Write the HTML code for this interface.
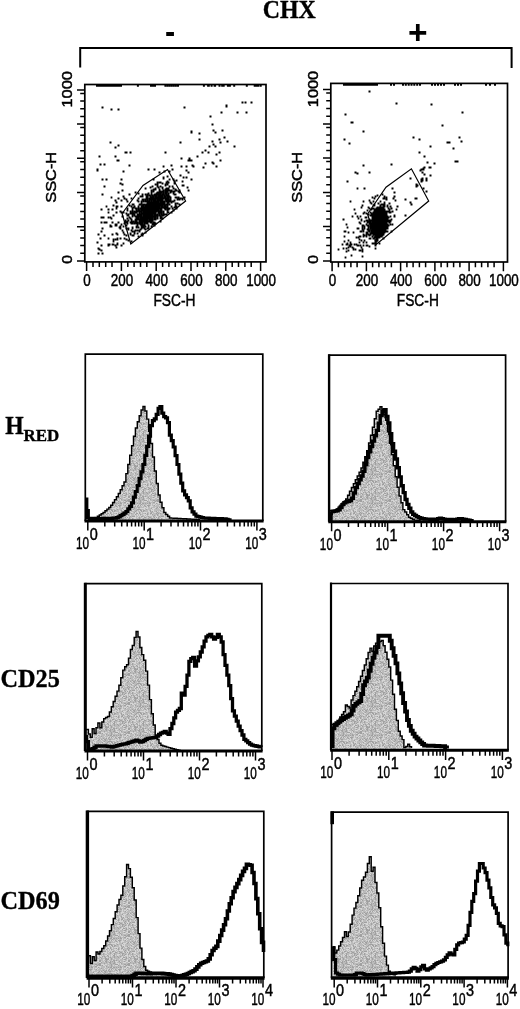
<!DOCTYPE html>
<html lang="en"><head><meta charset="utf-8"><title>CHX figure</title>
<style>html,body{margin:0;padding:0;background:#fff}svg{display:block}text{fill:#000}.s text{stroke:#000;stroke-width:.45px}.b text{stroke:#000;stroke-width:.35px}</style></head><body>
<svg width="520" height="1009" viewBox="0 0 520 1009" font-family='"Liberation Sans", "DejaVu Sans", sans-serif'>
<defs><pattern id="stip" width="29" height="29" patternUnits="userSpaceOnUse"><rect width="29" height="29" fill="#bbb"/><path d="M2 0h1v1h-1zM6 0h1v1h-1zM7 0h1v1h-1zM8 0h1v1h-1zM10 0h1v1h-1zM13 0h1v1h-1zM16 0h1v1h-1zM18 0h1v1h-1zM20 0h1v1h-1zM23 0h1v1h-1zM27 0h1v1h-1zM6 1h1v1h-1zM10 1h1v1h-1zM13 1h1v1h-1zM14 1h1v1h-1zM18 1h1v1h-1zM19 1h1v1h-1zM21 1h1v1h-1zM22 1h1v1h-1zM24 1h1v1h-1zM8 2h1v1h-1zM9 2h1v1h-1zM11 2h1v1h-1zM17 2h1v1h-1zM18 2h1v1h-1zM19 2h1v1h-1zM20 2h1v1h-1zM21 2h1v1h-1zM22 2h1v1h-1zM24 2h1v1h-1zM0 3h1v1h-1zM12 3h1v1h-1zM13 3h1v1h-1zM19 3h1v1h-1zM25 3h1v1h-1zM26 3h1v1h-1zM27 3h1v1h-1zM1 4h1v1h-1zM3 4h1v1h-1zM4 4h1v1h-1zM8 4h1v1h-1zM12 4h1v1h-1zM13 4h1v1h-1zM14 4h1v1h-1zM18 4h1v1h-1zM19 4h1v1h-1zM23 4h1v1h-1zM25 4h1v1h-1zM27 4h1v1h-1zM4 5h1v1h-1zM8 5h1v1h-1zM13 5h1v1h-1zM14 5h1v1h-1zM19 5h1v1h-1zM22 5h1v1h-1zM23 5h1v1h-1zM27 5h1v1h-1zM1 6h1v1h-1zM5 6h1v1h-1zM12 6h1v1h-1zM13 6h1v1h-1zM17 6h1v1h-1zM21 6h1v1h-1zM23 6h1v1h-1zM26 6h1v1h-1zM27 6h1v1h-1zM0 7h1v1h-1zM1 7h1v1h-1zM8 7h1v1h-1zM9 7h1v1h-1zM11 7h1v1h-1zM12 7h1v1h-1zM13 7h1v1h-1zM15 7h1v1h-1zM16 7h1v1h-1zM18 7h1v1h-1zM24 7h1v1h-1zM28 7h1v1h-1zM0 8h1v1h-1zM2 8h1v1h-1zM5 8h1v1h-1zM6 8h1v1h-1zM10 8h1v1h-1zM12 8h1v1h-1zM13 8h1v1h-1zM15 8h1v1h-1zM16 8h1v1h-1zM24 8h1v1h-1zM26 8h1v1h-1zM4 9h1v1h-1zM8 9h1v1h-1zM9 9h1v1h-1zM12 9h1v1h-1zM19 9h1v1h-1zM24 9h1v1h-1zM0 10h1v1h-1zM2 10h1v1h-1zM4 10h1v1h-1zM5 10h1v1h-1zM11 10h1v1h-1zM21 10h1v1h-1zM23 10h1v1h-1zM24 10h1v1h-1zM25 10h1v1h-1zM26 10h1v1h-1zM27 10h1v1h-1zM8 11h1v1h-1zM11 11h1v1h-1zM14 11h1v1h-1zM17 11h1v1h-1zM25 11h1v1h-1zM1 12h1v1h-1zM2 12h1v1h-1zM3 12h1v1h-1zM4 12h1v1h-1zM9 12h1v1h-1zM14 12h1v1h-1zM18 12h1v1h-1zM22 12h1v1h-1zM24 12h1v1h-1zM28 12h1v1h-1zM0 13h1v1h-1zM3 13h1v1h-1zM5 13h1v1h-1zM7 13h1v1h-1zM16 13h1v1h-1zM19 13h1v1h-1zM21 13h1v1h-1zM12 14h1v1h-1zM13 14h1v1h-1zM14 14h1v1h-1zM17 14h1v1h-1zM18 14h1v1h-1zM22 14h1v1h-1zM23 14h1v1h-1zM6 15h1v1h-1zM11 15h1v1h-1zM18 15h1v1h-1zM21 15h1v1h-1zM24 15h1v1h-1zM25 15h1v1h-1zM27 15h1v1h-1zM1 16h1v1h-1zM8 16h1v1h-1zM15 16h1v1h-1zM17 16h1v1h-1zM21 16h1v1h-1zM22 16h1v1h-1zM23 16h1v1h-1zM24 16h1v1h-1zM5 17h1v1h-1zM7 17h1v1h-1zM15 17h1v1h-1zM17 17h1v1h-1zM20 17h1v1h-1zM23 17h1v1h-1zM24 17h1v1h-1zM25 17h1v1h-1zM26 17h1v1h-1zM27 17h1v1h-1zM28 17h1v1h-1zM5 18h1v1h-1zM7 18h1v1h-1zM11 18h1v1h-1zM12 18h1v1h-1zM19 18h1v1h-1zM25 18h1v1h-1zM27 18h1v1h-1zM0 19h1v1h-1zM4 19h1v1h-1zM6 19h1v1h-1zM12 19h1v1h-1zM16 19h1v1h-1zM18 19h1v1h-1zM21 19h1v1h-1zM23 19h1v1h-1zM0 20h1v1h-1zM1 20h1v1h-1zM2 20h1v1h-1zM4 20h1v1h-1zM5 20h1v1h-1zM6 20h1v1h-1zM11 20h1v1h-1zM13 20h1v1h-1zM15 20h1v1h-1zM19 20h1v1h-1zM20 20h1v1h-1zM21 20h1v1h-1zM22 20h1v1h-1zM23 20h1v1h-1zM2 21h1v1h-1zM4 21h1v1h-1zM7 21h1v1h-1zM12 21h1v1h-1zM19 21h1v1h-1zM23 21h1v1h-1zM24 21h1v1h-1zM27 21h1v1h-1zM3 22h1v1h-1zM4 22h1v1h-1zM6 22h1v1h-1zM9 22h1v1h-1zM12 22h1v1h-1zM19 22h1v1h-1zM21 22h1v1h-1zM25 22h1v1h-1zM28 22h1v1h-1zM3 23h1v1h-1zM8 23h1v1h-1zM14 23h1v1h-1zM16 23h1v1h-1zM17 23h1v1h-1zM18 23h1v1h-1zM25 23h1v1h-1zM26 23h1v1h-1zM0 24h1v1h-1zM4 24h1v1h-1zM5 24h1v1h-1zM9 24h1v1h-1zM11 24h1v1h-1zM12 24h1v1h-1zM13 24h1v1h-1zM23 24h1v1h-1zM27 24h1v1h-1zM28 24h1v1h-1zM3 25h1v1h-1zM6 25h1v1h-1zM7 25h1v1h-1zM11 25h1v1h-1zM13 25h1v1h-1zM16 25h1v1h-1zM23 25h1v1h-1zM27 25h1v1h-1zM2 26h1v1h-1zM6 26h1v1h-1zM9 26h1v1h-1zM12 26h1v1h-1zM16 26h1v1h-1zM24 26h1v1h-1zM27 26h1v1h-1zM2 27h1v1h-1zM6 27h1v1h-1zM8 27h1v1h-1zM9 27h1v1h-1zM13 27h1v1h-1zM18 27h1v1h-1zM20 27h1v1h-1zM26 27h1v1h-1zM27 27h1v1h-1zM1 28h1v1h-1zM4 28h1v1h-1zM13 28h1v1h-1zM15 28h1v1h-1zM17 28h1v1h-1zM21 28h1v1h-1zM27 28h1v1h-1z" fill="#a0a0a0"/><path d="M5 0h1v1h-1zM6 0h1v1h-1zM11 0h1v1h-1zM16 0h1v1h-1zM19 0h1v1h-1zM20 0h1v1h-1zM4 1h1v1h-1zM5 1h1v1h-1zM7 1h1v1h-1zM8 1h1v1h-1zM13 1h1v1h-1zM22 1h1v1h-1zM26 1h1v1h-1zM3 2h1v1h-1zM11 2h1v1h-1zM16 2h1v1h-1zM17 2h1v1h-1zM22 2h1v1h-1zM28 2h1v1h-1zM7 3h1v1h-1zM8 3h1v1h-1zM11 3h1v1h-1zM16 3h1v1h-1zM21 3h1v1h-1zM25 3h1v1h-1zM0 4h1v1h-1zM1 4h1v1h-1zM4 4h1v1h-1zM10 4h1v1h-1zM11 4h1v1h-1zM14 4h1v1h-1zM17 4h1v1h-1zM22 4h1v1h-1zM28 4h1v1h-1zM0 5h1v1h-1zM7 5h1v1h-1zM8 5h1v1h-1zM9 5h1v1h-1zM12 5h1v1h-1zM13 5h1v1h-1zM0 6h1v1h-1zM1 6h1v1h-1zM2 6h1v1h-1zM4 6h1v1h-1zM21 6h1v1h-1zM2 7h1v1h-1zM4 7h1v1h-1zM14 7h1v1h-1zM15 7h1v1h-1zM16 7h1v1h-1zM18 7h1v1h-1zM19 7h1v1h-1zM0 8h1v1h-1zM1 8h1v1h-1zM5 8h1v1h-1zM6 8h1v1h-1zM8 8h1v1h-1zM16 8h1v1h-1zM17 8h1v1h-1zM21 8h1v1h-1zM26 8h1v1h-1zM28 8h1v1h-1zM10 9h1v1h-1zM11 9h1v1h-1zM12 9h1v1h-1zM13 9h1v1h-1zM18 9h1v1h-1zM6 10h1v1h-1zM10 10h1v1h-1zM13 10h1v1h-1zM18 10h1v1h-1zM25 10h1v1h-1zM2 11h1v1h-1zM6 11h1v1h-1zM8 11h1v1h-1zM9 11h1v1h-1zM11 11h1v1h-1zM17 11h1v1h-1zM21 11h1v1h-1zM1 12h1v1h-1zM6 12h1v1h-1zM10 12h1v1h-1zM14 12h1v1h-1zM18 12h1v1h-1zM20 12h1v1h-1zM23 12h1v1h-1zM25 12h1v1h-1zM27 12h1v1h-1zM2 13h1v1h-1zM5 13h1v1h-1zM6 13h1v1h-1zM7 13h1v1h-1zM20 13h1v1h-1zM26 13h1v1h-1zM0 14h1v1h-1zM2 14h1v1h-1zM5 14h1v1h-1zM10 14h1v1h-1zM13 14h1v1h-1zM16 14h1v1h-1zM28 14h1v1h-1zM1 15h1v1h-1zM2 15h1v1h-1zM7 15h1v1h-1zM8 15h1v1h-1zM9 15h1v1h-1zM14 15h1v1h-1zM21 15h1v1h-1zM24 15h1v1h-1zM25 15h1v1h-1zM26 15h1v1h-1zM27 15h1v1h-1zM28 15h1v1h-1zM6 16h1v1h-1zM8 16h1v1h-1zM15 16h1v1h-1zM28 16h1v1h-1zM3 17h1v1h-1zM6 17h1v1h-1zM7 17h1v1h-1zM8 17h1v1h-1zM16 17h1v1h-1zM17 17h1v1h-1zM23 17h1v1h-1zM26 17h1v1h-1zM3 18h1v1h-1zM4 18h1v1h-1zM8 18h1v1h-1zM12 18h1v1h-1zM14 18h1v1h-1zM21 18h1v1h-1zM24 18h1v1h-1zM0 19h1v1h-1zM1 19h1v1h-1zM4 19h1v1h-1zM9 19h1v1h-1zM10 19h1v1h-1zM15 19h1v1h-1zM16 19h1v1h-1zM19 19h1v1h-1zM21 19h1v1h-1zM22 19h1v1h-1zM25 19h1v1h-1zM27 19h1v1h-1zM28 19h1v1h-1zM1 20h1v1h-1zM4 20h1v1h-1zM7 20h1v1h-1zM19 20h1v1h-1zM22 20h1v1h-1zM25 20h1v1h-1zM0 21h1v1h-1zM4 21h1v1h-1zM6 21h1v1h-1zM14 21h1v1h-1zM18 21h1v1h-1zM21 21h1v1h-1zM23 21h1v1h-1zM27 21h1v1h-1zM28 21h1v1h-1zM1 22h1v1h-1zM3 22h1v1h-1zM4 22h1v1h-1zM5 22h1v1h-1zM6 22h1v1h-1zM11 22h1v1h-1zM14 22h1v1h-1zM19 22h1v1h-1zM21 22h1v1h-1zM23 22h1v1h-1zM25 22h1v1h-1zM28 22h1v1h-1zM0 23h1v1h-1zM7 23h1v1h-1zM11 23h1v1h-1zM12 23h1v1h-1zM19 23h1v1h-1zM22 23h1v1h-1zM24 23h1v1h-1zM2 24h1v1h-1zM7 24h1v1h-1zM10 24h1v1h-1zM12 24h1v1h-1zM16 24h1v1h-1zM17 24h1v1h-1zM18 24h1v1h-1zM19 24h1v1h-1zM21 24h1v1h-1zM26 24h1v1h-1zM27 24h1v1h-1zM11 25h1v1h-1zM15 25h1v1h-1zM18 25h1v1h-1zM19 25h1v1h-1zM25 25h1v1h-1zM1 26h1v1h-1zM2 26h1v1h-1zM3 26h1v1h-1zM5 26h1v1h-1zM11 26h1v1h-1zM20 26h1v1h-1zM24 26h1v1h-1zM26 26h1v1h-1zM1 27h1v1h-1zM2 27h1v1h-1zM9 27h1v1h-1zM10 27h1v1h-1zM11 27h1v1h-1zM13 27h1v1h-1zM15 27h1v1h-1zM18 27h1v1h-1zM19 27h1v1h-1zM22 27h1v1h-1zM24 27h1v1h-1zM25 27h1v1h-1zM28 27h1v1h-1zM6 28h1v1h-1zM8 28h1v1h-1zM11 28h1v1h-1zM13 28h1v1h-1zM14 28h1v1h-1zM22 28h1v1h-1zM24 28h1v1h-1z" fill="#d6d6d6"/></pattern></defs>
<rect width="520" height="1009" fill="#fff"/>
<g class="b" font-family='"Liberation Serif", "DejaVu Serif", serif' font-weight="bold">
<text transform="translate(289.3 17.6) scale(0.955 1)" font-size="25" text-anchor="middle">CHX</text>
</g>
<g font-weight="bold">
<text transform="translate(170 43.3) scale(0.9 1)" font-size="34" text-anchor="middle">-</text>
<text x="417.9" y="44.4" font-size="33.5" text-anchor="middle">+</text>
</g>
<path d="M80.2 67.5V47.9H511.6V68" fill="none" stroke="#000" stroke-width="2"/>
<g class="s">
<rect x="84.8" y="84.5" width="181.2" height="177.4" fill="none" stroke="#000" stroke-width="1.7"/>
<path d="M84.8 260.9h-7.8M86.6 261.9v9.2M93 261.9v5.2M99.3 261.9v5.2M105.7 261.9v5.2M112 261.9v5.2M84.8 226.7h-7.8M121.4 261.9v9.2M84.8 230.2h-4.6M127.8 261.9v5.2M84.8 237.9h-4.6M134.1 261.9v5.2M84.8 245.6h-4.6M140.5 261.9v5.2M84.8 253.3h-4.6M146.8 261.9v5.2M84.8 192.5h-7.8M156.2 261.9v9.2M84.8 196h-4.6M162.6 261.9v5.2M84.8 203.7h-4.6M168.9 261.9v5.2M84.8 211.4h-4.6M175.3 261.9v5.2M84.8 219.1h-4.6M181.6 261.9v5.2M84.8 158.3h-7.8M191 261.9v9.2M84.8 161.8h-4.6M197.4 261.9v5.2M84.8 169.5h-4.6M203.7 261.9v5.2M84.8 177.2h-4.6M210.1 261.9v5.2M84.8 184.9h-4.6M216.4 261.9v5.2M84.8 124.1h-7.8M225.8 261.9v9.2M84.8 127.6h-4.6M232.2 261.9v5.2M84.8 135.3h-4.6M238.5 261.9v5.2M84.8 143h-4.6M244.9 261.9v5.2M84.8 150.7h-4.6M251.2 261.9v5.2M84.8 89.9h-7.8M260.6 261.9v9.2M84.8 93.4h-4.6M84.8 101.1h-4.6M84.8 108.8h-4.6M84.8 116.5h-4.6" stroke="#000" stroke-width="1.5" fill="none"/>
<text transform="translate(87.1 285.6) scale(0.85 1)" font-size="15.8" text-anchor="middle">0</text>
<text transform="translate(121.9 285.6) scale(0.85 1)" font-size="15.8" text-anchor="middle">200</text>
<text transform="translate(156.7 285.6) scale(0.85 1)" font-size="15.8" text-anchor="middle">400</text>
<text transform="translate(191.5 285.6) scale(0.85 1)" font-size="15.8" text-anchor="middle">600</text>
<text transform="translate(226.3 285.6) scale(0.85 1)" font-size="15.8" text-anchor="middle">800</text>
<text transform="translate(261.1 285.6) scale(0.85 1)" font-size="15.8" text-anchor="middle">1000</text>
<text transform="translate(174.5 306.2) scale(0.83 1)" font-size="16.6" text-anchor="middle">FSC-H</text>
<text transform="translate(71.8 89.3) rotate(-90) scale(1.17 1)" font-size="14" text-anchor="middle">1000</text>
<text transform="translate(71.8 259.4) rotate(-90) scale(1.12 1)" font-size="14" text-anchor="middle">0</text>
<text transform="translate(55.5 177.3) rotate(-90) scale(1.09 1)" font-size="15" text-anchor="middle">SSC-H</text>
<path d="M156.6 193.6h1.9v1.9h-1.9zM150.6 214.6h1.9v1.9h-1.9zM149.6 207.6h1.9v1.9h-1.9zM154.6 206.6h1.9v1.9h-1.9zM147.6 215.6h1.9v1.9h-1.9zM147.6 206.6h1.9v1.9h-1.9zM151.6 209.6h1.9v1.9h-1.9zM141.6 222.6h1.9v1.9h-1.9zM156.6 201.6h1.9v1.9h-1.9zM151.6 202.6h1.9v1.9h-1.9zM145.6 212.6h1.9v1.9h-1.9zM151.6 211.6h1.9v1.9h-1.9zM160.6 210.6h1.9v1.9h-1.9zM145.6 208.6h1.9v1.9h-1.9zM150.6 211.6h1.9v1.9h-1.9zM140.6 218.6h1.9v1.9h-1.9zM155.6 206.6h1.9v1.9h-1.9zM152.6 208.6h1.9v1.9h-1.9zM155.6 209.6h1.9v1.9h-1.9zM131.6 213.6h1.9v1.9h-1.9zM157.6 194.6h1.9v1.9h-1.9zM147.6 204.6h1.9v1.9h-1.9zM147.6 211.6h1.9v1.9h-1.9zM158.6 191.6h1.9v1.9h-1.9zM147.6 207.6h1.9v1.9h-1.9zM144.6 221.6h1.9v1.9h-1.9zM154.6 216.6h1.9v1.9h-1.9zM127.5 219.6h1.9v1.9h-1.9zM154.6 199.6h1.9v1.9h-1.9zM148.6 212.6h1.9v1.9h-1.9zM145.6 214.6h1.9v1.9h-1.9zM154.6 199.6h1.9v1.9h-1.9zM136.6 217.6h1.9v1.9h-1.9zM149.6 202.6h1.9v1.9h-1.9zM141.6 226.6h1.9v1.9h-1.9zM150.6 216.6h1.9v1.9h-1.9zM143.6 218.6h1.9v1.9h-1.9zM155.6 195.6h1.9v1.9h-1.9zM160.6 195.6h1.9v1.9h-1.9zM147.6 210.6h1.9v1.9h-1.9zM156.6 203.6h1.9v1.9h-1.9zM149.6 210.6h1.9v1.9h-1.9zM150.6 202.6h1.9v1.9h-1.9zM146.6 214.6h1.9v1.9h-1.9zM136.6 218.6h1.9v1.9h-1.9zM142.6 224.6h1.9v1.9h-1.9zM156.6 208.6h1.9v1.9h-1.9zM158.6 188.6h1.9v1.9h-1.9zM152.6 207.6h1.9v1.9h-1.9zM143.6 210.6h1.9v1.9h-1.9zM164.6 196.6h1.9v1.9h-1.9zM154.6 208.6h1.9v1.9h-1.9zM149.6 207.6h1.9v1.9h-1.9zM154.6 209.6h1.9v1.9h-1.9zM147.6 208.6h1.9v1.9h-1.9zM146.6 209.6h1.9v1.9h-1.9zM140.6 218.6h1.9v1.9h-1.9zM152.6 204.6h1.9v1.9h-1.9zM148.6 208.6h1.9v1.9h-1.9zM157.6 199.6h1.9v1.9h-1.9zM145.6 209.6h1.9v1.9h-1.9zM142.6 225.6h1.9v1.9h-1.9zM153.6 211.6h1.9v1.9h-1.9zM157.6 194.6h1.9v1.9h-1.9zM142.6 207.6h1.9v1.9h-1.9zM147.6 217.6h1.9v1.9h-1.9zM147.6 220.6h1.9v1.9h-1.9zM143.6 216.6h1.9v1.9h-1.9zM143.6 207.6h1.9v1.9h-1.9zM144.6 218.6h1.9v1.9h-1.9zM163.6 200.6h1.9v1.9h-1.9zM141.6 205.6h1.9v1.9h-1.9zM152.6 208.6h1.9v1.9h-1.9zM156.6 196.6h1.9v1.9h-1.9zM155.6 194.6h1.9v1.9h-1.9zM150.6 211.6h1.9v1.9h-1.9zM147.6 202.6h1.9v1.9h-1.9zM155.6 203.6h1.9v1.9h-1.9zM153.6 213.6h1.9v1.9h-1.9zM140.6 222.6h1.9v1.9h-1.9zM150.6 201.6h1.9v1.9h-1.9zM148.6 197.6h1.9v1.9h-1.9zM147.6 202.6h1.9v1.9h-1.9zM138.6 211.6h1.9v1.9h-1.9zM154.6 214.6h1.9v1.9h-1.9zM145.6 212.6h1.9v1.9h-1.9zM144.6 208.6h1.9v1.9h-1.9zM152.6 195.6h1.9v1.9h-1.9zM154.6 194.6h1.9v1.9h-1.9zM152.6 202.6h1.9v1.9h-1.9zM148.6 201.6h1.9v1.9h-1.9zM159.6 207.6h1.9v1.9h-1.9zM147.6 206.6h1.9v1.9h-1.9zM146.6 207.6h1.9v1.9h-1.9zM147.6 214.6h1.9v1.9h-1.9zM154.6 212.6h1.9v1.9h-1.9zM167.6 194.6h1.9v1.9h-1.9zM153.6 200.6h1.9v1.9h-1.9zM149.6 211.6h1.9v1.9h-1.9zM147.6 212.6h1.9v1.9h-1.9zM147.6 216.6h1.9v1.9h-1.9zM152.6 206.6h1.9v1.9h-1.9zM148.6 203.6h1.9v1.9h-1.9zM137.6 216.6h1.9v1.9h-1.9zM153.6 205.6h1.9v1.9h-1.9zM142.6 209.6h1.9v1.9h-1.9zM162.6 200.6h1.9v1.9h-1.9zM151.6 207.6h1.9v1.9h-1.9zM155.6 192.6h1.9v1.9h-1.9zM146.6 211.6h1.9v1.9h-1.9zM146.6 209.6h1.9v1.9h-1.9zM151.6 205.6h1.9v1.9h-1.9zM159.6 202.6h1.9v1.9h-1.9zM148.6 200.6h1.9v1.9h-1.9zM136.6 213.6h1.9v1.9h-1.9zM152.6 207.6h1.9v1.9h-1.9zM149.6 207.6h1.9v1.9h-1.9zM148.6 212.6h1.9v1.9h-1.9zM147.6 214.6h1.9v1.9h-1.9zM159.6 194.6h1.9v1.9h-1.9zM150.6 213.6h1.9v1.9h-1.9zM142.6 212.6h1.9v1.9h-1.9zM153.6 203.6h1.9v1.9h-1.9zM147.6 205.6h1.9v1.9h-1.9zM145.6 206.6h1.9v1.9h-1.9zM156.6 204.6h1.9v1.9h-1.9zM154.6 206.6h1.9v1.9h-1.9zM145.6 200.6h1.9v1.9h-1.9zM151.6 198.6h1.9v1.9h-1.9zM152.6 207.6h1.9v1.9h-1.9zM150.6 215.6h1.9v1.9h-1.9zM145.6 209.6h1.9v1.9h-1.9zM146.6 212.6h1.9v1.9h-1.9zM146.6 203.6h1.9v1.9h-1.9zM152.6 223.6h1.9v1.9h-1.9zM141.6 223.6h1.9v1.9h-1.9zM153.6 210.6h1.9v1.9h-1.9zM144.6 220.6h1.9v1.9h-1.9zM142.6 225.6h1.9v1.9h-1.9zM154.6 207.6h1.9v1.9h-1.9zM144.6 213.6h1.9v1.9h-1.9zM155.6 206.6h1.9v1.9h-1.9zM147.6 212.6h1.9v1.9h-1.9zM148.6 220.6h1.9v1.9h-1.9zM140.6 216.6h1.9v1.9h-1.9zM145.6 211.6h1.9v1.9h-1.9zM150.6 212.6h1.9v1.9h-1.9zM149.6 218.6h1.9v1.9h-1.9zM148.6 211.6h1.9v1.9h-1.9zM139.6 218.6h1.9v1.9h-1.9zM149.6 208.6h1.9v1.9h-1.9zM138.6 221.6h1.9v1.9h-1.9zM155.6 214.6h1.9v1.9h-1.9zM156.6 205.6h1.9v1.9h-1.9zM160.6 203.6h1.9v1.9h-1.9zM160.6 196.6h1.9v1.9h-1.9zM139.6 219.6h1.9v1.9h-1.9zM158.6 205.6h1.9v1.9h-1.9zM162.6 203.6h1.9v1.9h-1.9zM157.6 202.6h1.9v1.9h-1.9zM144.6 215.6h1.9v1.9h-1.9zM156.6 208.6h1.9v1.9h-1.9zM158.6 193.6h1.9v1.9h-1.9zM144.6 221.6h1.9v1.9h-1.9zM150.6 203.6h1.9v1.9h-1.9zM152.6 197.6h1.9v1.9h-1.9zM148.6 215.6h1.9v1.9h-1.9zM154.6 204.6h1.9v1.9h-1.9zM150.6 221.6h1.9v1.9h-1.9zM144.6 214.6h1.9v1.9h-1.9zM145.6 214.6h1.9v1.9h-1.9zM147.6 204.6h1.9v1.9h-1.9zM142.6 204.6h1.9v1.9h-1.9zM149.6 196.6h1.9v1.9h-1.9zM146.6 216.6h1.9v1.9h-1.9zM145.6 206.6h1.9v1.9h-1.9zM159.6 203.6h1.9v1.9h-1.9zM158.6 207.6h1.9v1.9h-1.9zM141.6 218.6h1.9v1.9h-1.9zM159.6 207.6h1.9v1.9h-1.9zM148.6 212.6h1.9v1.9h-1.9zM156.6 208.6h1.9v1.9h-1.9zM150.6 205.6h1.9v1.9h-1.9zM160.6 201.6h1.9v1.9h-1.9zM147.6 205.6h1.9v1.9h-1.9zM141.6 224.6h1.9v1.9h-1.9zM140.6 217.6h1.9v1.9h-1.9zM153.6 202.6h1.9v1.9h-1.9zM150.6 212.6h1.9v1.9h-1.9zM156.6 200.6h1.9v1.9h-1.9zM151.6 206.6h1.9v1.9h-1.9zM148.6 216.6h1.9v1.9h-1.9zM158.6 202.6h1.9v1.9h-1.9zM140.6 211.6h1.9v1.9h-1.9zM140.6 225.6h1.9v1.9h-1.9zM163.6 194.6h1.9v1.9h-1.9zM136.6 221.6h1.9v1.9h-1.9zM154.6 204.6h1.9v1.9h-1.9zM150.6 197.6h1.9v1.9h-1.9zM155.6 210.6h1.9v1.9h-1.9zM139.6 220.6h1.9v1.9h-1.9zM155.6 200.6h1.9v1.9h-1.9zM146.6 222.6h1.9v1.9h-1.9zM142.6 218.6h1.9v1.9h-1.9zM150.6 212.6h1.9v1.9h-1.9zM150.6 199.6h1.9v1.9h-1.9zM149.6 204.6h1.9v1.9h-1.9zM149.6 198.6h1.9v1.9h-1.9zM146.6 211.6h1.9v1.9h-1.9zM152.6 212.6h1.9v1.9h-1.9zM144.6 217.6h1.9v1.9h-1.9zM151.6 213.6h1.9v1.9h-1.9zM149.6 201.6h1.9v1.9h-1.9zM145.6 208.6h1.9v1.9h-1.9zM151.6 203.6h1.9v1.9h-1.9zM148.6 214.6h1.9v1.9h-1.9zM147.6 213.6h1.9v1.9h-1.9zM150.6 208.6h1.9v1.9h-1.9zM151.6 211.6h1.9v1.9h-1.9zM152.6 203.6h1.9v1.9h-1.9zM150.6 207.6h1.9v1.9h-1.9zM164.6 198.6h1.9v1.9h-1.9zM146.6 208.6h1.9v1.9h-1.9zM149.6 210.6h1.9v1.9h-1.9zM149.6 220.6h1.9v1.9h-1.9zM150.6 208.6h1.9v1.9h-1.9zM156.6 204.6h1.9v1.9h-1.9zM143.6 212.6h1.9v1.9h-1.9zM156.6 213.6h1.9v1.9h-1.9zM146.6 197.6h1.9v1.9h-1.9zM145.6 206.6h1.9v1.9h-1.9zM143.6 209.6h1.9v1.9h-1.9zM161.6 205.6h1.9v1.9h-1.9zM151.6 208.6h1.9v1.9h-1.9zM151.6 204.6h1.9v1.9h-1.9zM151.6 196.6h1.9v1.9h-1.9zM157.6 200.6h1.9v1.9h-1.9zM148.6 211.6h1.9v1.9h-1.9zM144.6 210.6h1.9v1.9h-1.9zM146.6 202.6h1.9v1.9h-1.9zM145.6 206.6h1.9v1.9h-1.9zM140.6 223.6h1.9v1.9h-1.9zM158.6 199.6h1.9v1.9h-1.9zM150.6 208.6h1.9v1.9h-1.9zM153.6 202.6h1.9v1.9h-1.9zM137.6 213.6h1.9v1.9h-1.9zM157.6 198.6h1.9v1.9h-1.9zM143.6 210.6h1.9v1.9h-1.9zM149.6 209.6h1.9v1.9h-1.9zM143.6 220.6h1.9v1.9h-1.9zM146.6 208.6h1.9v1.9h-1.9zM145.6 207.6h1.9v1.9h-1.9zM152.6 212.6h1.9v1.9h-1.9zM153.6 205.6h1.9v1.9h-1.9zM148.6 206.6h1.9v1.9h-1.9zM144.6 193.6h1.9v1.9h-1.9zM147.6 211.6h1.9v1.9h-1.9zM146.6 217.6h1.9v1.9h-1.9zM153.6 211.6h1.9v1.9h-1.9zM151.6 201.6h1.9v1.9h-1.9zM154.6 197.6h1.9v1.9h-1.9zM152.6 201.6h1.9v1.9h-1.9zM143.6 224.6h1.9v1.9h-1.9zM147.6 202.6h1.9v1.9h-1.9zM157.6 196.6h1.9v1.9h-1.9zM147.6 205.6h1.9v1.9h-1.9zM148.6 213.6h1.9v1.9h-1.9zM146.6 202.6h1.9v1.9h-1.9zM148.6 213.6h1.9v1.9h-1.9zM151.6 202.6h1.9v1.9h-1.9zM149.6 208.6h1.9v1.9h-1.9zM159.6 199.6h1.9v1.9h-1.9zM156.6 207.6h1.9v1.9h-1.9zM140.6 209.6h1.9v1.9h-1.9zM156.6 206.6h1.9v1.9h-1.9zM157.6 202.6h1.9v1.9h-1.9zM145.6 212.6h1.9v1.9h-1.9zM152.6 215.6h1.9v1.9h-1.9zM137.6 226.6h1.9v1.9h-1.9zM159.6 204.6h1.9v1.9h-1.9zM144.6 211.6h1.9v1.9h-1.9zM135.6 222.6h1.9v1.9h-1.9zM144.6 225.6h1.9v1.9h-1.9zM156.6 215.6h1.9v1.9h-1.9zM156.6 204.6h1.9v1.9h-1.9zM152.6 211.6h1.9v1.9h-1.9zM150.6 203.6h1.9v1.9h-1.9zM139.6 213.6h1.9v1.9h-1.9zM141.6 218.6h1.9v1.9h-1.9zM160.6 205.6h1.9v1.9h-1.9zM146.6 200.6h1.9v1.9h-1.9zM148.6 207.6h1.9v1.9h-1.9zM150.6 193.6h1.9v1.9h-1.9zM145.6 216.6h1.9v1.9h-1.9zM150.6 213.6h1.9v1.9h-1.9zM151.6 197.6h1.9v1.9h-1.9zM158.6 193.6h1.9v1.9h-1.9zM154.6 211.6h1.9v1.9h-1.9zM158.6 195.6h1.9v1.9h-1.9zM142.6 210.6h1.9v1.9h-1.9zM147.6 202.6h1.9v1.9h-1.9zM141.6 204.6h1.9v1.9h-1.9zM143.6 222.6h1.9v1.9h-1.9zM148.6 204.6h1.9v1.9h-1.9zM158.6 203.6h1.9v1.9h-1.9zM152.6 211.6h1.9v1.9h-1.9zM147.6 207.6h1.9v1.9h-1.9zM155.6 196.6h1.9v1.9h-1.9zM145.6 220.6h1.9v1.9h-1.9zM142.6 220.6h1.9v1.9h-1.9zM147.6 214.6h1.9v1.9h-1.9zM137.6 213.6h1.9v1.9h-1.9zM160.6 200.6h1.9v1.9h-1.9zM148.6 203.6h1.9v1.9h-1.9zM137.6 209.6h1.9v1.9h-1.9zM144.6 211.6h1.9v1.9h-1.9zM167.6 187.6h1.9v1.9h-1.9zM153.6 218.6h1.9v1.9h-1.9zM144.6 213.6h1.9v1.9h-1.9zM147.6 202.6h1.9v1.9h-1.9zM160.6 208.6h1.9v1.9h-1.9zM151.6 207.6h1.9v1.9h-1.9zM144.6 214.6h1.9v1.9h-1.9zM139.6 214.6h1.9v1.9h-1.9zM149.6 201.6h1.9v1.9h-1.9zM154.6 212.6h1.9v1.9h-1.9zM139.6 220.6h1.9v1.9h-1.9zM154.6 198.6h1.9v1.9h-1.9zM152.6 201.6h1.9v1.9h-1.9zM154.6 214.6h1.9v1.9h-1.9zM146.6 209.6h1.9v1.9h-1.9zM153.6 208.6h1.9v1.9h-1.9zM147.6 214.6h1.9v1.9h-1.9zM143.6 219.6h1.9v1.9h-1.9zM148.6 203.6h1.9v1.9h-1.9zM144.6 221.6h1.9v1.9h-1.9zM157.6 209.6h1.9v1.9h-1.9zM141.6 219.6h1.9v1.9h-1.9zM146.6 206.6h1.9v1.9h-1.9zM144.6 206.6h1.9v1.9h-1.9zM160.6 195.6h1.9v1.9h-1.9zM143.6 216.6h1.9v1.9h-1.9zM141.6 219.6h1.9v1.9h-1.9zM146.6 213.6h1.9v1.9h-1.9zM138.6 213.6h1.9v1.9h-1.9zM149.6 215.6h1.9v1.9h-1.9zM153.6 205.6h1.9v1.9h-1.9zM154.6 202.6h1.9v1.9h-1.9zM159.6 196.6h1.9v1.9h-1.9zM149.6 216.6h1.9v1.9h-1.9zM164.6 188.6h1.9v1.9h-1.9zM157.6 191.6h1.9v1.9h-1.9zM152.6 212.6h1.9v1.9h-1.9zM135.6 225.6h1.9v1.9h-1.9zM147.6 207.6h1.9v1.9h-1.9zM144.6 204.6h1.9v1.9h-1.9zM137.6 226.6h1.9v1.9h-1.9zM146.6 205.6h1.9v1.9h-1.9zM147.6 208.6h1.9v1.9h-1.9zM147.6 215.6h1.9v1.9h-1.9zM153.6 203.6h1.9v1.9h-1.9zM159.6 203.6h1.9v1.9h-1.9zM148.6 213.6h1.9v1.9h-1.9zM149.6 205.6h1.9v1.9h-1.9zM145.6 212.6h1.9v1.9h-1.9zM143.6 213.6h1.9v1.9h-1.9zM152.6 209.6h1.9v1.9h-1.9zM152.6 204.6h1.9v1.9h-1.9zM145.6 211.6h1.9v1.9h-1.9zM140.6 227.6h1.9v1.9h-1.9zM153.6 204.6h1.9v1.9h-1.9zM139.6 219.6h1.9v1.9h-1.9zM145.6 203.6h1.9v1.9h-1.9zM161.6 195.6h1.9v1.9h-1.9zM150.6 209.6h1.9v1.9h-1.9zM143.6 217.6h1.9v1.9h-1.9zM140.6 218.6h1.9v1.9h-1.9zM153.6 197.6h1.9v1.9h-1.9zM149.6 208.6h1.9v1.9h-1.9zM153.6 204.6h1.9v1.9h-1.9zM154.6 201.6h1.9v1.9h-1.9zM149.6 208.6h1.9v1.9h-1.9zM146.6 209.6h1.9v1.9h-1.9zM145.6 216.6h1.9v1.9h-1.9zM133.6 232.6h1.9v1.9h-1.9zM138.6 218.6h1.9v1.9h-1.9zM152.6 210.6h1.9v1.9h-1.9zM151.6 211.6h1.9v1.9h-1.9zM155.6 207.6h1.9v1.9h-1.9zM148.6 209.6h1.9v1.9h-1.9zM150.6 206.6h1.9v1.9h-1.9zM150.6 199.6h1.9v1.9h-1.9zM147.6 217.6h1.9v1.9h-1.9zM140.6 205.6h1.9v1.9h-1.9zM139.6 219.6h1.9v1.9h-1.9zM154.6 200.6h1.9v1.9h-1.9zM153.6 210.6h1.9v1.9h-1.9zM152.6 204.6h1.9v1.9h-1.9zM155.6 194.6h1.9v1.9h-1.9zM150.6 196.6h1.9v1.9h-1.9zM147.6 207.6h1.9v1.9h-1.9zM154.6 202.6h1.9v1.9h-1.9zM142.6 219.6h1.9v1.9h-1.9zM151.6 204.6h1.9v1.9h-1.9zM148.6 205.6h1.9v1.9h-1.9zM140.6 220.6h1.9v1.9h-1.9zM160.6 200.6h1.9v1.9h-1.9zM142.6 211.6h1.9v1.9h-1.9zM153.6 203.6h1.9v1.9h-1.9zM153.6 215.6h1.9v1.9h-1.9zM157.6 202.6h1.9v1.9h-1.9zM155.6 197.6h1.9v1.9h-1.9zM147.6 216.6h1.9v1.9h-1.9zM138.6 218.6h1.9v1.9h-1.9zM149.6 209.6h1.9v1.9h-1.9zM160.6 205.6h1.9v1.9h-1.9zM154.6 216.6h1.9v1.9h-1.9zM140.6 208.6h1.9v1.9h-1.9zM155.6 206.6h1.9v1.9h-1.9zM141.6 234.6h1.9v1.9h-1.9zM144.6 212.6h1.9v1.9h-1.9zM143.6 219.6h1.9v1.9h-1.9zM156.6 209.6h1.9v1.9h-1.9zM144.6 212.6h1.9v1.9h-1.9zM145.6 218.6h1.9v1.9h-1.9zM147.6 211.6h1.9v1.9h-1.9zM135.6 215.6h1.9v1.9h-1.9zM151.6 209.6h1.9v1.9h-1.9zM145.6 213.6h1.9v1.9h-1.9zM151.6 213.6h1.9v1.9h-1.9zM160.6 198.6h1.9v1.9h-1.9zM142.6 205.6h1.9v1.9h-1.9zM157.6 201.6h1.9v1.9h-1.9zM150.6 199.6h1.9v1.9h-1.9zM157.6 186.6h1.9v1.9h-1.9zM136.6 224.6h1.9v1.9h-1.9zM138.6 220.6h1.9v1.9h-1.9zM125.5 227.6h1.9v1.9h-1.9zM161.6 202.6h1.9v1.9h-1.9zM144.6 214.6h1.9v1.9h-1.9zM141.6 212.6h1.9v1.9h-1.9zM149.6 218.6h1.9v1.9h-1.9zM132.6 206.6h1.9v1.9h-1.9zM152.6 215.6h1.9v1.9h-1.9zM142.6 207.6h1.9v1.9h-1.9zM166.6 187.6h1.9v1.9h-1.9zM157.6 204.6h1.9v1.9h-1.9zM150.6 225.6h1.9v1.9h-1.9zM141.6 208.6h1.9v1.9h-1.9zM172.6 200.6h1.9v1.9h-1.9zM160.6 204.6h1.9v1.9h-1.9zM149.6 195.6h1.9v1.9h-1.9zM166.6 205.6h1.9v1.9h-1.9zM168.6 185.6h1.9v1.9h-1.9zM129.6 210.6h1.9v1.9h-1.9zM138.6 209.6h1.9v1.9h-1.9zM126.5 220.6h1.9v1.9h-1.9zM161.6 205.6h1.9v1.9h-1.9zM143.6 206.6h1.9v1.9h-1.9zM151.6 223.6h1.9v1.9h-1.9zM143.6 216.6h1.9v1.9h-1.9zM157.6 195.6h1.9v1.9h-1.9zM146.6 203.6h1.9v1.9h-1.9zM146.6 213.6h1.9v1.9h-1.9zM158.6 181.6h1.9v1.9h-1.9zM128.6 204.6h1.9v1.9h-1.9zM131.6 214.6h1.9v1.9h-1.9zM148.6 211.6h1.9v1.9h-1.9zM145.6 212.6h1.9v1.9h-1.9zM142.6 213.6h1.9v1.9h-1.9zM139.6 195.6h1.9v1.9h-1.9zM160.6 196.6h1.9v1.9h-1.9zM153.6 188.6h1.9v1.9h-1.9zM163.6 206.6h1.9v1.9h-1.9zM148.6 209.6h1.9v1.9h-1.9zM133.6 222.6h1.9v1.9h-1.9zM158.6 206.6h1.9v1.9h-1.9zM173.6 193.6h1.9v1.9h-1.9zM167.6 197.6h1.9v1.9h-1.9zM152.6 210.6h1.9v1.9h-1.9zM159.6 194.6h1.9v1.9h-1.9zM140.6 202.6h1.9v1.9h-1.9zM153.6 209.6h1.9v1.9h-1.9zM144.6 228.6h1.9v1.9h-1.9zM153.6 216.6h1.9v1.9h-1.9zM153.6 204.6h1.9v1.9h-1.9zM153.6 212.6h1.9v1.9h-1.9zM160.6 196.6h1.9v1.9h-1.9zM178.6 189.6h1.9v1.9h-1.9zM166.6 189.6h1.9v1.9h-1.9zM149.6 211.6h1.9v1.9h-1.9zM148.6 218.6h1.9v1.9h-1.9zM147.6 226.6h1.9v1.9h-1.9zM148.6 201.6h1.9v1.9h-1.9zM154.6 198.6h1.9v1.9h-1.9zM154.6 204.6h1.9v1.9h-1.9zM157.6 208.6h1.9v1.9h-1.9zM153.6 204.6h1.9v1.9h-1.9zM155.6 214.6h1.9v1.9h-1.9zM140.6 211.6h1.9v1.9h-1.9zM181.6 197.6h1.9v1.9h-1.9zM170.6 201.6h1.9v1.9h-1.9zM135.6 209.6h1.9v1.9h-1.9zM143.6 220.6h1.9v1.9h-1.9zM143.6 211.6h1.9v1.9h-1.9zM158.6 212.6h1.9v1.9h-1.9zM165.6 190.6h1.9v1.9h-1.9zM166.6 198.6h1.9v1.9h-1.9zM168.6 199.6h1.9v1.9h-1.9zM152.6 178.6h1.9v1.9h-1.9zM156.6 183.6h1.9v1.9h-1.9zM162.6 200.6h1.9v1.9h-1.9zM157.6 201.6h1.9v1.9h-1.9zM156.6 214.6h1.9v1.9h-1.9zM131.6 226.6h1.9v1.9h-1.9zM144.6 200.6h1.9v1.9h-1.9zM177.6 190.6h1.9v1.9h-1.9zM141.6 208.6h1.9v1.9h-1.9zM143.6 212.6h1.9v1.9h-1.9zM162.6 193.6h1.9v1.9h-1.9zM155.6 208.6h1.9v1.9h-1.9zM139.6 203.6h1.9v1.9h-1.9zM166.6 183.6h1.9v1.9h-1.9zM149.6 186.6h1.9v1.9h-1.9zM140.6 206.6h1.9v1.9h-1.9zM154.6 196.6h1.9v1.9h-1.9zM151.6 195.6h1.9v1.9h-1.9zM159.6 194.6h1.9v1.9h-1.9zM164.6 192.6h1.9v1.9h-1.9zM169.6 198.6h1.9v1.9h-1.9zM155.6 206.6h1.9v1.9h-1.9zM162.6 201.6h1.9v1.9h-1.9zM134.6 215.6h1.9v1.9h-1.9zM160.6 199.6h1.9v1.9h-1.9zM167.6 207.6h1.9v1.9h-1.9zM147.6 210.6h1.9v1.9h-1.9zM144.6 217.6h1.9v1.9h-1.9zM141.6 195.6h1.9v1.9h-1.9zM139.6 222.6h1.9v1.9h-1.9zM158.6 205.6h1.9v1.9h-1.9zM162.6 211.6h1.9v1.9h-1.9zM126.5 200.6h1.9v1.9h-1.9zM153.6 206.6h1.9v1.9h-1.9zM165.6 194.6h1.9v1.9h-1.9zM166.6 196.6h1.9v1.9h-1.9zM162.6 192.6h1.9v1.9h-1.9zM151.6 209.6h1.9v1.9h-1.9zM151.6 214.6h1.9v1.9h-1.9zM147.6 211.6h1.9v1.9h-1.9zM158.6 198.6h1.9v1.9h-1.9zM181.6 180.6h1.9v1.9h-1.9zM168.6 189.6h1.9v1.9h-1.9zM172.6 190.6h1.9v1.9h-1.9zM165.6 188.6h1.9v1.9h-1.9zM121.5 211.6h1.9v1.9h-1.9zM156.6 217.6h1.9v1.9h-1.9zM137.6 200.6h1.9v1.9h-1.9zM167.6 192.6h1.9v1.9h-1.9zM167.6 181.6h1.9v1.9h-1.9zM142.6 212.6h1.9v1.9h-1.9zM147.6 200.6h1.9v1.9h-1.9zM159.6 200.6h1.9v1.9h-1.9zM141.6 206.6h1.9v1.9h-1.9zM137.6 205.6h1.9v1.9h-1.9zM145.6 215.6h1.9v1.9h-1.9zM170.6 205.6h1.9v1.9h-1.9zM142.6 218.6h1.9v1.9h-1.9zM167.6 195.6h1.9v1.9h-1.9zM148.6 199.6h1.9v1.9h-1.9zM161.6 198.6h1.9v1.9h-1.9zM174.6 193.6h1.9v1.9h-1.9zM140.6 209.6h1.9v1.9h-1.9zM146.6 220.6h1.9v1.9h-1.9zM157.6 202.6h1.9v1.9h-1.9zM140.6 219.6h1.9v1.9h-1.9zM140.6 211.6h1.9v1.9h-1.9zM148.6 204.6h1.9v1.9h-1.9zM155.6 206.6h1.9v1.9h-1.9zM138.6 222.6h1.9v1.9h-1.9zM149.6 212.6h1.9v1.9h-1.9zM154.6 194.6h1.9v1.9h-1.9zM165.6 188.6h1.9v1.9h-1.9zM127.5 227.6h1.9v1.9h-1.9zM159.6 181.6h1.9v1.9h-1.9zM168.6 203.6h1.9v1.9h-1.9zM140.6 220.6h1.9v1.9h-1.9zM133.6 222.6h1.9v1.9h-1.9zM153.6 197.6h1.9v1.9h-1.9zM151.6 216.6h1.9v1.9h-1.9zM152.6 203.6h1.9v1.9h-1.9zM172.6 209.6h1.9v1.9h-1.9zM149.6 213.6h1.9v1.9h-1.9zM146.6 195.6h1.9v1.9h-1.9zM161.6 206.6h1.9v1.9h-1.9zM160.6 194.6h1.9v1.9h-1.9zM171.6 185.6h1.9v1.9h-1.9zM172.6 187.6h1.9v1.9h-1.9zM154.6 203.6h1.9v1.9h-1.9zM150.6 210.6h1.9v1.9h-1.9zM186.6 186.6h1.9v1.9h-1.9zM162.6 202.6h1.9v1.9h-1.9zM153.6 197.6h1.9v1.9h-1.9zM131.6 209.6h1.9v1.9h-1.9zM157.6 193.6h1.9v1.9h-1.9zM144.6 217.6h1.9v1.9h-1.9zM150.6 216.6h1.9v1.9h-1.9zM144.6 231.6h1.9v1.9h-1.9zM138.6 203.6h1.9v1.9h-1.9zM153.6 206.6h1.9v1.9h-1.9zM132.6 220.6h1.9v1.9h-1.9zM138.6 213.6h1.9v1.9h-1.9zM151.6 208.6h1.9v1.9h-1.9zM134.6 218.6h1.9v1.9h-1.9zM135.6 218.6h1.9v1.9h-1.9zM138.6 211.6h1.9v1.9h-1.9zM136.6 223.6h1.9v1.9h-1.9zM165.6 206.6h1.9v1.9h-1.9zM147.6 227.6h1.9v1.9h-1.9zM159.6 195.6h1.9v1.9h-1.9zM158.6 190.6h1.9v1.9h-1.9zM135.6 217.6h1.9v1.9h-1.9zM148.6 201.6h1.9v1.9h-1.9zM151.6 217.6h1.9v1.9h-1.9zM133.6 213.6h1.9v1.9h-1.9zM148.6 210.6h1.9v1.9h-1.9zM142.6 200.6h1.9v1.9h-1.9zM159.6 197.6h1.9v1.9h-1.9zM166.6 197.6h1.9v1.9h-1.9zM146.6 227.6h1.9v1.9h-1.9zM143.6 206.6h1.9v1.9h-1.9zM160.6 203.6h1.9v1.9h-1.9zM156.6 181.6h1.9v1.9h-1.9zM115.5 224.6h1.9v1.9h-1.9zM164.6 188.6h1.9v1.9h-1.9zM147.6 205.6h1.9v1.9h-1.9zM173.6 193.6h1.9v1.9h-1.9zM150.6 214.6h1.9v1.9h-1.9zM133.6 205.6h1.9v1.9h-1.9zM155.6 209.6h1.9v1.9h-1.9zM161.6 187.6h1.9v1.9h-1.9zM161.6 217.6h1.9v1.9h-1.9zM123.5 233.6h1.9v1.9h-1.9zM161.6 200.6h1.9v1.9h-1.9zM130.6 222.6h1.9v1.9h-1.9zM139.6 216.6h1.9v1.9h-1.9zM137.6 218.6h1.9v1.9h-1.9zM125.5 221.6h1.9v1.9h-1.9zM140.6 224.6h1.9v1.9h-1.9zM141.6 218.6h1.9v1.9h-1.9zM148.6 217.6h1.9v1.9h-1.9zM151.6 206.6h1.9v1.9h-1.9zM151.6 214.6h1.9v1.9h-1.9zM129.6 217.6h1.9v1.9h-1.9zM160.6 191.6h1.9v1.9h-1.9zM161.6 193.6h1.9v1.9h-1.9zM158.6 211.6h1.9v1.9h-1.9zM166.6 207.6h1.9v1.9h-1.9zM159.6 192.6h1.9v1.9h-1.9zM161.6 182.6h1.9v1.9h-1.9zM166.6 180.6h1.9v1.9h-1.9zM143.6 203.6h1.9v1.9h-1.9zM144.6 204.6h1.9v1.9h-1.9zM170.6 190.6h1.9v1.9h-1.9zM177.6 196.6h1.9v1.9h-1.9zM177.6 197.6h1.9v1.9h-1.9zM119.5 227.6h1.9v1.9h-1.9zM152.6 212.6h1.9v1.9h-1.9zM115.5 246.6h1.9v1.9h-1.9zM168.6 207.6h1.9v1.9h-1.9zM152.6 205.6h1.9v1.9h-1.9zM149.6 201.6h1.9v1.9h-1.9zM154.6 212.6h1.9v1.9h-1.9zM176.6 202.6h1.9v1.9h-1.9zM145.6 206.6h1.9v1.9h-1.9zM175.6 207.6h1.9v1.9h-1.9zM167.6 211.6h1.9v1.9h-1.9zM155.6 201.6h1.9v1.9h-1.9zM150.6 192.6h1.9v1.9h-1.9zM150.6 201.6h1.9v1.9h-1.9zM136.6 215.6h1.9v1.9h-1.9zM163.6 202.6h1.9v1.9h-1.9zM152.6 188.6h1.9v1.9h-1.9zM159.6 192.6h1.9v1.9h-1.9zM126.5 208.6h1.9v1.9h-1.9zM149.6 207.6h1.9v1.9h-1.9zM148.6 213.6h1.9v1.9h-1.9zM147.6 224.6h1.9v1.9h-1.9zM159.6 207.6h1.9v1.9h-1.9zM140.6 214.6h1.9v1.9h-1.9zM136.6 199.6h1.9v1.9h-1.9zM157.6 207.6h1.9v1.9h-1.9zM160.6 208.6h1.9v1.9h-1.9zM154.6 201.6h1.9v1.9h-1.9zM181.6 184.6h1.9v1.9h-1.9zM146.6 213.6h1.9v1.9h-1.9zM154.6 202.6h1.9v1.9h-1.9zM130.6 212.6h1.9v1.9h-1.9zM160.6 203.6h1.9v1.9h-1.9zM159.6 185.6h1.9v1.9h-1.9zM174.6 202.6h1.9v1.9h-1.9zM139.6 207.6h1.9v1.9h-1.9zM151.6 212.6h1.9v1.9h-1.9zM164.6 188.6h1.9v1.9h-1.9zM152.6 209.6h1.9v1.9h-1.9zM163.6 195.6h1.9v1.9h-1.9zM142.6 220.6h1.9v1.9h-1.9zM165.6 187.6h1.9v1.9h-1.9zM156.6 185.6h1.9v1.9h-1.9zM156.6 199.6h1.9v1.9h-1.9zM140.6 212.6h1.9v1.9h-1.9zM142.6 198.6h1.9v1.9h-1.9zM150.6 200.6h1.9v1.9h-1.9zM146.6 193.6h1.9v1.9h-1.9zM151.6 208.6h1.9v1.9h-1.9zM147.6 206.6h1.9v1.9h-1.9zM154.6 204.6h1.9v1.9h-1.9zM127.5 228.6h1.9v1.9h-1.9zM136.6 223.6h1.9v1.9h-1.9zM135.6 226.6h1.9v1.9h-1.9zM142.6 212.6h1.9v1.9h-1.9zM126.5 221.6h1.9v1.9h-1.9zM163.6 206.6h1.9v1.9h-1.9zM158.6 211.6h1.9v1.9h-1.9zM134.6 191.6h1.9v1.9h-1.9zM142.6 212.6h1.9v1.9h-1.9zM152.6 202.6h1.9v1.9h-1.9zM151.6 201.6h1.9v1.9h-1.9zM162.6 210.6h1.9v1.9h-1.9zM140.6 210.6h1.9v1.9h-1.9zM164.6 205.6h1.9v1.9h-1.9zM130.6 218.6h1.9v1.9h-1.9zM165.6 190.6h1.9v1.9h-1.9zM116.5 243.6h1.9v1.9h-1.9zM140.6 208.6h1.9v1.9h-1.9zM135.6 218.6h1.9v1.9h-1.9zM156.6 191.6h1.9v1.9h-1.9zM128.6 216.6h1.9v1.9h-1.9zM178.6 191.6h1.9v1.9h-1.9zM135.6 226.6h1.9v1.9h-1.9zM172.6 178.6h1.9v1.9h-1.9zM151.6 194.6h1.9v1.9h-1.9zM154.6 197.6h1.9v1.9h-1.9zM166.6 200.6h1.9v1.9h-1.9zM119.5 225.6h1.9v1.9h-1.9zM165.6 191.6h1.9v1.9h-1.9zM159.6 209.6h1.9v1.9h-1.9zM136.6 229.6h1.9v1.9h-1.9zM160.6 197.6h1.9v1.9h-1.9zM143.6 227.6h1.9v1.9h-1.9zM153.6 203.6h1.9v1.9h-1.9zM153.6 202.6h1.9v1.9h-1.9zM143.6 213.6h1.9v1.9h-1.9zM158.6 197.6h1.9v1.9h-1.9zM141.6 220.6h1.9v1.9h-1.9zM155.6 206.6h1.9v1.9h-1.9zM141.6 207.6h1.9v1.9h-1.9zM150.6 209.6h1.9v1.9h-1.9zM173.6 182.6h1.9v1.9h-1.9zM150.6 201.6h1.9v1.9h-1.9zM137.6 217.6h1.9v1.9h-1.9zM155.6 214.6h1.9v1.9h-1.9zM143.6 216.6h1.9v1.9h-1.9zM158.6 214.6h1.9v1.9h-1.9zM162.6 214.6h1.9v1.9h-1.9zM152.6 205.6h1.9v1.9h-1.9zM150.6 201.6h1.9v1.9h-1.9zM141.6 207.6h1.9v1.9h-1.9zM159.6 203.6h1.9v1.9h-1.9zM169.6 200.6h1.9v1.9h-1.9zM152.6 222.6h1.9v1.9h-1.9zM144.6 199.6h1.9v1.9h-1.9zM157.6 211.6h1.9v1.9h-1.9zM173.6 199.6h1.9v1.9h-1.9zM143.6 215.6h1.9v1.9h-1.9zM152.6 205.6h1.9v1.9h-1.9zM125.5 212.6h1.9v1.9h-1.9zM135.6 211.6h1.9v1.9h-1.9zM146.6 199.6h1.9v1.9h-1.9zM154.6 193.6h1.9v1.9h-1.9zM159.6 190.6h1.9v1.9h-1.9zM140.6 200.6h1.9v1.9h-1.9zM134.6 220.6h1.9v1.9h-1.9zM159.6 204.6h1.9v1.9h-1.9zM153.6 213.6h1.9v1.9h-1.9zM157.6 201.6h1.9v1.9h-1.9zM159.6 211.6h1.9v1.9h-1.9zM166.6 205.6h1.9v1.9h-1.9zM152.6 190.6h1.9v1.9h-1.9zM161.6 196.6h1.9v1.9h-1.9zM139.6 203.6h1.9v1.9h-1.9zM159.6 190.6h1.9v1.9h-1.9zM146.6 213.6h1.9v1.9h-1.9zM152.6 204.6h1.9v1.9h-1.9zM183.6 196.6h1.9v1.9h-1.9zM139.6 221.6h1.9v1.9h-1.9zM170.6 189.6h1.9v1.9h-1.9zM164.6 195.6h1.9v1.9h-1.9zM166.6 194.6h1.9v1.9h-1.9zM157.6 208.6h1.9v1.9h-1.9zM152.6 198.6h1.9v1.9h-1.9zM152.6 212.6h1.9v1.9h-1.9zM142.6 212.6h1.9v1.9h-1.9zM177.6 197.6h1.9v1.9h-1.9zM154.6 218.6h1.9v1.9h-1.9zM154.6 222.6h1.9v1.9h-1.9zM145.6 210.6h1.9v1.9h-1.9zM168.6 178.6h1.9v1.9h-1.9zM154.6 187.6h1.9v1.9h-1.9zM146.6 208.6h1.9v1.9h-1.9zM144.6 198.6h1.9v1.9h-1.9zM150.6 191.6h1.9v1.9h-1.9zM161.6 195.6h1.9v1.9h-1.9zM126.5 217.6h1.9v1.9h-1.9zM167.6 201.6h1.9v1.9h-1.9zM159.6 220.6h1.9v1.9h-1.9zM142.6 212.6h1.9v1.9h-1.9zM148.6 212.6h1.9v1.9h-1.9zM154.6 188.6h1.9v1.9h-1.9zM175.6 189.6h1.9v1.9h-1.9zM150.6 200.6h1.9v1.9h-1.9zM153.6 194.6h1.9v1.9h-1.9zM132.6 203.6h1.9v1.9h-1.9zM166.6 211.6h1.9v1.9h-1.9zM154.6 188.6h1.9v1.9h-1.9zM127.5 214.6h1.9v1.9h-1.9zM145.6 212.6h1.9v1.9h-1.9zM163.6 200.6h1.9v1.9h-1.9zM131.6 227.6h1.9v1.9h-1.9zM148.6 211.6h1.9v1.9h-1.9zM155.6 194.6h1.9v1.9h-1.9zM134.6 229.6h1.9v1.9h-1.9zM148.6 212.6h1.9v1.9h-1.9zM145.6 197.6h1.9v1.9h-1.9zM171.6 207.6h1.9v1.9h-1.9zM134.6 218.6h1.9v1.9h-1.9zM171.6 200.6h1.9v1.9h-1.9zM148.6 194.6h1.9v1.9h-1.9zM161.6 186.6h1.9v1.9h-1.9zM164.6 190.6h1.9v1.9h-1.9zM153.6 198.6h1.9v1.9h-1.9zM163.6 207.6h1.9v1.9h-1.9zM121.5 215.6h1.9v1.9h-1.9zM135.6 221.6h1.9v1.9h-1.9zM134.6 211.6h1.9v1.9h-1.9zM150.6 213.6h1.9v1.9h-1.9zM165.6 198.6h1.9v1.9h-1.9zM126.5 222.6h1.9v1.9h-1.9zM135.6 220.6h1.9v1.9h-1.9zM138.6 229.6h1.9v1.9h-1.9zM164.6 183.6h1.9v1.9h-1.9zM152.6 204.6h1.9v1.9h-1.9zM173.6 190.6h1.9v1.9h-1.9zM168.6 195.6h1.9v1.9h-1.9zM138.6 214.6h1.9v1.9h-1.9zM124.5 221.6h1.9v1.9h-1.9zM162.6 165.6h1.9v1.9h-1.9zM144.6 207.6h1.9v1.9h-1.9zM133.6 213.6h1.9v1.9h-1.9zM159.6 197.6h1.9v1.9h-1.9zM158.6 210.6h1.9v1.9h-1.9zM150.6 213.6h1.9v1.9h-1.9zM159.6 211.6h1.9v1.9h-1.9zM156.6 209.6h1.9v1.9h-1.9zM165.6 203.6h1.9v1.9h-1.9zM150.6 214.6h1.9v1.9h-1.9zM146.6 208.6h1.9v1.9h-1.9zM158.6 198.6h1.9v1.9h-1.9zM158.6 205.6h1.9v1.9h-1.9zM175.6 206.6h1.9v1.9h-1.9zM153.6 214.6h1.9v1.9h-1.9zM159.6 217.6h1.9v1.9h-1.9zM131.6 211.6h1.9v1.9h-1.9zM172.6 192.6h1.9v1.9h-1.9zM136.6 224.6h1.9v1.9h-1.9zM157.6 208.6h1.9v1.9h-1.9zM134.6 207.6h1.9v1.9h-1.9zM147.6 192.6h1.9v1.9h-1.9zM151.6 185.6h1.9v1.9h-1.9zM129.6 221.6h1.9v1.9h-1.9zM131.6 226.6h1.9v1.9h-1.9zM164.6 184.6h1.9v1.9h-1.9zM148.6 213.6h1.9v1.9h-1.9zM130.6 221.6h1.9v1.9h-1.9zM144.6 215.6h1.9v1.9h-1.9zM166.6 190.6h1.9v1.9h-1.9zM164.6 183.6h1.9v1.9h-1.9zM165.6 190.6h1.9v1.9h-1.9zM146.6 219.6h1.9v1.9h-1.9zM152.6 210.6h1.9v1.9h-1.9zM179.6 197.6h1.9v1.9h-1.9zM137.6 208.6h1.9v1.9h-1.9zM153.6 216.6h1.9v1.9h-1.9zM140.6 217.6h1.9v1.9h-1.9zM138.6 220.6h1.9v1.9h-1.9zM174.6 202.6h1.9v1.9h-1.9zM159.6 199.6h1.9v1.9h-1.9zM159.6 203.6h1.9v1.9h-1.9zM163.6 204.6h1.9v1.9h-1.9zM168.6 200.6h1.9v1.9h-1.9zM175.6 196.6h1.9v1.9h-1.9zM159.6 215.6h1.9v1.9h-1.9zM150.6 213.6h1.9v1.9h-1.9zM137.6 215.6h1.9v1.9h-1.9zM145.6 212.6h1.9v1.9h-1.9zM135.6 225.6h1.9v1.9h-1.9zM145.6 205.6h1.9v1.9h-1.9zM141.6 193.6h1.9v1.9h-1.9zM159.6 193.6h1.9v1.9h-1.9zM165.6 197.6h1.9v1.9h-1.9zM146.6 218.6h1.9v1.9h-1.9zM142.6 215.6h1.9v1.9h-1.9zM152.6 215.6h1.9v1.9h-1.9zM142.6 226.6h1.9v1.9h-1.9zM156.6 214.6h1.9v1.9h-1.9zM158.6 202.6h1.9v1.9h-1.9zM153.6 207.6h1.9v1.9h-1.9zM131.6 222.6h1.9v1.9h-1.9zM133.6 214.6h1.9v1.9h-1.9zM176.6 202.6h1.9v1.9h-1.9zM133.6 210.6h1.9v1.9h-1.9zM161.6 199.6h1.9v1.9h-1.9zM161.6 201.6h1.9v1.9h-1.9zM137.6 197.6h1.9v1.9h-1.9zM143.6 222.6h1.9v1.9h-1.9zM153.6 202.6h1.9v1.9h-1.9zM142.6 217.6h1.9v1.9h-1.9zM148.6 207.6h1.9v1.9h-1.9zM146.6 196.6h1.9v1.9h-1.9zM144.6 216.6h1.9v1.9h-1.9zM150.6 210.6h1.9v1.9h-1.9zM153.6 216.6h1.9v1.9h-1.9zM139.6 223.6h1.9v1.9h-1.9zM141.6 198.6h1.9v1.9h-1.9zM150.6 220.6h1.9v1.9h-1.9zM133.6 231.6h1.9v1.9h-1.9zM152.6 215.6h1.9v1.9h-1.9zM151.6 213.6h1.9v1.9h-1.9zM141.6 209.6h1.9v1.9h-1.9zM129.6 232.6h1.9v1.9h-1.9zM160.6 196.6h1.9v1.9h-1.9zM159.6 198.6h1.9v1.9h-1.9zM151.6 197.6h1.9v1.9h-1.9zM135.6 218.6h1.9v1.9h-1.9zM161.6 214.6h1.9v1.9h-1.9zM138.6 213.6h1.9v1.9h-1.9zM153.6 221.6h1.9v1.9h-1.9zM162.6 202.6h1.9v1.9h-1.9zM130.6 220.6h1.9v1.9h-1.9zM141.6 224.6h1.9v1.9h-1.9zM141.6 207.6h1.9v1.9h-1.9zM155.6 192.6h1.9v1.9h-1.9zM164.6 207.6h1.9v1.9h-1.9zM153.6 201.6h1.9v1.9h-1.9zM131.6 230.6h1.9v1.9h-1.9zM167.6 195.6h1.9v1.9h-1.9zM145.6 222.6h1.9v1.9h-1.9zM173.6 190.6h1.9v1.9h-1.9zM166.6 175.6h1.9v1.9h-1.9zM166.6 202.6h1.9v1.9h-1.9zM162.6 193.6h1.9v1.9h-1.9zM141.6 225.6h1.9v1.9h-1.9zM162.6 213.6h1.9v1.9h-1.9zM163.6 194.6h1.9v1.9h-1.9zM131.6 203.6h1.9v1.9h-1.9zM150.6 205.6h1.9v1.9h-1.9zM140.6 222.6h1.9v1.9h-1.9zM147.6 207.6h1.9v1.9h-1.9zM150.6 204.6h1.9v1.9h-1.9zM163.6 213.6h1.9v1.9h-1.9zM169.6 191.6h1.9v1.9h-1.9zM164.6 208.6h1.9v1.9h-1.9zM156.6 205.6h1.9v1.9h-1.9zM145.6 197.6h1.9v1.9h-1.9zM173.6 180.6h1.9v1.9h-1.9zM143.6 211.6h1.9v1.9h-1.9zM169.6 196.6h1.9v1.9h-1.9zM123.5 222.6h1.9v1.9h-1.9zM134.6 207.6h1.9v1.9h-1.9zM152.6 196.6h1.9v1.9h-1.9zM147.6 205.6h1.9v1.9h-1.9zM182.6 176.6h1.9v1.9h-1.9zM140.6 220.6h1.9v1.9h-1.9zM146.6 203.6h1.9v1.9h-1.9zM174.6 188.6h1.9v1.9h-1.9zM175.6 205.6h1.9v1.9h-1.9zM160.6 207.6h1.9v1.9h-1.9zM134.6 221.6h1.9v1.9h-1.9zM135.6 207.6h1.9v1.9h-1.9zM109.5 224.6h1.9v1.9h-1.9zM131.6 221.6h1.9v1.9h-1.9zM157.6 202.6h1.9v1.9h-1.9zM154.6 188.6h1.9v1.9h-1.9zM129.6 212.6h1.9v1.9h-1.9zM153.6 205.6h1.9v1.9h-1.9zM162.6 176.6h1.9v1.9h-1.9zM146.6 194.6h1.9v1.9h-1.9zM148.6 210.6h1.9v1.9h-1.9zM163.6 204.6h1.9v1.9h-1.9zM161.6 203.6h1.9v1.9h-1.9zM158.6 212.6h1.9v1.9h-1.9zM153.6 222.6h1.9v1.9h-1.9zM151.6 217.6h1.9v1.9h-1.9zM152.6 204.6h1.9v1.9h-1.9zM178.6 203.6h1.9v1.9h-1.9zM168.6 203.6h1.9v1.9h-1.9zM162.6 190.6h1.9v1.9h-1.9zM162.6 177.6h1.9v1.9h-1.9zM169.6 190.6h1.9v1.9h-1.9zM144.6 187.6h1.9v1.9h-1.9zM148.6 206.6h1.9v1.9h-1.9zM187.6 189.6h1.9v1.9h-1.9zM144.6 214.6h1.9v1.9h-1.9zM153.6 223.6h1.9v1.9h-1.9zM141.6 216.6h1.9v1.9h-1.9zM156.6 205.6h1.9v1.9h-1.9zM156.6 200.6h1.9v1.9h-1.9zM168.6 199.6h1.9v1.9h-1.9zM149.6 209.6h1.9v1.9h-1.9zM136.6 232.6h1.9v1.9h-1.9zM165.6 213.6h1.9v1.9h-1.9zM167.6 199.6h1.9v1.9h-1.9zM147.6 200.6h1.9v1.9h-1.9zM153.6 212.6h1.9v1.9h-1.9zM166.6 209.6h1.9v1.9h-1.9zM174.6 196.6h1.9v1.9h-1.9zM153.6 209.6h1.9v1.9h-1.9zM139.6 228.6h1.9v1.9h-1.9zM152.6 221.6h1.9v1.9h-1.9zM137.6 192.6h1.9v1.9h-1.9zM137.6 235.6h1.9v1.9h-1.9zM166.6 204.6h1.9v1.9h-1.9zM145.6 218.6h1.9v1.9h-1.9zM156.6 198.6h1.9v1.9h-1.9zM156.6 206.6h1.9v1.9h-1.9zM151.6 214.6h1.9v1.9h-1.9zM165.6 181.6h1.9v1.9h-1.9zM149.6 217.6h1.9v1.9h-1.9zM144.6 214.6h1.9v1.9h-1.9zM164.6 213.6h1.9v1.9h-1.9zM166.6 202.6h1.9v1.9h-1.9zM151.6 206.6h1.9v1.9h-1.9zM140.6 218.6h1.9v1.9h-1.9zM164.6 204.6h1.9v1.9h-1.9zM161.6 201.6h1.9v1.9h-1.9zM146.6 205.6h1.9v1.9h-1.9zM149.6 197.6h1.9v1.9h-1.9zM142.6 209.6h1.9v1.9h-1.9zM126.5 214.6h1.9v1.9h-1.9zM149.6 201.6h1.9v1.9h-1.9zM165.6 200.6h1.9v1.9h-1.9zM131.6 207.6h1.9v1.9h-1.9zM137.6 206.6h1.9v1.9h-1.9zM141.6 224.6h1.9v1.9h-1.9zM167.6 189.6h1.9v1.9h-1.9zM144.6 213.6h1.9v1.9h-1.9zM153.6 193.6h1.9v1.9h-1.9zM136.6 210.6h1.9v1.9h-1.9zM152.6 204.6h1.9v1.9h-1.9zM153.6 224.6h1.9v1.9h-1.9zM125.5 234.6h1.9v1.9h-1.9zM145.6 196.6h1.9v1.9h-1.9zM161.6 204.6h1.9v1.9h-1.9zM131.6 234.6h1.9v1.9h-1.9zM154.6 213.6h1.9v1.9h-1.9zM141.6 204.6h1.9v1.9h-1.9zM138.6 218.6h1.9v1.9h-1.9zM123.5 222.6h1.9v1.9h-1.9zM157.6 206.6h1.9v1.9h-1.9zM164.6 190.6h1.9v1.9h-1.9zM130.6 212.6h1.9v1.9h-1.9zM149.6 205.6h1.9v1.9h-1.9zM176.6 198.6h1.9v1.9h-1.9zM160.6 213.6h1.9v1.9h-1.9zM141.6 207.6h1.9v1.9h-1.9zM138.6 214.6h1.9v1.9h-1.9zM150.6 200.6h1.9v1.9h-1.9zM140.6 195.6h1.9v1.9h-1.9zM163.6 204.6h1.9v1.9h-1.9zM141.6 232.6h1.9v1.9h-1.9zM174.6 205.6h1.9v1.9h-1.9zM145.6 208.6h1.9v1.9h-1.9zM167.6 208.6h1.9v1.9h-1.9zM149.6 221.6h1.9v1.9h-1.9zM134.6 218.6h1.9v1.9h-1.9zM145.6 213.6h1.9v1.9h-1.9zM138.6 215.6h1.9v1.9h-1.9zM149.6 212.6h1.9v1.9h-1.9zM170.6 211.6h1.9v1.9h-1.9zM161.6 190.6h1.9v1.9h-1.9zM149.6 197.6h1.9v1.9h-1.9zM150.6 218.6h1.9v1.9h-1.9zM147.6 212.6h1.9v1.9h-1.9zM150.6 189.6h1.9v1.9h-1.9zM162.6 189.6h1.9v1.9h-1.9zM144.6 205.6h1.9v1.9h-1.9zM148.6 205.6h1.9v1.9h-1.9zM144.6 217.6h1.9v1.9h-1.9zM160.6 211.6h1.9v1.9h-1.9zM164.6 196.6h1.9v1.9h-1.9zM116.5 238.6h1.9v1.9h-1.9zM152.6 200.6h1.9v1.9h-1.9zM151.6 219.6h1.9v1.9h-1.9zM130.6 240.6h1.9v1.9h-1.9zM155.6 202.6h1.9v1.9h-1.9zM147.6 203.6h1.9v1.9h-1.9zM140.6 227.6h1.9v1.9h-1.9zM175.6 179.6h1.9v1.9h-1.9zM145.6 195.6h1.9v1.9h-1.9zM147.6 209.6h1.9v1.9h-1.9zM178.6 198.6h1.9v1.9h-1.9zM158.6 197.6h1.9v1.9h-1.9zM162.6 197.6h1.9v1.9h-1.9zM165.6 192.6h1.9v1.9h-1.9zM129.6 233.6h1.9v1.9h-1.9zM181.6 198.6h1.9v1.9h-1.9zM142.6 203.6h1.9v1.9h-1.9zM155.6 202.6h1.9v1.9h-1.9zM163.6 196.6h1.9v1.9h-1.9zM140.6 211.6h1.9v1.9h-1.9zM150.6 196.6h1.9v1.9h-1.9zM166.6 204.6h1.9v1.9h-1.9zM153.6 208.6h1.9v1.9h-1.9zM162.6 206.6h1.9v1.9h-1.9zM140.6 233.6h1.9v1.9h-1.9zM135.6 217.6h1.9v1.9h-1.9zM141.6 222.6h1.9v1.9h-1.9zM155.6 201.6h1.9v1.9h-1.9zM157.6 206.6h1.9v1.9h-1.9zM150.6 208.6h1.9v1.9h-1.9zM144.6 198.6h1.9v1.9h-1.9zM173.6 206.6h1.9v1.9h-1.9zM162.6 200.6h1.9v1.9h-1.9zM132.6 212.6h1.9v1.9h-1.9zM154.6 183.6h1.9v1.9h-1.9zM152.6 207.6h1.9v1.9h-1.9zM166.6 202.6h1.9v1.9h-1.9zM132.6 234.6h1.9v1.9h-1.9zM138.6 230.6h1.9v1.9h-1.9zM158.6 198.6h1.9v1.9h-1.9zM133.6 230.6h1.9v1.9h-1.9zM150.6 193.6h1.9v1.9h-1.9zM158.6 204.6h1.9v1.9h-1.9zM159.6 211.6h1.9v1.9h-1.9zM154.6 200.6h1.9v1.9h-1.9zM155.6 203.6h1.9v1.9h-1.9zM159.6 203.6h1.9v1.9h-1.9zM148.6 212.6h1.9v1.9h-1.9zM160.6 216.6h1.9v1.9h-1.9zM174.6 203.6h1.9v1.9h-1.9zM154.6 193.6h1.9v1.9h-1.9zM154.6 199.6h1.9v1.9h-1.9zM139.6 210.6h1.9v1.9h-1.9zM155.6 204.6h1.9v1.9h-1.9zM147.6 207.6h1.9v1.9h-1.9zM167.6 200.6h1.9v1.9h-1.9zM141.6 217.6h1.9v1.9h-1.9zM147.6 215.6h1.9v1.9h-1.9zM160.6 198.6h1.9v1.9h-1.9zM169.6 200.6h1.9v1.9h-1.9zM116.6 237.6h1.8v1.8h-1.8zM107.6 237.6h1.8v1.8h-1.8zM107.6 211.6h1.8v1.8h-1.8zM116.6 242.6h1.8v1.8h-1.8zM130.6 197.6h1.8v1.8h-1.8zM110.6 217.6h1.8v1.8h-1.8zM112.6 243.6h1.8v1.8h-1.8zM121.6 211.6h1.8v1.8h-1.8zM121.6 229.6h1.8v1.8h-1.8zM127.6 239.6h1.8v1.8h-1.8zM116.6 233.6h1.8v1.8h-1.8zM130.6 222.6h1.8v1.8h-1.8zM124.6 219.6h1.8v1.8h-1.8zM115.6 205.6h1.8v1.8h-1.8zM107.6 211.6h1.8v1.8h-1.8zM114.6 223.6h1.8v1.8h-1.8zM122.6 231.6h1.8v1.8h-1.8zM125.6 224.6h1.8v1.8h-1.8zM118.6 226.6h1.8v1.8h-1.8zM123.6 237.6h1.8v1.8h-1.8zM112.6 238.6h1.8v1.8h-1.8zM110.6 196.6h1.8v1.8h-1.8zM126.6 207.6h1.8v1.8h-1.8zM127.6 213.6h1.8v1.8h-1.8zM114.6 238.6h1.8v1.8h-1.8zM125.6 198.6h1.8v1.8h-1.8zM130.6 205.6h1.8v1.8h-1.8zM122.6 242.6h1.8v1.8h-1.8zM127.6 219.6h1.8v1.8h-1.8zM130.6 229.6h1.8v1.8h-1.8zM111.6 243.6h1.8v1.8h-1.8zM120.6 211.6h1.8v1.8h-1.8zM116.6 205.6h1.8v1.8h-1.8zM120.6 223.6h1.8v1.8h-1.8zM109.6 216.6h1.8v1.8h-1.8zM112.6 240.6h1.8v1.8h-1.8zM110.6 225.6h1.8v1.8h-1.8zM122.6 225.6h1.8v1.8h-1.8zM115.6 207.6h1.8v1.8h-1.8zM105.6 205.6h1.8v1.8h-1.8zM126.6 209.6h1.8v1.8h-1.8zM119.6 210.6h1.8v1.8h-1.8zM107.6 216.6h1.8v1.8h-1.8zM131.6 215.6h1.8v1.8h-1.8zM114.6 224.6h1.8v1.8h-1.8zM241.5 101.5h2v2h-2zM244.5 101.5h2v2h-2zM250.5 101.5h2v2h-2zM225.5 104.5h2v2h-2zM225.5 105.5h2v2h-2zM220.5 111.5h2v2h-2zM236.5 111.5h2v2h-2zM245.5 111.5h2v2h-2zM209.5 115.5h2v2h-2zM211.5 123.5h2v2h-2zM212.5 129.5h2v2h-2zM214.5 131.5h2v2h-2zM221.5 129.5h2v2h-2zM190.5 131.5h2v2h-2zM198.5 132.5h2v2h-2zM198.5 138.5h2v2h-2zM218.5 138.5h2v2h-2zM223.5 136.5h2v2h-2zM226.5 140.5h2v2h-2zM211.5 140.5h2v2h-2zM212.5 143.5h2v2h-2zM214.5 145.5h2v2h-2zM219.5 141.5h2v2h-2zM208.5 145.5h2v2h-2zM233.5 145.5h2v2h-2zM204.5 149.5h2v2h-2zM207.5 151.5h2v2h-2zM201.5 151.5h2v2h-2zM218.5 151.5h2v2h-2zM215.5 153.5h2v2h-2zM196.5 155.5h2v2h-2zM190.5 159.5h2v2h-2zM219.5 159.5h2v2h-2zM211.5 161.5h2v2h-2zM212.5 162.5h2v2h-2zM204.5 162.5h2v2h-2zM215.5 165.5h2v2h-2zM192.5 165.5h2v2h-2zM202.5 166.5h2v2h-2zM101.5 106.5h2v2h-2zM110.5 108.5h2v2h-2zM117.5 108.5h2v2h-2zM183.5 106.5h2v2h-2zM190.5 130.5h2v2h-2zM109.5 141.5h2v2h-2zM117.5 144.5h2v2h-2zM114.5 146.5h2v2h-2zM179.5 141.5h2v2h-2zM124.5 151.5h2v2h-2zM125.5 151.5h2v2h-2zM129.5 151.5h2v2h-2zM164.5 151.5h2v2h-2zM98.5 155.5h2v2h-2zM114.5 155.5h2v2h-2zM116.5 159.5h2v2h-2zM117.5 159.5h2v2h-2zM180.5 157.5h2v2h-2zM188.5 158.5h2v2h-2zM187.5 159.5h2v2h-2zM189.5 159.5h2v2h-2zM99.5 163.5h2v2h-2zM103.5 163.5h2v2h-2zM128.5 164.5h2v2h-2zM170.5 164.5h2v2h-2zM180.5 165.5h2v2h-2zM185.5 165.5h2v2h-2zM191.5 164.5h2v2h-2zM96.5 168.5h2v2h-2zM122.5 170.5h2v2h-2zM147.5 168.5h2v2h-2zM153.5 168.5h2v2h-2zM158.5 171.5h2v2h-2zM163.5 170.5h2v2h-2zM168.5 170.5h2v2h-2zM187.5 171.5h2v2h-2zM96.5 169.5h2v2h-2zM122.5 170.5h2v2h-2zM101.5 178.5h2v2h-2zM105.5 178.5h2v2h-2zM120.5 178.5h2v2h-2zM119.5 182.5h2v2h-2zM121.5 183.5h2v2h-2zM103.5 185.5h2v2h-2zM121.5 189.5h2v2h-2zM117.5 191.5h2v2h-2zM101.5 193.5h2v2h-2zM128.5 193.5h2v2h-2zM122.5 195.5h2v2h-2zM117.5 197.5h2v2h-2zM120.5 199.5h2v2h-2zM123.5 197.5h2v2h-2zM114.5 199.5h2v2h-2zM115.5 201.5h2v2h-2zM112.5 204.5h2v2h-2zM120.5 205.5h2v2h-2zM100.5 208.5h2v2h-2zM107.5 208.5h2v2h-2zM111.5 208.5h2v2h-2zM112.5 214.5h2v2h-2zM115.5 211.5h2v2h-2zM119.5 210.5h2v2h-2zM122.5 211.5h2v2h-2zM100.5 216.5h2v2h-2zM102.5 216.5h2v2h-2zM100.5 221.5h2v2h-2zM103.5 221.5h2v2h-2zM105.5 221.5h2v2h-2zM111.5 221.5h2v2h-2zM117.5 221.5h2v2h-2zM115.5 223.5h2v2h-2zM109.5 225.5h2v2h-2zM101.5 227.5h2v2h-2zM100.5 230.5h2v2h-2zM97.5 233.5h2v2h-2zM103.5 234.5h2v2h-2zM111.5 233.5h2v2h-2zM115.5 232.5h2v2h-2zM96.5 241.5h2v2h-2zM100.5 244.5h2v2h-2zM107.5 243.5h2v2h-2zM108.5 243.5h2v2h-2zM107.5 244.5h2v2h-2zM114.5 244.5h2v2h-2zM120.5 244.5h2v2h-2zM97.5 247.5h2v2h-2zM100.5 249.5h2v2h-2zM97.5 252.5h2v2h-2zM101.5 252.5h2v2h-2zM119.5 237.5h2v2h-2zM125.5 238.5h2v2h-2zM99.5 237.5h2v2h-2zM98.5 248.5h2v2h-2zM185.5 169.5h2v2h-2zM171.5 168.5h2v2h-2zM179.5 174.5h2v2h-2zM185.5 176.5h2v2h-2zM190.5 178.5h2v2h-2zM182.5 184.5h2v2h-2zM188.5 157.5h2v2h-2zM187.5 159.5h2v2h-2zM96 84.5h2v2.3h-2zM97.6 84.5h2v2.3h-2zM99.2 84.5h2v2.3h-2zM100.8 84.5h2v2.3h-2zM102.4 84.5h2v2.3h-2zM104 84.5h2v2.3h-2zM105.6 84.5h2v2.3h-2zM107.2 84.5h2v2.3h-2zM108.8 84.5h2v2.3h-2zM110.4 84.5h2v2.3h-2zM112 84.5h2v2.3h-2zM113.6 84.5h2v2.3h-2zM115.2 84.5h2v2.3h-2zM116.8 84.5h2v2.3h-2zM118.4 84.5h2v2.3h-2zM120 84.5h2v2.3h-2zM136.9 84.5h2v2.3h-2zM150 84.5h2v2.3h-2zM152 84.5h2v2.3h-2zM154 84.5h2v2.3h-2zM164.4 84.5h2v2.3h-2zM166.5 84.5h2v2.3h-2zM168.6 84.5h2v2.3h-2zM170.7 84.5h2v2.3h-2zM172.8 84.5h2v2.3h-2zM174.9 84.5h2v2.3h-2zM177 84.5h2v2.3h-2zM221.2 84.5h2v2.3h-2zM213.6 84.5h2v2.3h-2zM222.7 84.5h2v2.3h-2zM254.8 84.5h2v2.3h-2zM207.8 84.5h2v2.3h-2zM207.1 84.5h2v2.3h-2zM245.8 84.5h2v2.3h-2zM210.6 84.5h2v2.3h-2zM207.1 84.5h2v2.3h-2zM214.1 84.5h2v2.3h-2zM253.7 84.5h2v2.3h-2zM257.3 84.5h2v2.3h-2zM256.8 84.5h2v2.3h-2zM218.5 84.5h2v2.3h-2zM255.2 84.5h2v2.3h-2zM202.9 84.5h2v2.3h-2zM228.9 84.5h2v2.3h-2zM233.2 84.5h2v2.3h-2zM226.9 84.5h2v2.3h-2zM259.7 84.5h2v2.3h-2zM245.8 84.5h2v2.3h-2zM228.6 84.5h2v2.3h-2z" fill="#000"/>
<polygon points="122.1,213.5 143,185.5 167.5,169.5 185.6,201 130.8,244" fill="none" stroke="#000" stroke-width="1.2"/>
<rect x="330.8" y="83.4" width="176.7" height="178.6" fill="none" stroke="#000" stroke-width="1.7"/>
<path d="M330.8 260.9h-7.8M332.1 262v9.2M338.4 262v5.2M344.6 262v5.2M350.9 262v5.2M357.1 262v5.2M330.8 226.6h-7.8M366.4 262v9.2M330.8 230.1h-4.6M372.6 262v5.2M330.8 237.8h-4.6M378.9 262v5.2M330.8 245.5h-4.6M385.1 262v5.2M330.8 253.2h-4.6M391.4 262v5.2M330.8 192.4h-7.8M400.6 262v9.2M330.8 195.9h-4.6M406.9 262v5.2M330.8 203.6h-4.6M413.1 262v5.2M330.8 211.3h-4.6M419.4 262v5.2M330.8 219h-4.6M425.6 262v5.2M330.8 158.1h-7.8M434.9 262v9.2M330.8 161.6h-4.6M441.1 262v5.2M330.8 169.3h-4.6M447.4 262v5.2M330.8 177h-4.6M453.6 262v5.2M330.8 184.7h-4.6M459.9 262v5.2M330.8 123.9h-7.8M469.1 262v9.2M330.8 127.4h-4.6M475.4 262v5.2M330.8 135.1h-4.6M481.6 262v5.2M330.8 142.8h-4.6M487.9 262v5.2M330.8 150.5h-4.6M494.1 262v5.2M330.8 89.6h-7.8M503.4 262v9.2M330.8 93.1h-4.6M330.8 100.8h-4.6M330.8 108.5h-4.6M330.8 116.2h-4.6" stroke="#000" stroke-width="1.5" fill="none"/>
<text transform="translate(332.6 285.6) scale(0.85 1)" font-size="15.8" text-anchor="middle">0</text>
<text transform="translate(366.9 285.6) scale(0.85 1)" font-size="15.8" text-anchor="middle">200</text>
<text transform="translate(401.1 285.6) scale(0.85 1)" font-size="15.8" text-anchor="middle">400</text>
<text transform="translate(435.4 285.6) scale(0.85 1)" font-size="15.8" text-anchor="middle">600</text>
<text transform="translate(469.6 285.6) scale(0.85 1)" font-size="15.8" text-anchor="middle">800</text>
<text transform="translate(503.9 285.6) scale(0.85 1)" font-size="15.8" text-anchor="middle">1000</text>
<text transform="translate(417.8 306.2) scale(0.83 1)" font-size="16.6" text-anchor="middle">FSC-H</text>
<text transform="translate(317.8 89) rotate(-90) scale(1.17 1)" font-size="14" text-anchor="middle">1000</text>
<text transform="translate(317.8 259.4) rotate(-90) scale(1.12 1)" font-size="14" text-anchor="middle">0</text>
<text transform="translate(302.3 177.3) rotate(-90) scale(1.09 1)" font-size="15" text-anchor="middle">SSC-H</text>
<path d="M383.5 215.5h2v2h-2zM383.5 216.5h2v2h-2zM379.5 223.5h2v2h-2zM377.5 226.5h2v2h-2zM374.5 217.5h2v2h-2zM381.5 222.5h2v2h-2zM380.5 224.5h2v2h-2zM377.5 215.5h2v2h-2zM377.5 228.5h2v2h-2zM377.5 225.5h2v2h-2zM378.5 214.5h2v2h-2zM384.5 221.5h2v2h-2zM378.5 215.5h2v2h-2zM385.5 227.5h2v2h-2zM379.5 215.5h2v2h-2zM376.5 224.5h2v2h-2zM381.5 211.5h2v2h-2zM387.5 216.5h2v2h-2zM379.5 217.5h2v2h-2zM382.5 210.5h2v2h-2zM372.5 216.5h2v2h-2zM380.5 224.5h2v2h-2zM376.5 209.5h2v2h-2zM379.5 217.5h2v2h-2zM384.5 212.5h2v2h-2zM378.5 219.5h2v2h-2zM382.5 212.5h2v2h-2zM377.5 226.5h2v2h-2zM376.5 228.5h2v2h-2zM378.5 229.5h2v2h-2zM383.5 215.5h2v2h-2zM377.5 233.5h2v2h-2zM376.5 232.5h2v2h-2zM374.5 229.5h2v2h-2zM374.5 217.5h2v2h-2zM379.5 217.5h2v2h-2zM377.5 225.5h2v2h-2zM380.5 215.5h2v2h-2zM382.5 218.5h2v2h-2zM382.5 212.5h2v2h-2zM377.5 213.5h2v2h-2zM379.5 225.5h2v2h-2zM380.5 219.5h2v2h-2zM378.5 221.5h2v2h-2zM372.5 215.5h2v2h-2zM376.5 218.5h2v2h-2zM378.5 220.5h2v2h-2zM382.5 215.5h2v2h-2zM378.5 219.5h2v2h-2zM375.5 214.5h2v2h-2zM383.5 220.5h2v2h-2zM378.5 221.5h2v2h-2zM378.5 213.5h2v2h-2zM381.5 214.5h2v2h-2zM382.5 212.5h2v2h-2zM379.5 215.5h2v2h-2zM377.5 221.5h2v2h-2zM377.5 218.5h2v2h-2zM381.5 219.5h2v2h-2zM376.5 231.5h2v2h-2zM379.5 227.5h2v2h-2zM374.5 208.5h2v2h-2zM377.5 220.5h2v2h-2zM374.5 239.5h2v2h-2zM377.5 220.5h2v2h-2zM373.5 218.5h2v2h-2zM376.5 228.5h2v2h-2zM386.5 205.5h2v2h-2zM381.5 212.5h2v2h-2zM378.5 214.5h2v2h-2zM376.5 221.5h2v2h-2zM375.5 216.5h2v2h-2zM380.5 214.5h2v2h-2zM377.5 216.5h2v2h-2zM377.5 224.5h2v2h-2zM381.5 219.5h2v2h-2zM382.5 219.5h2v2h-2zM381.5 218.5h2v2h-2zM372.5 226.5h2v2h-2zM377.5 218.5h2v2h-2zM382.5 220.5h2v2h-2zM375.5 218.5h2v2h-2zM383.5 219.5h2v2h-2zM377.5 229.5h2v2h-2zM382.5 215.5h2v2h-2zM378.5 215.5h2v2h-2zM373.5 228.5h2v2h-2zM375.5 220.5h2v2h-2zM382.5 226.5h2v2h-2zM377.5 223.5h2v2h-2zM376.5 212.5h2v2h-2zM382.5 217.5h2v2h-2zM376.5 206.5h2v2h-2zM378.5 219.5h2v2h-2zM378.5 228.5h2v2h-2zM379.5 219.5h2v2h-2zM377.5 236.5h2v2h-2zM380.5 208.5h2v2h-2zM371.5 217.5h2v2h-2zM380.5 217.5h2v2h-2zM378.5 219.5h2v2h-2zM377.5 226.5h2v2h-2zM380.5 221.5h2v2h-2zM380.5 226.5h2v2h-2zM378.5 224.5h2v2h-2zM383.5 219.5h2v2h-2zM384.5 229.5h2v2h-2zM381.5 209.5h2v2h-2zM376.5 227.5h2v2h-2zM375.5 214.5h2v2h-2zM379.5 225.5h2v2h-2zM371.5 228.5h2v2h-2zM384.5 219.5h2v2h-2zM382.5 220.5h2v2h-2zM376.5 222.5h2v2h-2zM380.5 221.5h2v2h-2zM375.5 224.5h2v2h-2zM375.5 217.5h2v2h-2zM380.5 224.5h2v2h-2zM375.5 220.5h2v2h-2zM380.5 213.5h2v2h-2zM376.5 229.5h2v2h-2zM382.5 225.5h2v2h-2zM378.5 225.5h2v2h-2zM382.5 227.5h2v2h-2zM379.5 230.5h2v2h-2zM376.5 222.5h2v2h-2zM375.5 219.5h2v2h-2zM372.5 220.5h2v2h-2zM377.5 231.5h2v2h-2zM371.5 215.5h2v2h-2zM377.5 216.5h2v2h-2zM371.5 219.5h2v2h-2zM375.5 227.5h2v2h-2zM379.5 227.5h2v2h-2zM378.5 207.5h2v2h-2zM379.5 209.5h2v2h-2zM377.5 217.5h2v2h-2zM378.5 227.5h2v2h-2zM375.5 212.5h2v2h-2zM379.5 220.5h2v2h-2zM380.5 210.5h2v2h-2zM374.5 224.5h2v2h-2zM376.5 217.5h2v2h-2zM382.5 223.5h2v2h-2zM381.5 216.5h2v2h-2zM379.5 225.5h2v2h-2zM377.5 214.5h2v2h-2zM377.5 223.5h2v2h-2zM373.5 226.5h2v2h-2zM373.5 216.5h2v2h-2zM377.5 219.5h2v2h-2zM374.5 234.5h2v2h-2zM374.5 220.5h2v2h-2zM375.5 219.5h2v2h-2zM380.5 220.5h2v2h-2zM379.5 207.5h2v2h-2zM373.5 224.5h2v2h-2zM384.5 222.5h2v2h-2zM371.5 231.5h2v2h-2zM377.5 231.5h2v2h-2zM374.5 224.5h2v2h-2zM380.5 222.5h2v2h-2zM378.5 222.5h2v2h-2zM382.5 217.5h2v2h-2zM379.5 216.5h2v2h-2zM377.5 214.5h2v2h-2zM382.5 223.5h2v2h-2zM379.5 217.5h2v2h-2zM377.5 225.5h2v2h-2zM378.5 218.5h2v2h-2zM377.5 217.5h2v2h-2zM379.5 224.5h2v2h-2zM382.5 226.5h2v2h-2zM382.5 204.5h2v2h-2zM380.5 222.5h2v2h-2zM380.5 225.5h2v2h-2zM376.5 220.5h2v2h-2zM384.5 214.5h2v2h-2zM379.5 219.5h2v2h-2zM372.5 221.5h2v2h-2zM379.5 230.5h2v2h-2zM375.5 222.5h2v2h-2zM378.5 229.5h2v2h-2zM381.5 219.5h2v2h-2zM379.5 211.5h2v2h-2zM380.5 214.5h2v2h-2zM382.5 225.5h2v2h-2zM373.5 227.5h2v2h-2zM371.5 229.5h2v2h-2zM378.5 218.5h2v2h-2zM378.5 217.5h2v2h-2zM385.5 217.5h2v2h-2zM382.5 219.5h2v2h-2zM378.5 229.5h2v2h-2zM376.5 234.5h2v2h-2zM374.5 212.5h2v2h-2zM373.5 226.5h2v2h-2zM379.5 208.5h2v2h-2zM376.5 235.5h2v2h-2zM376.5 228.5h2v2h-2zM377.5 227.5h2v2h-2zM381.5 219.5h2v2h-2zM377.5 216.5h2v2h-2zM376.5 224.5h2v2h-2zM376.5 216.5h2v2h-2zM380.5 230.5h2v2h-2zM371.5 223.5h2v2h-2zM379.5 229.5h2v2h-2zM380.5 225.5h2v2h-2zM371.5 224.5h2v2h-2zM377.5 219.5h2v2h-2zM385.5 198.5h2v2h-2zM374.5 230.5h2v2h-2zM376.5 222.5h2v2h-2zM379.5 216.5h2v2h-2zM382.5 221.5h2v2h-2zM382.5 212.5h2v2h-2zM375.5 227.5h2v2h-2zM375.5 215.5h2v2h-2zM373.5 225.5h2v2h-2zM380.5 216.5h2v2h-2zM372.5 219.5h2v2h-2zM377.5 219.5h2v2h-2zM379.5 225.5h2v2h-2zM372.5 233.5h2v2h-2zM376.5 228.5h2v2h-2zM379.5 216.5h2v2h-2zM380.5 223.5h2v2h-2zM375.5 215.5h2v2h-2zM377.5 230.5h2v2h-2zM379.5 217.5h2v2h-2zM380.5 214.5h2v2h-2zM371.5 235.5h2v2h-2zM380.5 219.5h2v2h-2zM378.5 207.5h2v2h-2zM377.5 226.5h2v2h-2zM377.5 214.5h2v2h-2zM384.5 222.5h2v2h-2zM379.5 215.5h2v2h-2zM384.5 225.5h2v2h-2zM375.5 226.5h2v2h-2zM377.5 224.5h2v2h-2zM382.5 224.5h2v2h-2zM376.5 225.5h2v2h-2zM378.5 227.5h2v2h-2zM383.5 214.5h2v2h-2zM376.5 225.5h2v2h-2zM375.5 229.5h2v2h-2zM376.5 227.5h2v2h-2zM382.5 218.5h2v2h-2zM377.5 236.5h2v2h-2zM383.5 218.5h2v2h-2zM378.5 216.5h2v2h-2zM378.5 212.5h2v2h-2zM374.5 223.5h2v2h-2zM376.5 226.5h2v2h-2zM376.5 219.5h2v2h-2zM378.5 220.5h2v2h-2zM377.5 212.5h2v2h-2zM376.5 220.5h2v2h-2zM377.5 223.5h2v2h-2zM379.5 230.5h2v2h-2zM377.5 222.5h2v2h-2zM376.5 220.5h2v2h-2zM383.5 213.5h2v2h-2zM382.5 221.5h2v2h-2zM379.5 212.5h2v2h-2zM379.5 212.5h2v2h-2zM372.5 225.5h2v2h-2zM372.5 228.5h2v2h-2zM377.5 225.5h2v2h-2zM382.5 223.5h2v2h-2zM383.5 227.5h2v2h-2zM381.5 217.5h2v2h-2zM377.5 216.5h2v2h-2zM381.5 213.5h2v2h-2zM374.5 218.5h2v2h-2zM377.5 224.5h2v2h-2zM375.5 217.5h2v2h-2zM377.5 227.5h2v2h-2zM383.5 221.5h2v2h-2zM384.5 227.5h2v2h-2zM380.5 213.5h2v2h-2zM376.5 239.5h2v2h-2zM374.5 214.5h2v2h-2zM377.5 214.5h2v2h-2zM383.5 222.5h2v2h-2zM382.5 219.5h2v2h-2zM381.5 220.5h2v2h-2zM381.5 212.5h2v2h-2zM385.5 211.5h2v2h-2zM377.5 221.5h2v2h-2zM379.5 210.5h2v2h-2zM386.5 227.5h2v2h-2zM376.5 218.5h2v2h-2zM380.5 218.5h2v2h-2zM375.5 229.5h2v2h-2zM383.5 219.5h2v2h-2zM377.5 225.5h2v2h-2zM378.5 215.5h2v2h-2zM376.5 227.5h2v2h-2zM378.5 233.5h2v2h-2zM374.5 229.5h2v2h-2zM374.5 220.5h2v2h-2zM378.5 219.5h2v2h-2zM377.5 218.5h2v2h-2zM379.5 226.5h2v2h-2zM378.5 215.5h2v2h-2zM376.5 224.5h2v2h-2zM379.5 222.5h2v2h-2zM381.5 214.5h2v2h-2zM381.5 222.5h2v2h-2zM376.5 233.5h2v2h-2zM373.5 215.5h2v2h-2zM378.5 221.5h2v2h-2zM378.5 223.5h2v2h-2zM379.5 212.5h2v2h-2zM379.5 225.5h2v2h-2zM378.5 216.5h2v2h-2zM382.5 220.5h2v2h-2zM380.5 203.5h2v2h-2zM380.5 234.5h2v2h-2zM375.5 219.5h2v2h-2zM371.5 217.5h2v2h-2zM376.5 213.5h2v2h-2zM386.5 225.5h2v2h-2zM377.5 225.5h2v2h-2zM379.5 211.5h2v2h-2zM378.5 224.5h2v2h-2zM377.5 219.5h2v2h-2zM379.5 221.5h2v2h-2zM379.5 218.5h2v2h-2zM383.5 231.5h2v2h-2zM381.5 225.5h2v2h-2zM379.5 221.5h2v2h-2zM380.5 220.5h2v2h-2zM381.5 214.5h2v2h-2zM375.5 217.5h2v2h-2zM382.5 218.5h2v2h-2zM376.5 221.5h2v2h-2zM382.5 213.5h2v2h-2zM378.5 225.5h2v2h-2zM381.5 222.5h2v2h-2zM381.5 232.5h2v2h-2zM379.5 228.5h2v2h-2zM378.5 215.5h2v2h-2zM377.5 221.5h2v2h-2zM378.5 234.5h2v2h-2zM377.5 221.5h2v2h-2zM377.5 222.5h2v2h-2zM376.5 228.5h2v2h-2zM377.5 218.5h2v2h-2zM379.5 223.5h2v2h-2zM377.5 221.5h2v2h-2zM380.5 215.5h2v2h-2zM375.5 225.5h2v2h-2zM374.5 213.5h2v2h-2zM380.5 223.5h2v2h-2zM381.5 223.5h2v2h-2zM378.5 212.5h2v2h-2zM381.5 219.5h2v2h-2zM379.5 224.5h2v2h-2zM375.5 221.5h2v2h-2zM382.5 220.5h2v2h-2zM370.5 229.5h2v2h-2zM379.5 216.5h2v2h-2zM380.5 221.5h2v2h-2zM373.5 229.5h2v2h-2zM382.5 228.5h2v2h-2zM377.5 215.5h2v2h-2zM381.5 230.5h2v2h-2zM380.5 206.5h2v2h-2zM379.5 228.5h2v2h-2zM378.5 219.5h2v2h-2zM379.5 222.5h2v2h-2zM381.5 225.5h2v2h-2zM381.5 218.5h2v2h-2zM379.5 220.5h2v2h-2zM377.5 223.5h2v2h-2zM382.5 207.5h2v2h-2zM382.5 216.5h2v2h-2zM380.5 226.5h2v2h-2zM380.5 219.5h2v2h-2zM375.5 240.5h2v2h-2zM380.5 225.5h2v2h-2zM377.5 212.5h2v2h-2zM378.5 225.5h2v2h-2zM372.5 219.5h2v2h-2zM375.5 228.5h2v2h-2zM379.5 216.5h2v2h-2zM374.5 219.5h2v2h-2zM375.5 220.5h2v2h-2zM382.5 215.5h2v2h-2zM382.5 210.5h2v2h-2zM383.5 216.5h2v2h-2zM380.5 233.5h2v2h-2zM381.5 219.5h2v2h-2zM381.5 220.5h2v2h-2zM378.5 229.5h2v2h-2zM380.5 233.5h2v2h-2zM373.5 223.5h2v2h-2zM378.5 223.5h2v2h-2zM381.5 222.5h2v2h-2zM380.5 227.5h2v2h-2zM379.5 220.5h2v2h-2zM378.5 219.5h2v2h-2zM381.5 224.5h2v2h-2zM378.5 219.5h2v2h-2zM374.5 225.5h2v2h-2zM380.5 232.5h2v2h-2zM377.5 221.5h2v2h-2zM380.5 215.5h2v2h-2zM377.5 202.5h2v2h-2zM368.5 234.5h2v2h-2zM379.5 225.5h2v2h-2zM382.5 228.5h2v2h-2zM372.5 218.5h2v2h-2zM376.5 227.5h2v2h-2zM380.5 221.5h2v2h-2zM380.5 215.5h2v2h-2zM378.5 226.5h2v2h-2zM378.5 222.5h2v2h-2zM377.5 210.5h2v2h-2zM383.5 216.5h2v2h-2zM379.5 233.5h2v2h-2zM382.5 207.5h2v2h-2zM371.5 225.5h2v2h-2zM384.5 220.5h2v2h-2zM378.5 224.5h2v2h-2zM379.5 224.5h2v2h-2zM383.5 227.5h2v2h-2zM383.5 218.5h2v2h-2zM377.5 226.5h2v2h-2zM380.5 230.5h2v2h-2zM380.5 225.5h2v2h-2zM377.5 221.5h2v2h-2zM376.5 235.5h2v2h-2zM374.5 215.5h2v2h-2zM373.5 225.5h2v2h-2zM380.5 216.5h2v2h-2zM384.5 213.5h2v2h-2zM376.5 219.5h2v2h-2zM383.5 218.5h2v2h-2zM378.5 224.5h2v2h-2zM383.5 227.5h2v2h-2zM375.5 234.5h2v2h-2zM387.5 224.5h2v2h-2zM379.5 225.5h2v2h-2zM375.5 237.5h2v2h-2zM380.5 219.5h2v2h-2zM375.5 210.5h2v2h-2zM380.5 219.5h2v2h-2zM379.5 213.5h2v2h-2zM380.5 223.5h2v2h-2zM376.5 228.5h2v2h-2zM370.5 219.5h2v2h-2zM370.5 222.5h2v2h-2zM375.5 228.5h2v2h-2zM376.5 214.5h2v2h-2zM381.5 220.5h2v2h-2zM374.5 225.5h2v2h-2zM380.5 220.5h2v2h-2zM378.5 222.5h2v2h-2zM384.5 218.5h2v2h-2zM381.5 210.5h2v2h-2zM378.5 225.5h2v2h-2zM374.5 229.5h2v2h-2zM381.5 212.5h2v2h-2zM383.5 205.5h2v2h-2zM377.5 225.5h2v2h-2zM379.5 228.5h2v2h-2zM374.5 229.5h2v2h-2zM378.5 221.5h2v2h-2zM380.5 221.5h2v2h-2zM377.5 223.5h2v2h-2zM383.5 216.5h2v2h-2zM379.5 227.5h2v2h-2zM376.5 225.5h2v2h-2zM374.5 229.5h2v2h-2zM380.5 212.5h2v2h-2zM377.5 213.5h2v2h-2zM379.5 212.5h2v2h-2zM374.5 226.5h2v2h-2zM382.5 212.5h2v2h-2zM379.5 219.5h2v2h-2zM380.5 216.5h2v2h-2zM382.5 218.5h2v2h-2zM371.5 222.5h2v2h-2zM378.5 222.5h2v2h-2zM376.5 231.5h2v2h-2zM380.5 225.5h2v2h-2zM380.5 223.5h2v2h-2zM379.5 229.5h2v2h-2zM382.5 221.5h2v2h-2zM374.5 211.5h2v2h-2zM375.5 224.5h2v2h-2zM381.5 228.5h2v2h-2zM382.5 227.5h2v2h-2zM376.5 219.5h2v2h-2zM384.5 210.5h2v2h-2zM381.5 220.5h2v2h-2zM374.5 220.5h2v2h-2zM375.5 229.5h2v2h-2zM380.5 219.5h2v2h-2zM379.5 217.5h2v2h-2zM383.5 225.5h2v2h-2zM380.5 221.5h2v2h-2zM380.5 226.5h2v2h-2zM377.5 216.5h2v2h-2zM376.5 211.5h2v2h-2zM377.5 218.5h2v2h-2zM383.5 218.5h2v2h-2zM384.5 222.5h2v2h-2zM375.5 225.5h2v2h-2zM377.5 226.5h2v2h-2zM370.5 222.5h2v2h-2zM382.5 221.5h2v2h-2zM375.5 220.5h2v2h-2zM382.5 215.5h2v2h-2zM383.5 217.5h2v2h-2zM376.5 210.5h2v2h-2zM377.5 215.5h2v2h-2zM380.5 223.5h2v2h-2zM383.5 221.5h2v2h-2zM375.5 231.5h2v2h-2zM377.5 209.5h2v2h-2zM379.5 225.5h2v2h-2zM382.5 224.5h2v2h-2zM377.5 208.5h2v2h-2zM375.5 228.5h2v2h-2zM381.5 226.5h2v2h-2zM379.5 221.5h2v2h-2zM375.5 224.5h2v2h-2zM379.5 220.5h2v2h-2zM380.5 220.5h2v2h-2zM382.5 217.5h2v2h-2zM379.5 222.5h2v2h-2zM379.5 216.5h2v2h-2zM373.5 222.5h2v2h-2zM381.5 217.5h2v2h-2zM381.5 213.5h2v2h-2zM377.5 233.5h2v2h-2zM378.5 222.5h2v2h-2zM379.5 220.5h2v2h-2zM379.5 234.5h2v2h-2zM374.5 241.5h2v2h-2zM375.5 218.5h2v2h-2zM380.5 226.5h2v2h-2zM378.5 215.5h2v2h-2zM378.5 221.5h2v2h-2zM380.5 221.5h2v2h-2zM377.5 223.5h2v2h-2zM378.5 220.5h2v2h-2zM374.5 226.5h2v2h-2zM382.5 225.5h2v2h-2zM375.5 215.5h2v2h-2zM382.5 223.5h2v2h-2zM375.5 217.5h2v2h-2zM376.5 221.5h2v2h-2zM377.5 223.5h2v2h-2zM380.5 228.5h2v2h-2zM380.5 215.5h2v2h-2zM376.5 226.5h2v2h-2zM375.5 218.5h2v2h-2zM380.5 232.5h2v2h-2zM379.5 219.5h2v2h-2zM380.5 219.5h2v2h-2zM377.5 225.5h2v2h-2zM375.5 231.5h2v2h-2zM380.5 222.5h2v2h-2zM379.5 220.5h2v2h-2zM381.5 225.5h2v2h-2zM378.5 225.5h2v2h-2zM375.5 214.5h2v2h-2zM381.5 222.5h2v2h-2zM378.5 224.5h2v2h-2zM379.5 215.5h2v2h-2zM369.5 219.5h2v2h-2zM375.5 225.5h2v2h-2zM380.5 215.5h2v2h-2zM376.5 223.5h2v2h-2zM380.5 215.5h2v2h-2zM379.5 226.5h2v2h-2zM379.5 219.5h2v2h-2zM377.5 212.5h2v2h-2zM380.5 218.5h2v2h-2zM380.5 218.5h2v2h-2zM378.5 218.5h2v2h-2zM374.5 214.5h2v2h-2zM375.5 220.5h2v2h-2zM381.5 218.5h2v2h-2zM377.5 222.5h2v2h-2zM375.5 207.5h2v2h-2zM377.5 227.5h2v2h-2zM379.5 215.5h2v2h-2zM379.5 228.5h2v2h-2zM380.5 218.5h2v2h-2zM381.5 212.5h2v2h-2zM375.5 228.5h2v2h-2zM375.5 208.5h2v2h-2zM375.5 227.5h2v2h-2zM382.5 227.5h2v2h-2zM374.5 218.5h2v2h-2zM380.5 229.5h2v2h-2zM375.5 214.5h2v2h-2zM375.5 217.5h2v2h-2zM375.5 239.5h2v2h-2zM374.5 230.5h2v2h-2zM377.5 226.5h2v2h-2zM375.5 217.5h2v2h-2zM377.5 228.5h2v2h-2zM380.5 226.5h2v2h-2zM375.5 216.5h2v2h-2zM379.5 228.5h2v2h-2zM380.5 219.5h2v2h-2zM379.5 230.5h2v2h-2zM372.5 213.5h2v2h-2zM383.5 212.5h2v2h-2zM373.5 228.5h2v2h-2zM375.5 236.5h2v2h-2zM375.5 232.5h2v2h-2zM376.5 214.5h2v2h-2zM375.5 224.5h2v2h-2zM377.5 214.5h2v2h-2zM377.5 230.5h2v2h-2zM379.5 228.5h2v2h-2zM377.5 222.5h2v2h-2zM382.5 214.5h2v2h-2zM378.5 222.5h2v2h-2zM381.5 228.5h2v2h-2zM375.5 218.5h2v2h-2zM379.5 220.5h2v2h-2zM379.5 218.5h2v2h-2zM378.5 222.5h2v2h-2zM379.5 225.5h2v2h-2zM381.5 221.5h2v2h-2zM376.5 237.5h2v2h-2zM380.5 219.5h2v2h-2zM379.5 213.5h2v2h-2zM378.5 217.5h2v2h-2zM375.5 227.5h2v2h-2zM380.5 232.5h2v2h-2zM382.5 213.5h2v2h-2zM382.5 225.5h2v2h-2zM377.5 222.5h2v2h-2zM378.5 219.5h2v2h-2zM385.5 226.5h2v2h-2zM382.5 221.5h2v2h-2zM376.5 210.5h2v2h-2zM380.5 225.5h2v2h-2zM381.5 208.5h2v2h-2zM378.5 218.5h2v2h-2zM378.5 219.5h2v2h-2zM377.5 214.5h2v2h-2zM378.5 215.5h2v2h-2zM377.5 214.5h2v2h-2zM375.5 217.5h2v2h-2zM376.5 225.5h2v2h-2zM377.5 210.5h2v2h-2zM380.5 222.5h2v2h-2zM380.5 227.5h2v2h-2zM379.5 215.5h2v2h-2zM378.5 216.5h2v2h-2zM380.5 221.5h2v2h-2zM378.5 220.5h2v2h-2zM385.5 218.5h2v2h-2zM372.5 207.5h2v2h-2zM371.5 220.5h2v2h-2zM373.5 229.5h2v2h-2zM379.5 225.5h2v2h-2zM381.5 218.5h2v2h-2zM377.5 222.5h2v2h-2zM378.5 225.5h2v2h-2zM378.5 216.5h2v2h-2zM381.5 216.5h2v2h-2zM384.5 223.5h2v2h-2zM372.5 218.5h2v2h-2zM384.5 226.5h2v2h-2zM381.5 226.5h2v2h-2zM377.5 223.5h2v2h-2zM378.5 230.5h2v2h-2zM379.5 219.5h2v2h-2zM380.5 222.5h2v2h-2zM379.5 225.5h2v2h-2zM381.5 221.5h2v2h-2zM375.5 220.5h2v2h-2zM379.5 226.5h2v2h-2zM376.5 225.5h2v2h-2zM376.5 226.5h2v2h-2zM382.5 213.5h2v2h-2zM375.5 232.5h2v2h-2zM379.5 222.5h2v2h-2zM380.5 216.5h2v2h-2zM377.5 228.5h2v2h-2zM373.5 227.5h2v2h-2zM379.5 228.5h2v2h-2zM377.5 233.5h2v2h-2zM386.5 215.5h2v2h-2zM375.5 222.5h2v2h-2zM380.5 229.5h2v2h-2zM376.5 226.5h2v2h-2zM377.5 220.5h2v2h-2zM383.5 225.5h2v2h-2zM377.5 228.5h2v2h-2zM381.5 219.5h2v2h-2zM378.5 228.5h2v2h-2zM375.5 224.5h2v2h-2zM378.5 221.5h2v2h-2zM376.5 226.5h2v2h-2zM378.5 221.5h2v2h-2zM383.5 227.5h2v2h-2zM383.5 204.5h2v2h-2zM372.5 224.5h2v2h-2zM385.5 218.5h2v2h-2zM378.5 228.5h2v2h-2zM380.5 230.5h2v2h-2zM383.5 224.5h2v2h-2zM375.5 224.5h2v2h-2zM379.5 224.5h2v2h-2zM378.5 222.5h2v2h-2zM378.5 216.5h2v2h-2zM379.5 209.5h2v2h-2zM381.5 209.5h2v2h-2zM382.5 222.5h2v2h-2zM383.5 210.5h2v2h-2zM381.5 211.5h2v2h-2zM381.5 227.5h2v2h-2zM371.5 224.5h2v2h-2zM378.5 223.5h2v2h-2zM382.5 209.5h2v2h-2zM379.5 223.5h2v2h-2zM382.5 225.5h2v2h-2zM380.5 213.5h2v2h-2zM382.5 224.5h2v2h-2zM377.5 223.5h2v2h-2zM381.5 219.5h2v2h-2zM379.5 221.5h2v2h-2zM375.5 238.5h2v2h-2zM378.5 231.5h2v2h-2zM381.5 218.5h2v2h-2zM374.5 231.5h2v2h-2zM382.5 215.5h2v2h-2zM377.5 223.5h2v2h-2zM379.5 221.5h2v2h-2zM370.5 219.5h2v2h-2zM376.5 234.5h2v2h-2zM372.5 226.5h2v2h-2zM380.5 230.5h2v2h-2zM376.5 220.5h2v2h-2zM379.5 212.5h2v2h-2zM377.5 224.5h2v2h-2zM374.5 221.5h2v2h-2zM376.5 235.5h2v2h-2zM374.5 224.5h2v2h-2zM377.5 224.5h2v2h-2zM381.5 224.5h2v2h-2zM383.5 219.5h2v2h-2zM384.5 214.5h2v2h-2zM377.5 222.5h2v2h-2zM376.5 219.5h2v2h-2zM378.5 233.5h2v2h-2zM384.5 219.5h2v2h-2zM376.5 222.5h2v2h-2zM380.5 235.5h2v2h-2zM378.5 220.5h2v2h-2zM369.5 225.5h2v2h-2zM380.5 216.5h2v2h-2zM384.5 220.5h2v2h-2zM380.5 222.5h2v2h-2zM383.5 211.5h2v2h-2zM379.5 224.5h2v2h-2zM373.5 223.5h2v2h-2zM371.5 221.5h2v2h-2zM375.5 221.5h2v2h-2zM376.5 228.5h2v2h-2zM376.5 218.5h2v2h-2zM376.5 219.5h2v2h-2zM380.5 226.5h2v2h-2zM381.5 233.5h2v2h-2zM374.5 213.5h2v2h-2zM376.5 213.5h2v2h-2zM379.5 216.5h2v2h-2zM379.5 215.5h2v2h-2zM373.5 209.5h2v2h-2zM388.5 221.5h2v2h-2zM382.5 211.5h2v2h-2zM379.5 223.5h2v2h-2zM371.5 226.5h2v2h-2zM379.5 222.5h2v2h-2zM374.5 223.5h2v2h-2zM380.5 219.5h2v2h-2zM381.5 210.5h2v2h-2zM379.5 219.5h2v2h-2zM381.5 215.5h2v2h-2zM379.5 207.5h2v2h-2zM381.5 210.5h2v2h-2zM371.5 219.5h2v2h-2zM380.5 226.5h2v2h-2zM380.5 207.5h2v2h-2zM385.5 230.5h2v2h-2zM377.5 233.5h2v2h-2zM369.5 233.5h2v2h-2zM384.5 214.5h2v2h-2zM374.5 231.5h2v2h-2zM375.5 222.5h2v2h-2zM378.5 222.5h2v2h-2zM384.5 213.5h2v2h-2zM383.5 231.5h2v2h-2zM377.5 221.5h2v2h-2zM379.5 219.5h2v2h-2zM381.5 212.5h2v2h-2zM376.5 222.5h2v2h-2zM377.5 219.5h2v2h-2zM378.5 223.5h2v2h-2zM379.5 214.5h2v2h-2zM383.5 216.5h2v2h-2zM372.5 223.5h2v2h-2zM380.5 218.5h2v2h-2zM378.5 231.5h2v2h-2zM383.5 221.5h2v2h-2zM376.5 227.5h2v2h-2zM377.5 224.5h2v2h-2zM380.5 214.5h2v2h-2zM379.5 206.5h2v2h-2zM377.5 219.5h2v2h-2zM376.5 222.5h2v2h-2zM376.5 223.5h2v2h-2zM376.5 216.5h2v2h-2zM376.5 222.5h2v2h-2zM377.5 214.5h2v2h-2zM378.5 210.5h2v2h-2zM375.5 216.5h2v2h-2zM381.5 224.5h2v2h-2zM380.5 216.5h2v2h-2zM377.5 226.5h2v2h-2zM373.5 232.5h2v2h-2zM382.5 214.5h2v2h-2zM380.5 208.5h2v2h-2zM380.5 212.5h2v2h-2zM378.5 224.5h2v2h-2zM374.5 244.5h2v2h-2zM380.5 226.5h2v2h-2zM377.5 216.5h2v2h-2zM376.5 223.5h2v2h-2zM380.5 212.5h2v2h-2zM377.5 226.5h2v2h-2zM381.5 218.5h2v2h-2zM381.5 220.5h2v2h-2zM383.5 220.5h2v2h-2zM380.5 231.5h2v2h-2zM377.5 222.5h2v2h-2zM378.5 219.5h2v2h-2zM377.5 224.5h2v2h-2zM380.5 231.5h2v2h-2zM377.5 224.5h2v2h-2zM375.5 227.5h2v2h-2zM376.5 218.5h2v2h-2zM382.5 215.5h2v2h-2zM376.5 219.5h2v2h-2zM371.5 217.5h2v2h-2zM380.5 223.5h2v2h-2zM380.5 220.5h2v2h-2zM378.5 235.5h2v2h-2zM381.5 221.5h2v2h-2zM381.5 216.5h2v2h-2zM379.5 225.5h2v2h-2zM379.5 217.5h2v2h-2zM374.5 231.5h2v2h-2zM372.5 220.5h2v2h-2zM372.5 221.5h2v2h-2zM380.5 218.5h2v2h-2zM381.5 221.5h2v2h-2zM381.5 206.5h2v2h-2zM372.5 242.5h2v2h-2zM379.5 231.5h2v2h-2zM377.5 226.5h2v2h-2zM378.5 221.5h2v2h-2zM376.5 225.5h2v2h-2zM374.5 225.5h2v2h-2zM373.5 231.5h2v2h-2zM378.5 231.5h2v2h-2zM382.5 228.5h2v2h-2zM385.5 212.5h2v2h-2zM377.5 227.5h2v2h-2zM383.5 203.5h2v2h-2zM379.5 214.5h2v2h-2zM378.5 223.5h2v2h-2zM381.5 216.5h2v2h-2zM382.5 215.5h2v2h-2zM373.5 229.5h2v2h-2zM382.5 233.5h2v2h-2zM380.5 211.5h2v2h-2zM374.5 227.5h2v2h-2zM386.5 217.5h2v2h-2zM376.5 216.5h2v2h-2zM376.5 233.5h2v2h-2zM377.5 217.5h2v2h-2zM383.5 218.5h2v2h-2zM372.5 211.5h2v2h-2zM379.5 222.5h2v2h-2zM374.5 217.5h2v2h-2zM384.5 220.5h2v2h-2zM384.5 224.5h2v2h-2zM383.5 211.5h2v2h-2zM377.5 214.5h2v2h-2zM384.5 212.5h2v2h-2zM385.5 220.5h2v2h-2zM381.5 214.5h2v2h-2zM376.5 228.5h2v2h-2zM382.5 226.5h2v2h-2zM375.5 214.5h2v2h-2zM377.5 223.5h2v2h-2zM378.5 224.5h2v2h-2zM379.5 220.5h2v2h-2zM380.5 233.5h2v2h-2zM378.5 220.5h2v2h-2zM376.5 217.5h2v2h-2zM374.5 223.5h2v2h-2zM377.5 229.5h2v2h-2zM382.5 210.5h2v2h-2zM382.5 219.5h2v2h-2zM379.5 229.5h2v2h-2zM373.5 225.5h2v2h-2zM378.5 232.5h2v2h-2zM374.5 233.5h2v2h-2zM380.5 235.5h2v2h-2zM376.5 227.5h2v2h-2zM378.5 218.5h2v2h-2zM378.5 216.5h2v2h-2zM381.5 223.5h2v2h-2zM379.5 214.5h2v2h-2zM387.5 219.5h2v2h-2zM381.5 230.5h2v2h-2zM374.5 226.5h2v2h-2zM379.5 219.5h2v2h-2zM382.5 217.5h2v2h-2zM382.5 214.5h2v2h-2zM379.5 231.5h2v2h-2zM377.5 235.5h2v2h-2zM376.5 207.5h2v2h-2zM373.5 222.5h2v2h-2zM382.5 215.5h2v2h-2zM376.5 221.5h2v2h-2zM377.5 231.5h2v2h-2zM382.5 212.5h2v2h-2zM373.5 217.5h2v2h-2zM374.5 210.5h2v2h-2zM381.5 217.5h2v2h-2zM375.5 228.5h2v2h-2zM377.5 221.5h2v2h-2zM383.5 215.5h2v2h-2zM377.5 226.5h2v2h-2zM378.5 220.5h2v2h-2zM381.5 213.5h2v2h-2zM372.5 229.5h2v2h-2zM383.5 225.5h2v2h-2zM380.5 220.5h2v2h-2zM378.5 214.5h2v2h-2zM382.5 222.5h2v2h-2zM375.5 225.5h2v2h-2zM377.5 217.5h2v2h-2zM374.5 225.5h2v2h-2zM378.5 218.5h2v2h-2zM377.5 218.5h2v2h-2zM379.5 223.5h2v2h-2zM377.5 215.5h2v2h-2zM381.5 213.5h2v2h-2zM378.5 230.5h2v2h-2zM380.5 218.5h2v2h-2zM379.5 222.5h2v2h-2zM378.5 223.5h2v2h-2zM376.5 220.5h2v2h-2zM374.5 212.5h2v2h-2zM379.5 222.5h2v2h-2zM374.5 222.5h2v2h-2zM378.5 230.5h2v2h-2zM378.5 222.5h2v2h-2zM378.5 221.5h2v2h-2zM377.5 227.5h2v2h-2zM380.5 223.5h2v2h-2zM376.5 217.5h2v2h-2zM381.5 212.5h2v2h-2zM381.5 223.5h2v2h-2zM383.5 208.5h2v2h-2zM383.5 215.5h2v2h-2zM379.5 215.5h2v2h-2zM379.5 217.5h2v2h-2zM384.5 221.5h2v2h-2zM379.5 225.5h2v2h-2zM379.5 221.5h2v2h-2zM382.5 221.5h2v2h-2zM376.5 219.5h2v2h-2zM380.5 210.5h2v2h-2zM382.5 207.5h2v2h-2zM379.5 217.5h2v2h-2zM384.5 215.5h2v2h-2zM379.5 225.5h2v2h-2zM379.5 234.5h2v2h-2zM376.5 221.5h2v2h-2zM379.5 219.5h2v2h-2zM380.5 211.5h2v2h-2zM383.5 205.5h2v2h-2zM380.5 219.5h2v2h-2zM380.5 212.5h2v2h-2zM382.5 213.5h2v2h-2zM385.5 220.5h2v2h-2zM380.5 215.5h2v2h-2zM377.5 218.5h2v2h-2zM384.5 211.5h2v2h-2zM382.5 228.5h2v2h-2zM376.5 236.5h2v2h-2zM382.5 220.5h2v2h-2zM373.5 213.5h2v2h-2zM381.5 214.5h2v2h-2zM377.5 224.5h2v2h-2zM386.5 218.5h2v2h-2zM378.5 225.5h2v2h-2zM385.5 217.5h2v2h-2zM377.5 225.5h2v2h-2zM376.5 227.5h2v2h-2zM378.5 214.5h2v2h-2zM373.5 228.5h2v2h-2zM375.5 230.5h2v2h-2zM383.5 216.5h2v2h-2zM374.5 219.5h2v2h-2zM376.5 236.5h2v2h-2zM383.5 213.5h2v2h-2zM378.5 229.5h2v2h-2zM380.5 224.5h2v2h-2zM379.5 221.5h2v2h-2zM382.5 207.5h2v2h-2zM373.5 220.5h2v2h-2zM384.5 215.5h2v2h-2zM379.5 222.5h2v2h-2zM377.5 217.5h2v2h-2zM376.5 230.5h2v2h-2zM378.5 220.5h2v2h-2zM380.5 225.5h2v2h-2zM374.5 227.5h2v2h-2zM375.5 218.5h2v2h-2zM376.5 213.5h2v2h-2zM382.5 218.5h2v2h-2zM375.5 222.5h2v2h-2zM380.5 216.5h2v2h-2zM374.5 227.5h2v2h-2zM379.5 218.5h2v2h-2zM378.5 217.5h2v2h-2zM376.5 221.5h2v2h-2zM382.5 223.5h2v2h-2zM379.5 220.5h2v2h-2zM375.5 224.5h2v2h-2zM386.5 223.5h2v2h-2zM377.5 215.5h2v2h-2zM373.5 233.5h2v2h-2zM375.5 211.5h2v2h-2zM384.5 218.5h2v2h-2zM379.5 219.5h2v2h-2zM378.5 227.5h2v2h-2zM381.5 224.5h2v2h-2zM378.5 224.5h2v2h-2zM382.5 216.5h2v2h-2zM384.5 217.5h2v2h-2zM381.5 213.5h2v2h-2zM381.5 220.5h2v2h-2zM377.5 234.5h2v2h-2zM378.5 227.5h2v2h-2zM383.5 224.5h2v2h-2zM381.5 219.5h2v2h-2zM378.5 231.5h2v2h-2zM373.5 221.5h2v2h-2zM376.5 220.5h2v2h-2zM376.5 224.5h2v2h-2zM378.5 222.5h2v2h-2zM382.5 206.5h2v2h-2zM379.5 221.5h2v2h-2zM380.5 207.5h2v2h-2zM380.5 219.5h2v2h-2zM379.5 226.5h2v2h-2zM382.5 217.5h2v2h-2zM373.5 222.5h2v2h-2zM382.5 222.5h2v2h-2zM382.5 237.5h2v2h-2zM382.5 219.5h2v2h-2zM377.5 224.5h2v2h-2zM377.5 213.5h2v2h-2zM379.5 220.5h2v2h-2zM382.5 224.5h2v2h-2zM378.5 228.5h2v2h-2zM372.5 220.5h2v2h-2zM368.5 221.5h2v2h-2zM378.5 226.5h2v2h-2zM388.5 210.5h2v2h-2zM374.5 221.5h2v2h-2zM378.5 214.5h2v2h-2zM380.5 211.5h2v2h-2zM380.5 218.5h2v2h-2zM382.5 217.5h2v2h-2zM374.5 217.5h2v2h-2zM380.5 214.5h2v2h-2zM377.5 217.5h2v2h-2zM382.5 218.5h2v2h-2zM380.5 220.5h2v2h-2zM381.5 225.5h2v2h-2zM374.5 223.5h2v2h-2zM374.5 224.5h2v2h-2zM376.5 219.5h2v2h-2zM378.5 212.5h2v2h-2zM375.5 227.5h2v2h-2zM374.5 224.5h2v2h-2zM375.5 227.5h2v2h-2zM373.5 220.5h2v2h-2zM383.5 215.5h2v2h-2zM376.5 223.5h2v2h-2zM375.5 218.5h2v2h-2zM376.5 236.5h2v2h-2zM373.5 221.5h2v2h-2zM380.5 218.5h2v2h-2zM377.5 225.5h2v2h-2zM382.5 233.5h2v2h-2zM381.5 218.5h2v2h-2zM376.5 221.5h2v2h-2zM383.5 209.5h2v2h-2zM378.5 225.5h2v2h-2zM380.5 222.5h2v2h-2zM369.5 222.5h2v2h-2zM377.5 220.5h2v2h-2zM375.5 233.5h2v2h-2zM384.5 212.5h2v2h-2zM376.5 216.5h2v2h-2zM379.5 222.5h2v2h-2zM377.5 223.5h2v2h-2zM375.5 217.5h2v2h-2zM377.5 218.5h2v2h-2zM379.5 224.5h2v2h-2zM378.5 222.5h2v2h-2zM378.5 218.5h2v2h-2zM378.5 224.5h2v2h-2zM378.5 223.5h2v2h-2zM379.5 224.5h2v2h-2zM378.5 223.5h2v2h-2zM372.5 229.5h2v2h-2zM377.5 227.5h2v2h-2zM379.5 218.5h2v2h-2zM384.5 216.5h2v2h-2zM375.5 221.5h2v2h-2zM375.5 230.5h2v2h-2zM384.5 219.5h2v2h-2zM374.5 209.5h2v2h-2zM379.5 213.5h2v2h-2zM371.5 221.5h2v2h-2zM373.5 222.5h2v2h-2zM376.5 223.5h2v2h-2zM382.5 210.5h2v2h-2zM376.5 219.5h2v2h-2zM378.5 227.5h2v2h-2zM377.5 214.5h2v2h-2zM384.5 216.5h2v2h-2zM374.5 234.5h2v2h-2zM383.5 226.5h2v2h-2zM385.5 215.5h2v2h-2zM377.5 214.5h2v2h-2zM378.5 229.5h2v2h-2zM377.5 220.5h2v2h-2zM384.5 216.5h2v2h-2zM380.5 219.5h2v2h-2zM383.5 229.5h2v2h-2zM377.5 222.5h2v2h-2zM378.5 216.5h2v2h-2zM376.5 217.5h2v2h-2zM378.5 227.5h2v2h-2zM382.5 205.5h2v2h-2zM379.5 219.5h2v2h-2zM377.5 231.5h2v2h-2zM380.5 223.5h2v2h-2zM375.5 239.5h2v2h-2zM376.5 225.5h2v2h-2zM375.5 220.5h2v2h-2zM379.5 204.5h2v2h-2zM377.5 219.5h2v2h-2zM382.5 219.5h2v2h-2zM382.5 216.5h2v2h-2zM376.5 219.5h2v2h-2zM379.5 225.5h2v2h-2zM377.5 211.5h2v2h-2zM381.5 218.5h2v2h-2zM375.5 210.5h2v2h-2zM382.5 214.5h2v2h-2zM377.5 227.5h2v2h-2zM379.5 224.5h2v2h-2zM378.5 223.5h2v2h-2zM375.5 223.5h2v2h-2zM379.5 218.5h2v2h-2zM378.5 222.5h2v2h-2zM380.5 226.5h2v2h-2zM382.5 211.5h2v2h-2zM384.5 212.5h2v2h-2zM380.5 221.5h2v2h-2zM374.5 227.5h2v2h-2zM380.5 225.5h2v2h-2zM374.5 225.5h2v2h-2zM375.5 226.5h2v2h-2zM377.5 227.5h2v2h-2zM376.5 218.5h2v2h-2zM378.5 218.5h2v2h-2zM382.5 218.5h2v2h-2zM375.5 226.5h2v2h-2zM376.5 218.5h2v2h-2zM377.5 207.5h2v2h-2zM387.5 220.5h2v2h-2zM377.5 223.5h2v2h-2zM382.5 203.5h2v2h-2zM379.5 218.5h2v2h-2zM381.5 225.5h2v2h-2zM378.5 214.5h2v2h-2zM375.5 225.5h2v2h-2zM377.5 223.5h2v2h-2zM377.5 213.5h2v2h-2zM373.5 224.5h2v2h-2zM371.5 229.5h2v2h-2zM379.5 216.5h2v2h-2zM378.5 215.5h2v2h-2zM381.5 230.5h2v2h-2zM376.5 222.5h2v2h-2zM379.5 213.5h2v2h-2zM382.5 219.5h2v2h-2zM374.5 214.5h2v2h-2zM381.5 222.5h2v2h-2zM375.5 224.5h2v2h-2zM374.5 223.5h2v2h-2zM379.5 223.5h2v2h-2zM379.5 219.5h2v2h-2zM372.5 237.5h2v2h-2zM377.5 233.5h2v2h-2zM383.5 221.5h2v2h-2zM382.5 216.5h2v2h-2zM378.5 225.5h2v2h-2zM377.5 220.5h2v2h-2zM377.5 227.5h2v2h-2zM378.5 230.5h2v2h-2zM378.5 219.5h2v2h-2zM380.5 221.5h2v2h-2zM381.5 224.5h2v2h-2zM372.5 228.5h2v2h-2zM379.5 220.5h2v2h-2zM380.5 221.5h2v2h-2zM377.5 222.5h2v2h-2zM376.5 221.5h2v2h-2zM383.5 224.5h2v2h-2zM379.5 217.5h2v2h-2zM379.5 218.5h2v2h-2zM379.5 208.5h2v2h-2zM379.5 211.5h2v2h-2zM377.5 221.5h2v2h-2zM377.5 228.5h2v2h-2zM375.5 216.5h2v2h-2zM373.5 224.5h2v2h-2zM378.5 210.5h2v2h-2zM376.5 230.5h2v2h-2zM376.5 223.5h2v2h-2zM382.5 211.5h2v2h-2zM378.5 220.5h2v2h-2zM381.5 216.5h2v2h-2zM380.5 216.5h2v2h-2zM371.5 223.5h2v2h-2zM381.5 215.5h2v2h-2zM382.5 227.5h2v2h-2zM378.5 223.5h2v2h-2zM381.5 207.5h2v2h-2zM375.5 221.5h2v2h-2zM380.5 218.5h2v2h-2zM374.5 227.5h2v2h-2zM375.5 211.5h2v2h-2zM378.5 227.5h2v2h-2zM380.5 226.5h2v2h-2zM377.5 224.5h2v2h-2zM377.5 227.5h2v2h-2zM375.5 229.5h2v2h-2zM383.5 223.5h2v2h-2zM379.5 224.5h2v2h-2zM377.5 221.5h2v2h-2zM376.5 227.5h2v2h-2zM378.5 227.5h2v2h-2zM381.5 223.5h2v2h-2zM377.5 220.5h2v2h-2zM375.5 226.5h2v2h-2zM379.5 221.5h2v2h-2zM378.5 222.5h2v2h-2zM375.5 213.5h2v2h-2zM379.5 216.5h2v2h-2zM378.5 217.5h2v2h-2zM378.5 214.5h2v2h-2zM378.5 225.5h2v2h-2zM381.5 212.5h2v2h-2zM384.5 220.5h2v2h-2zM380.5 224.5h2v2h-2zM381.5 219.5h2v2h-2zM376.5 227.5h2v2h-2zM380.5 209.5h2v2h-2zM377.5 219.5h2v2h-2zM375.5 230.5h2v2h-2zM380.5 228.5h2v2h-2zM384.5 225.5h2v2h-2zM380.5 225.5h2v2h-2zM380.5 218.5h2v2h-2zM381.5 215.5h2v2h-2zM382.5 214.5h2v2h-2zM379.5 217.5h2v2h-2zM377.5 227.5h2v2h-2zM381.5 214.5h2v2h-2zM385.5 214.5h2v2h-2zM376.5 233.5h2v2h-2zM373.5 224.5h2v2h-2zM380.5 223.5h2v2h-2zM378.5 226.5h2v2h-2zM377.5 214.5h2v2h-2zM376.5 217.5h2v2h-2zM369.5 219.5h2v2h-2zM375.5 228.5h2v2h-2zM375.5 234.5h2v2h-2zM379.5 227.5h2v2h-2zM377.5 226.5h2v2h-2zM374.5 226.5h2v2h-2zM375.5 234.5h2v2h-2zM377.5 231.5h2v2h-2zM380.5 224.5h2v2h-2zM380.5 219.5h2v2h-2zM380.5 225.5h2v2h-2zM372.5 221.5h2v2h-2zM379.5 221.5h2v2h-2zM379.5 221.5h2v2h-2zM377.5 213.5h2v2h-2zM378.5 226.5h2v2h-2zM377.5 219.5h2v2h-2zM373.5 229.5h2v2h-2zM376.5 213.5h2v2h-2zM381.5 216.5h2v2h-2zM381.5 215.5h2v2h-2zM382.5 221.5h2v2h-2zM380.5 222.5h2v2h-2zM378.5 229.5h2v2h-2zM375.5 218.5h2v2h-2zM379.5 212.5h2v2h-2zM374.5 239.5h2v2h-2zM386.5 210.5h2v2h-2zM375.5 226.5h2v2h-2zM375.5 217.5h2v2h-2zM374.5 226.5h2v2h-2zM381.5 222.5h2v2h-2zM377.5 215.5h2v2h-2zM380.5 222.5h2v2h-2zM379.5 209.5h2v2h-2zM382.5 221.5h2v2h-2zM374.5 216.5h2v2h-2zM376.5 225.5h2v2h-2zM380.5 224.5h2v2h-2zM377.5 223.5h2v2h-2zM376.5 217.5h2v2h-2zM385.5 211.5h2v2h-2zM374.5 220.5h2v2h-2zM374.5 229.5h2v2h-2zM381.5 225.5h2v2h-2zM382.5 231.5h2v2h-2zM379.5 218.5h2v2h-2zM375.5 220.5h2v2h-2zM373.5 227.5h2v2h-2zM375.5 223.5h2v2h-2zM379.5 215.5h2v2h-2zM383.5 219.5h2v2h-2zM380.5 225.5h2v2h-2zM382.5 216.5h2v2h-2zM377.5 218.5h2v2h-2zM380.5 225.5h2v2h-2zM381.5 220.5h2v2h-2zM383.5 209.5h2v2h-2zM377.5 228.5h2v2h-2zM378.5 214.5h2v2h-2zM382.5 222.5h2v2h-2zM384.5 217.5h2v2h-2zM378.5 218.5h2v2h-2zM380.5 219.5h2v2h-2zM382.5 222.5h2v2h-2zM383.5 222.5h2v2h-2zM384.5 217.5h2v2h-2zM379.5 218.5h2v2h-2zM381.5 231.5h2v2h-2zM375.5 217.5h2v2h-2zM373.5 211.5h2v2h-2zM378.5 215.5h2v2h-2zM380.5 220.5h2v2h-2zM372.5 232.5h2v2h-2zM379.5 217.5h2v2h-2zM380.5 217.5h2v2h-2zM380.5 211.5h2v2h-2zM378.5 227.5h2v2h-2zM382.5 223.5h2v2h-2zM377.5 224.5h2v2h-2zM377.5 222.5h2v2h-2zM378.5 232.5h2v2h-2zM381.5 224.5h2v2h-2zM377.5 223.5h2v2h-2zM382.5 224.5h2v2h-2zM382.5 211.5h2v2h-2zM377.5 225.5h2v2h-2zM378.5 224.5h2v2h-2zM377.5 213.5h2v2h-2zM380.5 225.5h2v2h-2zM380.5 213.5h2v2h-2zM385.5 219.5h2v2h-2zM370.5 224.5h2v2h-2zM374.5 225.5h2v2h-2zM377.5 220.5h2v2h-2zM380.5 222.5h2v2h-2zM377.5 220.5h2v2h-2zM376.5 224.5h2v2h-2zM380.5 217.5h2v2h-2zM376.5 225.5h2v2h-2zM379.5 224.5h2v2h-2zM381.5 223.5h2v2h-2zM380.5 230.5h2v2h-2zM373.5 222.5h2v2h-2zM376.5 222.5h2v2h-2zM378.5 231.5h2v2h-2zM376.5 233.5h2v2h-2zM377.5 212.5h2v2h-2zM380.5 223.5h2v2h-2zM378.5 222.5h2v2h-2zM379.5 225.5h2v2h-2zM383.5 211.5h2v2h-2zM377.5 222.5h2v2h-2zM379.5 233.5h2v2h-2zM380.5 218.5h2v2h-2zM378.5 227.5h2v2h-2zM382.5 219.5h2v2h-2zM373.5 221.5h2v2h-2zM375.5 212.5h2v2h-2zM376.5 217.5h2v2h-2zM381.5 224.5h2v2h-2zM380.5 212.5h2v2h-2zM380.5 203.5h2v2h-2zM375.5 224.5h2v2h-2zM375.5 213.5h2v2h-2zM380.5 219.5h2v2h-2zM379.5 218.5h2v2h-2zM378.5 229.5h2v2h-2zM380.5 228.5h2v2h-2zM381.5 212.5h2v2h-2zM383.5 221.5h2v2h-2zM377.5 224.5h2v2h-2zM385.5 210.5h2v2h-2zM381.5 213.5h2v2h-2zM378.5 216.5h2v2h-2zM378.5 227.5h2v2h-2zM385.5 222.5h2v2h-2zM376.5 210.5h2v2h-2zM374.5 234.5h2v2h-2zM375.5 231.5h2v2h-2zM378.5 226.5h2v2h-2zM380.5 214.5h2v2h-2zM384.5 220.5h2v2h-2zM378.5 218.5h2v2h-2zM381.5 220.5h2v2h-2zM377.5 220.5h2v2h-2zM376.5 212.5h2v2h-2zM382.5 197.5h2v2h-2zM378.5 218.5h2v2h-2zM382.5 212.5h2v2h-2zM382.5 224.5h2v2h-2zM379.5 210.5h2v2h-2zM382.5 221.5h2v2h-2zM376.5 219.5h2v2h-2zM383.5 225.5h2v2h-2zM373.5 225.5h2v2h-2zM376.5 224.5h2v2h-2zM378.5 227.5h2v2h-2zM376.5 229.5h2v2h-2zM377.5 208.5h2v2h-2zM381.5 218.5h2v2h-2zM377.5 214.5h2v2h-2zM382.5 218.5h2v2h-2zM372.5 229.5h2v2h-2zM381.5 221.5h2v2h-2zM380.5 227.5h2v2h-2zM379.5 226.5h2v2h-2zM381.5 222.5h2v2h-2zM378.5 219.5h2v2h-2zM378.5 220.5h2v2h-2zM382.5 220.5h2v2h-2zM375.5 222.5h2v2h-2zM378.5 220.5h2v2h-2zM379.5 212.5h2v2h-2zM380.5 206.5h2v2h-2zM379.5 213.5h2v2h-2zM371.5 221.5h2v2h-2zM379.5 218.5h2v2h-2zM380.5 214.5h2v2h-2zM383.5 215.5h2v2h-2zM367.6 220.6h1.8v1.8h-1.8zM365.6 216.6h1.8v1.8h-1.8zM366.6 231.6h1.8v1.8h-1.8zM372.6 228.6h1.8v1.8h-1.8zM368.6 234.6h1.8v1.8h-1.8zM370.6 212.6h1.8v1.8h-1.8zM360.6 239.6h1.8v1.8h-1.8zM372.6 221.6h1.8v1.8h-1.8zM365.6 234.6h1.8v1.8h-1.8zM377.6 235.6h1.8v1.8h-1.8zM367.6 213.6h1.8v1.8h-1.8zM375.6 225.6h1.8v1.8h-1.8zM378.6 216.6h1.8v1.8h-1.8zM371.6 225.6h1.8v1.8h-1.8zM368.6 199.6h1.8v1.8h-1.8zM373.6 212.6h1.8v1.8h-1.8zM374.6 212.6h1.8v1.8h-1.8zM374.6 208.6h1.8v1.8h-1.8zM345.6 247.6h1.8v1.8h-1.8zM363.6 211.6h1.8v1.8h-1.8zM362.6 241.6h1.8v1.8h-1.8zM357.6 227.6h1.8v1.8h-1.8zM369.6 211.6h1.8v1.8h-1.8zM365.6 244.6h1.8v1.8h-1.8zM374.6 212.6h1.8v1.8h-1.8zM365.6 241.6h1.8v1.8h-1.8zM367.6 206.6h1.8v1.8h-1.8zM374.6 247.6h1.8v1.8h-1.8zM367.6 224.6h1.8v1.8h-1.8zM377.6 220.6h1.8v1.8h-1.8zM362.6 230.6h1.8v1.8h-1.8zM359.6 222.6h1.8v1.8h-1.8zM377.6 218.6h1.8v1.8h-1.8zM369.6 221.6h1.8v1.8h-1.8zM376.6 194.6h1.8v1.8h-1.8zM368.6 245.6h1.8v1.8h-1.8zM362.6 200.6h1.8v1.8h-1.8zM370.6 224.6h1.8v1.8h-1.8zM353.6 243.6h1.8v1.8h-1.8zM374.6 195.6h1.8v1.8h-1.8zM367.6 225.6h1.8v1.8h-1.8zM369.6 221.6h1.8v1.8h-1.8zM368.6 221.6h1.8v1.8h-1.8zM372.6 226.6h1.8v1.8h-1.8zM377.6 217.6h1.8v1.8h-1.8zM363.6 234.6h1.8v1.8h-1.8zM349.6 200.6h1.8v1.8h-1.8zM365.6 233.6h1.8v1.8h-1.8zM374.6 224.6h1.8v1.8h-1.8zM376.6 218.6h1.8v1.8h-1.8zM363.6 227.6h1.8v1.8h-1.8zM370.6 214.6h1.8v1.8h-1.8zM369.6 227.6h1.8v1.8h-1.8zM374.6 221.6h1.8v1.8h-1.8zM373.6 213.6h1.8v1.8h-1.8zM367.6 224.6h1.8v1.8h-1.8zM368.6 218.6h1.8v1.8h-1.8zM352.6 231.6h1.8v1.8h-1.8zM349.6 241.6h1.8v1.8h-1.8zM371.6 213.6h1.8v1.8h-1.8zM368.6 229.6h1.8v1.8h-1.8zM371.6 213.6h1.8v1.8h-1.8zM363.6 227.6h1.8v1.8h-1.8zM367.6 233.6h1.8v1.8h-1.8zM372.6 216.6h1.8v1.8h-1.8zM367.6 225.6h1.8v1.8h-1.8zM375.6 237.6h1.8v1.8h-1.8zM373.6 204.6h1.8v1.8h-1.8zM370.6 232.6h1.8v1.8h-1.8zM350.6 243.6h1.8v1.8h-1.8zM374.6 213.6h1.8v1.8h-1.8zM374.6 242.6h1.8v1.8h-1.8zM366.6 209.6h1.8v1.8h-1.8zM373.6 224.6h1.8v1.8h-1.8zM373.6 220.6h1.8v1.8h-1.8zM374.6 208.6h1.8v1.8h-1.8zM359.6 244.6h1.8v1.8h-1.8zM365.6 216.6h1.8v1.8h-1.8zM371.6 232.6h1.8v1.8h-1.8zM378.6 208.6h1.8v1.8h-1.8zM371.6 235.6h1.8v1.8h-1.8zM374.6 219.6h1.8v1.8h-1.8zM347.6 231.6h1.8v1.8h-1.8zM378.6 236.6h1.8v1.8h-1.8zM372.6 200.6h1.8v1.8h-1.8zM365.6 231.6h1.8v1.8h-1.8zM352.6 248.6h1.8v1.8h-1.8zM376.6 236.6h1.8v1.8h-1.8zM343.6 230.6h1.8v1.8h-1.8zM357.6 217.6h1.8v1.8h-1.8zM371.6 221.6h1.8v1.8h-1.8zM354.6 248.6h1.8v1.8h-1.8zM375.6 220.6h1.8v1.8h-1.8zM369.6 227.6h1.8v1.8h-1.8zM378.6 242.6h1.8v1.8h-1.8zM374.6 224.6h1.8v1.8h-1.8zM366.6 224.6h1.8v1.8h-1.8zM361.6 204.6h1.8v1.8h-1.8zM371.6 220.6h1.8v1.8h-1.8zM377.6 229.6h1.8v1.8h-1.8zM369.6 223.6h1.8v1.8h-1.8zM378.6 208.6h1.8v1.8h-1.8zM371.6 196.6h1.8v1.8h-1.8zM368.6 207.6h1.8v1.8h-1.8zM359.6 249.6h1.8v1.8h-1.8zM374.6 232.6h1.8v1.8h-1.8zM369.6 237.6h1.8v1.8h-1.8zM366.6 228.6h1.8v1.8h-1.8zM357.6 244.6h1.8v1.8h-1.8zM377.6 211.6h1.8v1.8h-1.8zM368.6 230.6h1.8v1.8h-1.8zM371.6 231.6h1.8v1.8h-1.8zM359.6 222.6h1.8v1.8h-1.8zM356.6 215.6h1.8v1.8h-1.8zM362.6 233.6h1.8v1.8h-1.8zM358.6 249.6h1.8v1.8h-1.8zM376.6 226.6h1.8v1.8h-1.8zM371.6 242.6h1.8v1.8h-1.8zM343.6 240.6h1.8v1.8h-1.8zM371.6 222.6h1.8v1.8h-1.8zM362.6 233.6h1.8v1.8h-1.8zM374.6 232.6h1.8v1.8h-1.8zM370.6 226.6h1.8v1.8h-1.8zM358.6 221.6h1.8v1.8h-1.8zM361.6 226.6h1.8v1.8h-1.8zM374.6 236.6h1.8v1.8h-1.8zM356.6 187.6h1.8v1.8h-1.8zM366.6 221.6h1.8v1.8h-1.8zM370.6 208.6h1.8v1.8h-1.8zM366.6 219.6h1.8v1.8h-1.8zM372.6 204.6h1.8v1.8h-1.8zM372.6 228.6h1.8v1.8h-1.8zM370.6 202.6h1.8v1.8h-1.8zM365.6 212.6h1.8v1.8h-1.8zM361.6 248.6h1.8v1.8h-1.8zM372.6 220.6h1.8v1.8h-1.8zM349.6 243.6h1.8v1.8h-1.8zM366.6 224.6h1.8v1.8h-1.8zM361.6 255.6h1.8v1.8h-1.8zM374.6 232.6h1.8v1.8h-1.8zM365.6 223.6h1.8v1.8h-1.8zM373.6 209.6h1.8v1.8h-1.8zM361.6 224.6h1.8v1.8h-1.8zM374.6 215.6h1.8v1.8h-1.8zM356.6 227.6h1.8v1.8h-1.8zM361.6 250.6h1.8v1.8h-1.8zM372.6 217.6h1.8v1.8h-1.8zM353.6 208.6h1.8v1.8h-1.8zM360.6 218.6h1.8v1.8h-1.8zM373.6 220.6h1.8v1.8h-1.8zM366.6 220.6h1.8v1.8h-1.8zM371.6 226.6h1.8v1.8h-1.8zM369.6 214.6h1.8v1.8h-1.8zM360.6 219.6h1.8v1.8h-1.8zM373.6 216.6h1.8v1.8h-1.8zM369.6 221.6h1.8v1.8h-1.8zM372.6 220.6h1.8v1.8h-1.8zM363.6 239.6h1.8v1.8h-1.8zM366.6 244.6h1.8v1.8h-1.8zM368.6 221.6h1.8v1.8h-1.8zM367.6 229.6h1.8v1.8h-1.8zM373.6 213.6h1.8v1.8h-1.8zM375.6 213.6h1.8v1.8h-1.8zM372.6 207.6h1.8v1.8h-1.8zM370.6 231.6h1.8v1.8h-1.8zM373.6 203.6h1.8v1.8h-1.8zM354.6 212.6h1.8v1.8h-1.8zM367.6 220.6h1.8v1.8h-1.8zM372.6 232.6h1.8v1.8h-1.8zM367.6 227.6h1.8v1.8h-1.8zM378.6 219.6h1.8v1.8h-1.8zM358.6 241.6h1.8v1.8h-1.8zM372.6 216.6h1.8v1.8h-1.8zM359.6 235.6h1.8v1.8h-1.8zM361.6 228.6h1.8v1.8h-1.8zM360.6 206.6h1.8v1.8h-1.8zM357.6 236.6h1.8v1.8h-1.8zM366.6 228.6h1.8v1.8h-1.8zM345.6 223.6h1.8v1.8h-1.8zM368.6 237.6h1.8v1.8h-1.8zM373.6 197.6h1.8v1.8h-1.8zM376.6 232.6h1.8v1.8h-1.8zM370.6 219.6h1.8v1.8h-1.8zM376.6 217.6h1.8v1.8h-1.8zM374.6 218.6h1.8v1.8h-1.8zM375.6 209.6h1.8v1.8h-1.8zM362.6 212.6h1.8v1.8h-1.8zM364.6 216.6h1.8v1.8h-1.8zM365.6 219.6h1.8v1.8h-1.8zM368.6 218.6h1.8v1.8h-1.8zM371.6 207.6h1.8v1.8h-1.8zM366.6 232.6h1.8v1.8h-1.8zM372.6 225.6h1.8v1.8h-1.8zM365.6 235.6h1.8v1.8h-1.8zM366.6 221.6h1.8v1.8h-1.8zM375.6 231.6h1.8v1.8h-1.8zM369.6 201.6h1.8v1.8h-1.8zM378.6 206.6h1.8v1.8h-1.8zM358.6 235.6h1.8v1.8h-1.8zM389.6 215.6h1.8v1.8h-1.8zM382.6 211.6h1.8v1.8h-1.8zM381.6 210.6h1.8v1.8h-1.8zM384.6 213.6h1.8v1.8h-1.8zM390.6 218.6h1.8v1.8h-1.8zM383.6 201.6h1.8v1.8h-1.8zM383.6 197.6h1.8v1.8h-1.8zM385.6 222.6h1.8v1.8h-1.8zM381.6 220.6h1.8v1.8h-1.8zM383.6 208.6h1.8v1.8h-1.8zM387.6 207.6h1.8v1.8h-1.8zM386.6 230.6h1.8v1.8h-1.8zM388.6 202.6h1.8v1.8h-1.8zM391.6 223.6h1.8v1.8h-1.8zM390.6 230.6h1.8v1.8h-1.8zM381.6 234.6h1.8v1.8h-1.8zM389.6 223.6h1.8v1.8h-1.8zM380.6 208.6h1.8v1.8h-1.8zM385.6 196.6h1.8v1.8h-1.8zM386.6 204.6h1.8v1.8h-1.8zM379.6 204.6h1.8v1.8h-1.8zM393.6 214.6h1.8v1.8h-1.8zM395.6 208.6h1.8v1.8h-1.8zM383.6 195.6h1.8v1.8h-1.8zM389.6 211.6h1.8v1.8h-1.8zM388.6 211.6h1.8v1.8h-1.8zM383.6 215.6h1.8v1.8h-1.8zM393.6 195.6h1.8v1.8h-1.8zM383.6 221.6h1.8v1.8h-1.8zM382.6 213.6h1.8v1.8h-1.8zM381.6 193.6h1.8v1.8h-1.8zM388.6 208.6h1.8v1.8h-1.8zM385.6 214.6h1.8v1.8h-1.8zM379.6 200.6h1.8v1.8h-1.8zM379.6 216.6h1.8v1.8h-1.8zM382.6 211.6h1.8v1.8h-1.8zM394.6 199.6h1.8v1.8h-1.8zM385.6 198.6h1.8v1.8h-1.8zM389.6 220.6h1.8v1.8h-1.8zM382.6 204.6h1.8v1.8h-1.8zM359.6 235.6h1.8v1.8h-1.8zM362.6 224.6h1.8v1.8h-1.8zM350.6 254.6h1.8v1.8h-1.8zM355.6 243.6h1.8v1.8h-1.8zM343.6 235.6h1.8v1.8h-1.8zM348.6 244.6h1.8v1.8h-1.8zM369.6 232.6h1.8v1.8h-1.8zM352.6 247.6h1.8v1.8h-1.8zM344.6 230.6h1.8v1.8h-1.8zM363.6 225.6h1.8v1.8h-1.8zM359.6 215.6h1.8v1.8h-1.8zM345.6 250.6h1.8v1.8h-1.8zM337.6 248.6h1.8v1.8h-1.8zM366.6 228.6h1.8v1.8h-1.8zM345.6 243.6h1.8v1.8h-1.8zM366.6 221.6h1.8v1.8h-1.8zM368.6 222.6h1.8v1.8h-1.8zM359.6 230.6h1.8v1.8h-1.8zM363.6 220.6h1.8v1.8h-1.8zM360.6 230.6h1.8v1.8h-1.8zM362.6 235.6h1.8v1.8h-1.8zM362.6 212.6h1.8v1.8h-1.8zM346.6 242.6h1.8v1.8h-1.8zM346.6 243.6h1.8v1.8h-1.8zM363.6 220.6h1.8v1.8h-1.8zM347.6 239.6h1.8v1.8h-1.8zM344.6 256.6h1.8v1.8h-1.8zM353.6 243.6h1.8v1.8h-1.8zM342.6 247.6h1.8v1.8h-1.8zM363.6 234.6h1.8v1.8h-1.8zM341.6 243.6h1.8v1.8h-1.8zM360.6 246.6h1.8v1.8h-1.8zM351.6 246.6h1.8v1.8h-1.8zM362.6 244.6h1.8v1.8h-1.8zM362.6 229.6h1.8v1.8h-1.8zM356.6 244.6h1.8v1.8h-1.8zM355.6 236.6h1.8v1.8h-1.8zM346.6 226.6h1.8v1.8h-1.8zM347.6 246.6h1.8v1.8h-1.8zM351.6 215.6h1.8v1.8h-1.8zM347.6 249.6h1.8v1.8h-1.8zM358.6 238.6h1.8v1.8h-1.8zM349.6 245.6h1.8v1.8h-1.8zM361.6 224.6h1.8v1.8h-1.8zM368.5 90.5h2v2h-2zM395.5 102.5h2v2h-2zM430.5 103.5h2v2h-2zM344.5 113.5h2v2h-2zM350.5 121.5h2v2h-2zM351.5 121.5h2v2h-2zM362.5 130.5h2v2h-2zM343.5 138.5h2v2h-2zM348.5 142.5h2v2h-2zM412.5 136.5h2v2h-2zM418.5 138.5h2v2h-2zM429.5 145.5h2v2h-2zM418.5 151.5h2v2h-2zM423.5 155.5h2v2h-2zM426.5 161.5h2v2h-2zM433.5 162.5h2v2h-2zM428.5 166.5h2v2h-2zM390.5 163.5h2v2h-2zM362.5 164.5h2v2h-2zM422.5 168.5h2v2h-2zM356.5 172.5h2v2h-2zM368.5 171.5h2v2h-2zM461.5 111.5h2v2h-2zM441.5 124.5h2v2h-2zM458.5 136.5h2v2h-2zM460.5 140.5h2v2h-2zM446.5 141.5h2v2h-2zM448.5 141.5h2v2h-2zM452.5 147.5h2v2h-2zM423.5 155.5h2v2h-2zM454.5 160.5h2v2h-2zM456.5 160.5h2v2h-2zM429.5 166.5h2v2h-2zM423.5 166.5h2v2h-2zM420.5 168.5h2v2h-2zM346.5 180.5h2v2h-2zM354.5 171.5h2v2h-2zM363.5 187.5h2v2h-2zM342.5 218.5h2v2h-2zM390.5 163.5h2v2h-2zM426.5 161.5h2v2h-2zM433.5 162.5h2v2h-2zM429.5 166.5h2v2h-2zM422.5 167.5h2v2h-2zM419.5 169.5h2v2h-2zM421.5 171.5h2v2h-2zM423.5 173.5h2v2h-2zM429.5 174.5h2v2h-2zM425.5 177.5h2v2h-2zM425.5 179.5h2v2h-2zM420.5 178.5h2v2h-2zM421.5 179.5h2v2h-2zM420.5 180.5h2v2h-2zM421.5 177.5h2v2h-2zM409.5 177.5h2v2h-2zM415.5 183.5h2v2h-2zM416.5 184.5h2v2h-2zM415.5 185.5h2v2h-2zM422.5 187.5h2v2h-2zM425.5 190.5h2v2h-2zM391.5 187.5h2v2h-2zM393.5 191.5h2v2h-2zM393.5 195.5h2v2h-2zM392.5 197.5h2v2h-2zM414.5 197.5h2v2h-2zM415.5 197.5h2v2h-2zM404.5 198.5h2v2h-2zM409.5 201.5h2v2h-2zM410.5 203.5h2v2h-2zM396.5 205.5h2v2h-2zM388.5 202.5h2v2h-2zM389.5 205.5h2v2h-2zM390.5 207.5h2v2h-2zM391.5 210.5h2v2h-2zM404.5 214.5h2v2h-2zM393.5 215.5h2v2h-2zM389.5 219.5h2v2h-2zM343 83.4h2v2.3h-2zM344.7 83.4h2v2.3h-2zM346.5 83.4h2v2.3h-2zM348.2 83.4h2v2.3h-2zM349.9 83.4h2v2.3h-2zM351.7 83.4h2v2.3h-2zM353.4 83.4h2v2.3h-2zM355.2 83.4h2v2.3h-2zM356.9 83.4h2v2.3h-2zM358.6 83.4h2v2.3h-2zM360.4 83.4h2v2.3h-2zM362.1 83.4h2v2.3h-2zM363.8 83.4h2v2.3h-2zM365.6 83.4h2v2.3h-2zM367.3 83.4h2v2.3h-2zM369.1 83.4h2v2.3h-2zM370.8 83.4h2v2.3h-2zM372.5 83.4h2v2.3h-2zM374.3 83.4h2v2.3h-2zM376 83.4h2v2.3h-2zM390 83.4h2v2.3h-2zM393 83.4h2v2.3h-2zM402 83.4h2v2.3h-2zM404.8 83.4h2v2.3h-2zM407.7 83.4h2v2.3h-2zM410.5 83.4h2v2.3h-2zM413.3 83.4h2v2.3h-2zM416.2 83.4h2v2.3h-2zM419 83.4h2v2.3h-2zM431 83.4h2v2.3h-2zM434 83.4h2v2.3h-2zM437 83.4h2v2.3h-2zM440 83.4h2v2.3h-2zM443 83.4h2v2.3h-2zM454 83.4h2v2.3h-2zM457 83.4h2v2.3h-2zM460 83.4h2v2.3h-2zM485 83.4h2v2.3h-2zM489 83.4h2v2.3h-2zM494 83.4h2v2.3h-2z" fill="#000"/>
<polygon points="367.6,214 386,187.2 411.4,168.8 428.7,201 376.5,244.3" fill="none" stroke="#000" stroke-width="1.2"/>
<path d="M86 518.5V518.4H87.9V518.3H89.8V518.2H91.7V518.1H93.6V518H95.5V517.4H97.4V516.2H99.3V515H101.2V513.8H103.1V512.4H105V510.7H106.9V509.1H108.8V507.4H110.7V505.2H112.6V502.4H114.5V499.6H116.4V496.7H118.3V493.5H120.2V489.7H122.1V485.8H124V482H125.9V473.6H127.8V464.5H129.7V455.3H131.6V445.8H133.5V436.3H135.4V427.9H137.3V421.8H139.2V415.8H141.1V409.9H143V406.4H144.9V411H146.8V419.1H148.7V431.3H150.6V443.5H152.5V457H154.4V471H156.3V483.4H158.2V494.9H160.1V502.3H162V507.7H163.9V512.5H165.8V514.4H167.7V516.3H169.6V518H171.5V518.1H173.4V518.2H175.3V518.3H177.2V518.4H179.1V518.5H181V518.6H182.9V518.7H184.8V518.8H186.7V518.9H188.6V519H190.5V519.1H192.4V519.2H194.3V519.3H196.2V519.4H198.1V519.5H200V519.5V521H86Z" fill="url(#stip)" stroke="none"/>
<path d="M86 518.5V518.4H87.9V518.3H89.8V518.2H91.7V518.1H93.6V518H95.5V517.4H97.4V516.2H99.3V515H101.2V513.8H103.1V512.4H105V510.7H106.9V509.1H108.8V507.4H110.7V505.2H112.6V502.4H114.5V499.6H116.4V496.7H118.3V493.5H120.2V489.7H122.1V485.8H124V482H125.9V473.6H127.8V464.5H129.7V455.3H131.6V445.8H133.5V436.3H135.4V427.9H137.3V421.8H139.2V415.8H141.1V409.9H143V406.4H144.9V411H146.8V419.1H148.7V431.3H150.6V443.5H152.5V457H154.4V471H156.3V483.4H158.2V494.9H160.1V502.3H162V507.7H163.9V512.5H165.8V514.4H167.7V516.3H169.6V518H171.5V518.1H173.4V518.2H175.3V518.3H177.2V518.4H179.1V518.5H181V518.6H182.9V518.7H184.8V518.8H186.7V518.9H188.6V519H190.5V519.1H192.4V519.2H194.3V519.3H196.2V519.4H198.1V519.5H200V519.5" fill="none" stroke="#000" stroke-width="1.45" stroke-linejoin="miter"/>
<path d="M88 518.4V518.4H89.9V518.4H91.8V518.4H93.7V518.5H95.6V518.5H97.5V518.5H99.4V518.5H101.3V518.5H103.1V518.4H105V518.4H106.9V518.4H108.8V518.3H110.7V518.3H112.6V518.2H114.5V518.2H116.4V517.7H118.3V516.9H120.2V515.7H122.1V514.4H124V513.2H125.9V511.5H127.8V508.9H129.7V506.4H131.5V502.8H133.4V497.2H135.3V491.5H137.2V485.6H139.1V478.7H141V471.8H142.9V464.5H144.8V455.4H146.7V446.3H148.6V436.2H150.5V425.7H152.4V420.7H154.3V418.9H156.2V414.3H158.1V408.3H159.9V406.5H161.8V413.1H163.7V416.7H165.6V417.8H167.5V422.7H169.4V435.1H171.3V440.7H173.2V447H175.1V455.7H177V464.5H178.9V474.1H180.8V483.2H182.7V490.8H184.6V494.9H186.5V497.6H188.3V500.9H190.2V507.8H192.1V511.8H194V514.1H195.9V516.2H197.8V516.7H199.7V517.2H201.6V517.7H203.5V518H205.4V518.1H207.3V518.2H209.2V518.3H211.1V518.3H213V518.4H214.9V518.5H216.7V518.5H218.6V518.6H220.5V518.7H222.4V518.8H224.3V518.9H226.2V519.4H228.1V519.8H230V520" fill="none" stroke="#000" stroke-width="3.2" stroke-linejoin="miter"/>
<path d="M85.3 521V354.2H262.8V521" fill="none" stroke="#000" stroke-width="1.7"/>
<path d="M84.5 521H263.6" fill="none" stroke="#000" stroke-width="3.0"/>
<path d="M87.8 521v9.6M104.8 521v5.4M114.7 521v5.4M121.7 521v5.4M127.2 521v5.4M131.6 521v5.4M135.4 521v5.4M138.7 521v5.4M141.6 521v5.4M144.2 521v9.6M161.1 521v5.4M171 521v5.4M178.1 521v5.4M183.5 521v5.4M188 521v5.4M191.8 521v5.4M195 521v5.4M197.9 521v5.4M200.5 521v9.6M217.5 521v5.4M227.4 521v5.4M234.4 521v5.4M239.9 521v5.4M244.3 521v5.4M248.1 521v5.4M251.4 521v5.4M254.3 521v5.4M256.9 521v9.6" stroke="#000" stroke-width="1.5" fill="none"/>
<text transform="translate(89.1 549) scale(0.72 1)" font-size="16.3" text-anchor="end">10</text>
<text transform="translate(89.7 539.8) scale(0.89 1)" font-size="16.2" text-anchor="start">0</text>
<text transform="translate(145.5 549) scale(0.72 1)" font-size="16.3" text-anchor="end">10</text>
<text transform="translate(146.1 539.8) scale(0.89 1)" font-size="16.2" text-anchor="start">1</text>
<text transform="translate(201.8 549) scale(0.72 1)" font-size="16.3" text-anchor="end">10</text>
<text transform="translate(202.4 539.8) scale(0.89 1)" font-size="16.2" text-anchor="start">2</text>
<text transform="translate(258.2 549) scale(0.72 1)" font-size="16.3" text-anchor="end">10</text>
<text transform="translate(258.8 539.8) scale(0.89 1)" font-size="16.2" text-anchor="start">3</text>
<path d="M330.5 515.4V514.5H332.4V512.6H334.3V510.8H336.2V508.9H338.1V507.1H340V505.2H341.9V503.3H343.8V501.4H345.7V499H347.6V495.2H349.5V491.3H351.4V487.4H353.4V483.6H355.3V479.8H357.2V476H359.1V472.2H361V467.9H362.9V462.3H364.8V456.6H366.7V450.6H368.6V443H370.5V435.3H372.4V427.2H374.3V418.8H376.2V411.2H378.1V409.3H380V406.7H381.9V409.7H383.8V414.7H385.7V420.3H387.6V431.7H389.5V443.2H391.4V454.5H393.3V465.8H395.2V476.7H397.1V487.3H399.1V495.9H401V502.8H402.9V509.6H404.8V512.1H406.7V514.7H408.6V517.2H410.5V518.2H412.4V519.2H414.3V520.1H416.2V520.5H418.1V520.8H420V521V521.7H330.5Z" fill="url(#stip)" stroke="none"/>
<path d="M330.5 515.4V514.5H332.4V512.6H334.3V510.8H336.2V508.9H338.1V507.1H340V505.2H341.9V503.3H343.8V501.4H345.7V499H347.6V495.2H349.5V491.3H351.4V487.4H353.4V483.6H355.3V479.8H357.2V476H359.1V472.2H361V467.9H362.9V462.3H364.8V456.6H366.7V450.6H368.6V443H370.5V435.3H372.4V427.2H374.3V418.8H376.2V411.2H378.1V409.3H380V406.7H381.9V409.7H383.8V414.7H385.7V420.3H387.6V431.7H389.5V443.2H391.4V454.5H393.3V465.8H395.2V476.7H397.1V487.3H399.1V495.9H401V502.8H402.9V509.6H404.8V512.1H406.7V514.7H408.6V517.2H410.5V518.2H412.4V519.2H414.3V520.1H416.2V520.5H418.1V520.8H420V521" fill="none" stroke="#000" stroke-width="1.45" stroke-linejoin="miter"/>
<path d="M330.5 511.5V511.4H332.4V511.2H334.3V511H336.2V510.7H338.1V509.8H340.1V507.2H342V504.6H343.9V502.7H345.8V501.9H347.7V501.2H349.6V500.5H351.5V498.3H353.4V493H355.4V487.6H357.3V483.5H359.2V479.7H361.1V476H363V471.4H364.9V464.5H366.8V457.6H368.7V451.9H370.7V446.5H372.6V441.1H374.5V435.7H376.4V430.4H378.3V423.3H380.2V415.6H382.1V411.6H384V409.6H386V416.5H387.9V423H389.8V433.6H391.7V443.7H393.6V451.3H395.5V459H397.4V467.7H399.3V476.9H401.2V485.7H403.2V492.6H405.1V499.5H407V504.4H408.9V508.2H410.8V512H412.7V514.3H414.6V515.5H416.5V516.7H418.5V517.8H420.4V518.2H422.3V518.6H424.2V519H426.1V519.1H428V519.1H429.9V519.2H431.8V519.3H433.8V519.4H435.7V519.4H437.6V518.6H439.5V518.2H441.4V518.7H443.3V519.1H445.2V519.4H447.1V519.4H449.1V519.5H451V519.5H452.9V519.6H454.8V519.6H456.7V519.1H458.6V518.6H460.5V518.8H462.4V519.2H464.4V519.5H466.3V519.9H468.2V520.3H470.1V520.8H472V521" fill="none" stroke="#000" stroke-width="3.4" stroke-linejoin="miter"/>
<path d="M329.1 521.7V355.2H505.6V521.7" fill="none" stroke="#000" stroke-width="1.7"/>
<path d="M329.1 521.7V354.3" fill="none" stroke="#000" stroke-width="2.4"/>
<path d="M328.3 521.7H506.4" fill="none" stroke="#000" stroke-width="3.0"/>
<path d="M331.6 521.7v9.6M348.5 521.7v5.4M358.3 521.7v5.4M365.3 521.7v5.4M370.7 521.7v5.4M375.2 521.7v5.4M378.9 521.7v5.4M382.2 521.7v5.4M385 521.7v5.4M387.6 521.7v9.6M404.5 521.7v5.4M414.3 521.7v5.4M421.3 521.7v5.4M426.7 521.7v5.4M431.2 521.7v5.4M434.9 521.7v5.4M438.2 521.7v5.4M441 521.7v5.4M443.6 521.7v9.6M460.5 521.7v5.4M470.3 521.7v5.4M477.3 521.7v5.4M482.7 521.7v5.4M487.2 521.7v5.4M490.9 521.7v5.4M494.2 521.7v5.4M497 521.7v5.4M499.6 521.7v9.6" stroke="#000" stroke-width="1.5" fill="none"/>
<text transform="translate(332.9 549.8) scale(0.72 1)" font-size="16.3" text-anchor="end">10</text>
<text transform="translate(333.5 540.6) scale(0.89 1)" font-size="16.2" text-anchor="start">0</text>
<text transform="translate(388.9 549.8) scale(0.72 1)" font-size="16.3" text-anchor="end">10</text>
<text transform="translate(389.5 540.6) scale(0.89 1)" font-size="16.2" text-anchor="start">1</text>
<text transform="translate(444.9 549.8) scale(0.72 1)" font-size="16.3" text-anchor="end">10</text>
<text transform="translate(445.5 540.6) scale(0.89 1)" font-size="16.2" text-anchor="start">2</text>
<text transform="translate(500.9 549.8) scale(0.72 1)" font-size="16.3" text-anchor="end">10</text>
<text transform="translate(501.5 540.6) scale(0.89 1)" font-size="16.2" text-anchor="start">3</text>
<path d="M86.5 729V729.5H88.4V734H90.3V737.3H92.2V728.7H94.1V733.5H96V727.7H97.9V722.9H99.9V727.7H101.8V721.9H103.7V718.6H105.6V717.5H107.5V716.4H109.4V711.9H111.3V706.7H113.2V701.4H115.1V696.3H117V691.1H118.9V685.3H120.8V677.7H122.8V670.1H124.7V666.7H126.6V664.8H128.5V658.1H130.4V649.4H132.3V645.5H134.2V637.4H136.1V631.5H138V636.9H139.9V647.4H141.8V654.6H143.7V660.2H145.7V671.1H147.6V685.1H149.5V699.6H151.4V713.7H153.3V725H155.2V735.7H157.1V739.5H159V743.3H160.9V745.3H162.8V745.9H164.7V746.5H166.6V747.1H168.6V747.6H170.5V748.2H172.4V748.7H174.3V749.2H176.2V749.7H178.1V750.2H180V750.5V751H86.5Z" fill="url(#stip)" stroke="none"/>
<path d="M86.5 729V729.5H88.4V734H90.3V737.3H92.2V728.7H94.1V733.5H96V727.7H97.9V722.9H99.9V727.7H101.8V721.9H103.7V718.6H105.6V717.5H107.5V716.4H109.4V711.9H111.3V706.7H113.2V701.4H115.1V696.3H117V691.1H118.9V685.3H120.8V677.7H122.8V670.1H124.7V666.7H126.6V664.8H128.5V658.1H130.4V649.4H132.3V645.5H134.2V637.4H136.1V631.5H138V636.9H139.9V647.4H141.8V654.6H143.7V660.2H145.7V671.1H147.6V685.1H149.5V699.6H151.4V713.7H153.3V725H155.2V735.7H157.1V739.5H159V743.3H160.9V745.3H162.8V745.9H164.7V746.5H166.6V747.1H168.6V747.6H170.5V748.2H172.4V748.7H174.3V749.2H176.2V749.7H178.1V750.2H180V750.5" fill="none" stroke="#000" stroke-width="1.45" stroke-linejoin="miter"/>
<path d="M86.5 735V741.6H88.4V749.1H90.3V749.5H92.2V748.7H94.1V747.5H96V746H97.9V746H99.8V746H101.7V746H103.6V746H105.5V746.2H107.4V746.5H109.3V746.7H111.2V747H113.1V746.5H115V746.1H116.8V745.6H118.7V745.1H120.6V744.7H122.5V744.2H124.4V743.8H126.3V743.3H128.2V742.7H130.1V742.1H132V741.5H133.9V740.8H135.8V740.2H137.7V741H139.6V742.1H141.5V741.6H143.4V740.5H145.3V739.4H147.2V738.4H149.1V738.1H151V737.8H152.9V737.6H154.8V737.3H156.7V736H158.6V734.5H160.5V733.2H162.4V732.3H164.3V731.5H166.2V733.1H168.1V734.4H170V728.7H171.9V723.5H173.8V717.8H175.6V712.2H177.5V710.4H179.4V708.5H181.3V693.1H183.2V695H185.1V686.3H187V675.1H188.9V661.3H190.8V658.6H192.7V657.5H194.6V666.2H196.5V660.9H198.4V656.8H200.3V652H202.2V646.8H204.1V641.1H206V636.8H207.9V635.4H209.8V634.4H211.7V636.8H213.6V639.2H215.5V637.4H217.4V634.4H219.3V636.8H221.2V642H223.1V654.6H225V665.3H226.9V675.2H228.8V685.6H230.7V698.7H232.5V710.9H234.4V716.1H236.3V721.2H238.2V726.2H240.1V730.6H242V735H243.9V739.3H245.8V740.9H247.7V742.6H249.6V744.2H251.5V745.2H253.4V745.6H255.3V746H257.2V746.4H259.1V746.8H261V747" fill="none" stroke="#000" stroke-width="3.3" stroke-linejoin="miter"/>
<path d="M85.3 751V583.6H261.8V751" fill="none" stroke="#000" stroke-width="1.7"/>
<path d="M85.3 751V582.8" fill="none" stroke="#000" stroke-width="3.0"/>
<path d="M84.5 751H262.6" fill="none" stroke="#000" stroke-width="3.0"/>
<path d="M87.5 751v9.6M104.4 751v5.4M114.2 751v5.4M121.2 751v5.4M126.6 751v5.4M131.1 751v5.4M134.8 751v5.4M138.1 751v5.4M140.9 751v5.4M143.5 751v9.6M160.4 751v5.4M170.2 751v5.4M177.2 751v5.4M182.6 751v5.4M187.1 751v5.4M190.8 751v5.4M194.1 751v5.4M196.9 751v5.4M199.5 751v9.6M216.4 751v5.4M226.2 751v5.4M233.2 751v5.4M238.6 751v5.4M243.1 751v5.4M246.8 751v5.4M250.1 751v5.4M252.9 751v5.4M255.5 751v9.6" stroke="#000" stroke-width="1.5" fill="none"/>
<text transform="translate(88.8 779) scale(0.72 1)" font-size="16.3" text-anchor="end">10</text>
<text transform="translate(89.4 769.8) scale(0.89 1)" font-size="16.2" text-anchor="start">0</text>
<text transform="translate(144.8 779) scale(0.72 1)" font-size="16.3" text-anchor="end">10</text>
<text transform="translate(145.4 769.8) scale(0.89 1)" font-size="16.2" text-anchor="start">1</text>
<text transform="translate(200.8 779) scale(0.72 1)" font-size="16.3" text-anchor="end">10</text>
<text transform="translate(201.4 769.8) scale(0.89 1)" font-size="16.2" text-anchor="start">2</text>
<text transform="translate(256.8 779) scale(0.72 1)" font-size="16.3" text-anchor="end">10</text>
<text transform="translate(257.4 769.8) scale(0.89 1)" font-size="16.2" text-anchor="start">3</text>
<path d="M332.2 724V724.4H334.1V725.3H336V726H337.9V720.7H339.8V717H341.6V714.4H343.5V711.8H345.4V705H347.3V706.4H349.2V708H351.1V699.9H353V695.6H354.9V691.3H356.7V686.7H358.6V681.5H360.5V676.2H362.4V670.5H364.3V664.9H366.2V658.7H368.1V652.4H370V648.1H371.9V651.2H373.7V646H375.6V643.1H377.5V642.3H379.4V641.4H381.3V640.4H383.2V645.7H385.1V652.3H387V659.2H388.8V667H390.7V680.1H392.6V694.2H394.5V709.2H396.4V720.5H398.3V731.2H400.2V735.9H402.1V739.6H403.9V747.5H405.8V746.4H407.7V744.2H409.6V746.7H411.5V748V750.3H332.2Z" fill="url(#stip)" stroke="none"/>
<path d="M332.2 724V724.4H334.1V725.3H336V726H337.9V720.7H339.8V717H341.6V714.4H343.5V711.8H345.4V705H347.3V706.4H349.2V708H351.1V699.9H353V695.6H354.9V691.3H356.7V686.7H358.6V681.5H360.5V676.2H362.4V670.5H364.3V664.9H366.2V658.7H368.1V652.4H370V648.1H371.9V651.2H373.7V646H375.6V643.1H377.5V642.3H379.4V641.4H381.3V640.4H383.2V645.7H385.1V652.3H387V659.2H388.8V667H390.7V680.1H392.6V694.2H394.5V709.2H396.4V720.5H398.3V731.2H400.2V735.9H402.1V739.6H403.9V747.5H405.8V746.4H407.7V744.2H409.6V746.7H411.5V748" fill="none" stroke="#000" stroke-width="1.45" stroke-linejoin="miter"/>
<path d="M332.6 748V728.2H334.5V724.6H336.4V723.2H338.3V721.8H340.2V720.4H342.1V719H344V717.8H345.9V716.7H347.9V715.6H349.8V714.4H351.7V710.5H353.6V705.9H355.5V703.9H357.4V702.4H359.3V701H361.2V694H363.1V685.2H365V681.4H366.9V677.6H368.8V670.8H370.7V663.8H372.6V657.7H374.5V652.6H376.5V647H378.4V635.8H380.3V635.8H382.2V635.8H384.1V635.8H386V635.8H387.9V635.8H389.8V640.8H391.7V648.3H393.6V655.9H395.5V663.4H397.4V673.4H399.3V683.4H401.2V693.2H403.1V703H405.1V711.5H407V720H408.9V725.9H410.8V730.7H412.7V733.7H414.6V736.6H416.5V738.5H418.4V740.5H420.3V742.4H422.2V744H424.1V745.5H426V745.6H427.9V745.7H429.8V745.7H431.7V745.8H433.7V745.9H435.6V746H437.5V746H439.4V746.1H441.3V746.2H443.2V746.3H445.1V747.5H447V748.5" fill="none" stroke="#000" stroke-width="3.9" stroke-linejoin="miter"/>
<path d="M331 750.3V583.5H508V750.3" fill="none" stroke="#000" stroke-width="1.7"/>
<path d="M331 750.3V582.6" fill="none" stroke="#000" stroke-width="2.2"/>
<path d="M330.2 750.3H508.8" fill="none" stroke="#000" stroke-width="3.0"/>
<path d="M332 750.3v9.6M349.1 750.3v5.4M359.1 750.3v5.4M366.2 750.3v5.4M371.7 750.3v5.4M376.2 750.3v5.4M380 750.3v5.4M383.3 750.3v5.4M386.2 750.3v5.4M388.8 750.3v9.6M405.9 750.3v5.4M415.9 750.3v5.4M423 750.3v5.4M428.5 750.3v5.4M433 750.3v5.4M436.8 750.3v5.4M440.1 750.3v5.4M443 750.3v5.4M445.6 750.3v9.6M462.7 750.3v5.4M472.7 750.3v5.4M479.8 750.3v5.4M485.3 750.3v5.4M489.8 750.3v5.4M493.6 750.3v5.4M496.9 750.3v5.4M499.8 750.3v5.4M502.4 750.3v9.6" stroke="#000" stroke-width="1.5" fill="none"/>
<text transform="translate(333.3 777.8) scale(0.72 1)" font-size="16.3" text-anchor="end">10</text>
<text transform="translate(333.9 768.6) scale(0.89 1)" font-size="16.2" text-anchor="start">0</text>
<text transform="translate(390.1 777.8) scale(0.72 1)" font-size="16.3" text-anchor="end">10</text>
<text transform="translate(390.7 768.6) scale(0.89 1)" font-size="16.2" text-anchor="start">1</text>
<text transform="translate(446.9 777.8) scale(0.72 1)" font-size="16.3" text-anchor="end">10</text>
<text transform="translate(447.5 768.6) scale(0.89 1)" font-size="16.2" text-anchor="start">2</text>
<text transform="translate(503.7 777.8) scale(0.72 1)" font-size="16.3" text-anchor="end">10</text>
<text transform="translate(504.3 768.6) scale(0.89 1)" font-size="16.2" text-anchor="start">3</text>
<path d="M88.5 956V955.8H90.4V963.5H92.3V956.7H94.2V960.5H96.1V951.9H98V954H99.9V951.4H101.8V948.5H103.8V945.7H105.7V941H107.6V936H109.5V930.7H111.4V924.6H113.3V918.5H115.2V911.7H117.1V904.9H119V899.4H120.9V895.3H122.8V885.9H124.7V876.7H126.6V864.4H128.5V868.6H130.4V877.2H132.3V887.8H134.2V899.9H136.2V917.6H138.1V933.6H140V948.1H141.9V959.5H143.8V966.5H145.7V970.3H147.6V971.2H149.5V972H151.4V972.8H153.3V973.2H155.2V973.3H157.1V973.5H159V973.6H160.9V973.7H162.8V973.9H164.8V974H166.7V974.1H168.6V974.3H170.5V974.4H172.4V974.5H174.3V974.7H176.2V974.8H178.1V974.9H180V975V978H88.5Z" fill="url(#stip)" stroke="none"/>
<path d="M88.5 956V955.8H90.4V963.5H92.3V956.7H94.2V960.5H96.1V951.9H98V954H99.9V951.4H101.8V948.5H103.8V945.7H105.7V941H107.6V936H109.5V930.7H111.4V924.6H113.3V918.5H115.2V911.7H117.1V904.9H119V899.4H120.9V895.3H122.8V885.9H124.7V876.7H126.6V864.4H128.5V868.6H130.4V877.2H132.3V887.8H134.2V899.9H136.2V917.6H138.1V933.6H140V948.1H141.9V959.5H143.8V966.5H145.7V970.3H147.6V971.2H149.5V972H151.4V972.8H153.3V973.2H155.2V973.3H157.1V973.5H159V973.6H160.9V973.7H162.8V973.9H164.8V974H166.7V974.1H168.6V974.3H170.5V974.4H172.4V974.5H174.3V974.7H176.2V974.8H178.1V974.9H180V975" fill="none" stroke="#000" stroke-width="1.45" stroke-linejoin="miter"/>
<path d="M88.5 976.2V976.2H90.4V976.2H92.3V976.2H94.2V976.2H96.1V976.2H98V976.2H99.9V976.2H101.8V976.2H103.7V976.2H105.6V976.2H107.5V976.2H109.4V976.2H111.3V976.2H113.2V976.2H115.1V976.2H117V976.2H118.9V976.2H120.8V976.2H122.7V976.2H124.6V976.2H126.5V976.2H128.4V976.2H130.3V976.2H132.2V975.5H134.2V974.3H136.1V973.2H138V973.3H139.9V973.3H141.8V973.4H143.7V973.4H145.6V973.5H147.5V973.6H149.4V973.6H151.3V973.5H153.2V973.4H155.1V973.4H157V973.3H158.9V973.2H160.8V973.4H162.7V973.6H164.6V973.8H166.5V973.9H168.4V974.1H170.3V974.5H172.2V975H174.1V975.5H176V975.9H177.9V976.6H179.8V976.2H181.7V975.6H183.6V974.9H185.5V974.3H187.4V973.5H189.3V972.5H191.2V971.6H193.1V970.7H195V969.1H196.9V966.9H198.8V964.7H200.7V963.2H202.6V962.5H204.5V961.7H206.4V961H208.3V958.9H210.2V954.7H212.1V950.5H214V948.3H215.9V946.4H217.8V941.1H219.8V935.5H221.7V930.1H223.6V924.8H225.5V918.7H227.4V911H229.3V903.8H231.2V897.7H233.1V891.6H235V887.4H236.9V883.6H238.8V879.6H240.7V875.4H242.6V871.4H244.5V868.4H246.4V864.4H248.3V864.8H250.2V865.3H252.1V872.5H254V883.5H255.9V898.6H257.8V913.7H259.7V928.7H261.6V942.4H263.5V951.9" fill="none" stroke="#000" stroke-width="3.6" stroke-linejoin="miter"/>
<path d="M87.4 978V811.3H263.8V978" fill="none" stroke="#000" stroke-width="1.7"/>
<path d="M87.4 978V810.4" fill="none" stroke="#000" stroke-width="3.4"/>
<path d="M86.6 978H264.6" fill="none" stroke="#000" stroke-width="3.6"/>
<path d="M89 978v9.6M102.1 978v5.4M109.8 978v5.4M115.2 978v5.4M119.4 978v5.4M122.8 978v5.4M125.8 978v5.4M128.3 978v5.4M130.5 978v5.4M132.5 978v9.6M145.6 978v5.4M153.3 978v5.4M158.7 978v5.4M162.9 978v5.4M166.3 978v5.4M169.3 978v5.4M171.8 978v5.4M174 978v5.4M176 978v9.6M189.1 978v5.4M196.8 978v5.4M202.2 978v5.4M206.4 978v5.4M209.8 978v5.4M212.8 978v5.4M215.3 978v5.4M217.5 978v5.4M219.5 978v9.6M232.6 978v5.4M240.3 978v5.4M245.7 978v5.4M249.9 978v5.4M253.3 978v5.4M256.3 978v5.4M258.8 978v5.4M261 978v5.4M263 978v9.6" stroke="#000" stroke-width="1.5" fill="none"/>
<text transform="translate(90.3 1005.4) scale(0.72 1)" font-size="16.3" text-anchor="end">10</text>
<text transform="translate(90.9 996.2) scale(0.89 1)" font-size="16.2" text-anchor="start">0</text>
<text transform="translate(133.8 1005.4) scale(0.72 1)" font-size="16.3" text-anchor="end">10</text>
<text transform="translate(134.4 996.2) scale(0.89 1)" font-size="16.2" text-anchor="start">1</text>
<text transform="translate(177.3 1005.4) scale(0.72 1)" font-size="16.3" text-anchor="end">10</text>
<text transform="translate(177.9 996.2) scale(0.89 1)" font-size="16.2" text-anchor="start">2</text>
<text transform="translate(220.8 1005.4) scale(0.72 1)" font-size="16.3" text-anchor="end">10</text>
<text transform="translate(221.4 996.2) scale(0.89 1)" font-size="16.2" text-anchor="start">3</text>
<text transform="translate(264.3 1005.4) scale(0.72 1)" font-size="16.3" text-anchor="end">10</text>
<text transform="translate(264.9 996.2) scale(0.89 1)" font-size="16.2" text-anchor="start">4</text>
<path d="M333 946V946.8H334.9V952.9H336.8V950.1H338.7V945.9H340.6V941.7H342.5V937.5H344.5V931.7H346.4V936.5H348.3V932H350.2V924.3H352.1V915.1H354V908.1H355.9V902.5H357.8V895.7H359.7V887.9H361.6V880.3H363.5V877H365.5V872.3H367.4V863.4H369.3V856.7H371.2V871.2H373.1V867.3H375V882.4H376.9V893H378.8V907.8H380.7V926.7H382.6V943.2H384.5V956.1H386.5V965.1H388.4V971.2H390.3V973.4H392.2V974.1H394.1V974.7H396V975V978H333Z" fill="url(#stip)" stroke="none"/>
<path d="M333 946V946.8H334.9V952.9H336.8V950.1H338.7V945.9H340.6V941.7H342.5V937.5H344.5V931.7H346.4V936.5H348.3V932H350.2V924.3H352.1V915.1H354V908.1H355.9V902.5H357.8V895.7H359.7V887.9H361.6V880.3H363.5V877H365.5V872.3H367.4V863.4H369.3V856.7H371.2V871.2H373.1V867.3H375V882.4H376.9V893H378.8V907.8H380.7V926.7H382.6V943.2H384.5V956.1H386.5V965.1H388.4V971.2H390.3V973.4H392.2V974.1H394.1V974.7H396V975" fill="none" stroke="#000" stroke-width="1.45" stroke-linejoin="miter"/>
<path d="M333.7 947V959.7H335.6V973H337.5V974.1H339.4V975H341.3V975H343.2V975H345.1V975H346.9V975H348.8V975H350.7V975H352.6V975H354.5V974.6H356.4V973.2H358.3V973.2H360.2V973.2H362.1V973.7H364V974.5H365.9V975H367.8V974.8H369.7V974.7H371.5V974.6H373.4V974.4H375.3V974.3H377.2V974.2H379.1V974.1H381V973.9H382.9V973.8H384.8V973.7H386.7V973.6H388.6V973.4H390.5V973.3H392.4V973.2H394.3V973.1H396.1V972.9H398V972.8H399.9V972.7H401.8V972.6H403.7V972.4H405.6V972.3H407.5V972.2H409.4V971.1H411.3V968.9H413.2V967.3H415.1V968.3H417V971.2H418.9V969.7H420.8V966.9H422.6V965.4H424.5V968.9H426.4V970.2H428.3V968.8H430.2V967.9H432.1V966.6H434V964.7H435.9V963.3H437.8V962.5H439.7V961.8H441.6V961.1H443.5V959.8H445.4V957.3H447.2V954.8H449.1V952.9H451V954.1H452.9V954.8H454.8V949.4H456.7V944.9H458.6V943H460.5V942.6H462.4V942H464.3V939.1H466.2V935.4H468.1V925.4H470V912.3H471.8V901.4H473.7V893.6H475.6V881.1H477.5V871.2H479.4V863.5H481.3V863.5H483.2V868H485.1V872.7H487V880.1H488.9V887.8H490.8V897.5H492.7V904.9H494.6V907.8H496.4V913.3H498.3V923.3H500.2V925.8H502.1V926.7H504V934.8H505.9V943.2H507.8V946.2" fill="none" stroke="#000" stroke-width="3.2" stroke-linejoin="miter"/>
<path d="M331.6 978V812.1H508.1V978" fill="none" stroke="#000" stroke-width="1.7"/>
<path d="M330.8 978H508.9" fill="none" stroke="#000" stroke-width="3.4"/>
<path d="M334.2 978v9.6M347.2 978v5.4M354.9 978v5.4M360.3 978v5.4M364.5 978v5.4M367.9 978v5.4M370.8 978v5.4M373.3 978v5.4M375.5 978v5.4M377.5 978v9.6M390.5 978v5.4M398.2 978v5.4M403.6 978v5.4M407.8 978v5.4M411.2 978v5.4M414.1 978v5.4M416.6 978v5.4M418.8 978v5.4M420.8 978v9.6M433.8 978v5.4M441.5 978v5.4M446.9 978v5.4M451.1 978v5.4M454.5 978v5.4M457.4 978v5.4M459.9 978v5.4M462.1 978v5.4M464.1 978v9.6M477.1 978v5.4M484.8 978v5.4M490.2 978v5.4M494.4 978v5.4M497.8 978v5.4M500.7 978v5.4M503.2 978v5.4M505.4 978v5.4M507.4 978v9.6" stroke="#000" stroke-width="1.5" fill="none"/>
<text transform="translate(335.5 1005.4) scale(0.72 1)" font-size="16.3" text-anchor="end">10</text>
<text transform="translate(336.1 996.2) scale(0.89 1)" font-size="16.2" text-anchor="start">0</text>
<text transform="translate(378.8 1005.4) scale(0.72 1)" font-size="16.3" text-anchor="end">10</text>
<text transform="translate(379.4 996.2) scale(0.89 1)" font-size="16.2" text-anchor="start">1</text>
<text transform="translate(422.1 1005.4) scale(0.72 1)" font-size="16.3" text-anchor="end">10</text>
<text transform="translate(422.7 996.2) scale(0.89 1)" font-size="16.2" text-anchor="start">2</text>
<text transform="translate(465.4 1005.4) scale(0.72 1)" font-size="16.3" text-anchor="end">10</text>
<text transform="translate(466 996.2) scale(0.89 1)" font-size="16.2" text-anchor="start">3</text>
<text transform="translate(508.7 1005.4) scale(0.72 1)" font-size="16.3" text-anchor="end">10</text>
<text transform="translate(509.3 996.2) scale(0.89 1)" font-size="16.2" text-anchor="start">4</text>
</g>
<path d="M332.2 811.3V824.2" stroke="#000" stroke-width="3.6"/>
<path d="M85.3 497.5H88.4V509H89.9V518H85.3Z" fill="#000"/>
<path d="M331 522V511.5" stroke="#000" stroke-width="3.4"/>
<g class="b" font-family='"Liberation Serif", "DejaVu Serif", serif' font-weight="bold">
<text transform="translate(5.2 433.8) scale(0.92 1)" font-size="25.8" text-anchor="start">H</text>
<text transform="translate(23.6 440.8) scale(1.03 1)" font-size="16.4" text-anchor="start">RED</text>
<text transform="translate(0.6 686.5) scale(0.94 1)" font-size="25.8" text-anchor="start">CD25</text>
<text transform="translate(0.6 908.7) scale(0.94 1)" font-size="25.8" text-anchor="start">CD69</text>
</g>
</svg></body></html>
